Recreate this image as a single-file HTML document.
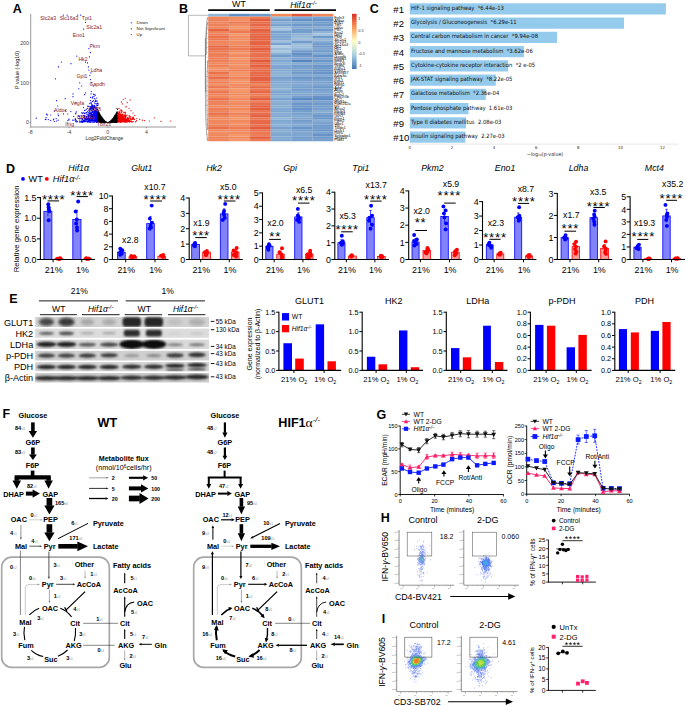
<!DOCTYPE html>
<html lang="en"><head><meta charset="utf-8"><title>Figure</title>
<style>html,body{margin:0;padding:0;background:#fff}svg{display:block}</style></head><body>
<svg width="685" height="706" viewBox="0 0 685 706" font-family="'Liberation Sans', sans-serif" fill="#000">
<rect width="685" height="706" fill="#fff"/>
<g id="pA">
<text x="17.3" y="12.8" font-size="12.5" text-anchor="middle" font-weight="bold">A</text>
<line x1="30.7" y1="13.9" x2="30.7" y2="127" stroke="#555" stroke-width="0.6"/>
<line x1="30.7" y1="127" x2="176" y2="127" stroke="#555" stroke-width="0.6"/>
<line x1="30.36" y1="127" x2="30.36" y2="128.2" stroke="#555" stroke-width="0.5"/>
<text x="30.36" y="134.07" font-size="5.2" text-anchor="middle" fill="#444">-8</text>
<line x1="69.08" y1="127" x2="69.08" y2="128.2" stroke="#555" stroke-width="0.5"/>
<text x="69.08" y="134.07" font-size="5.2" text-anchor="middle" fill="#444">-4</text>
<line x1="107.8" y1="127" x2="107.8" y2="128.2" stroke="#555" stroke-width="0.5"/>
<text x="107.8" y="134.07" font-size="5.2" text-anchor="middle" fill="#444">0</text>
<line x1="146.52" y1="127" x2="146.52" y2="128.2" stroke="#555" stroke-width="0.5"/>
<text x="146.52" y="134.07" font-size="5.2" text-anchor="middle" fill="#444">4</text>
<line x1="29.5" y1="122.6" x2="30.7" y2="122.6" stroke="#555" stroke-width="0.5"/>
<text x="28.8" y="124.47" font-size="5.2" text-anchor="end" fill="#444">0</text>
<line x1="29.5" y1="82.8" x2="30.7" y2="82.8" stroke="#555" stroke-width="0.5"/>
<text x="28.8" y="84.67" font-size="5.2" text-anchor="end" fill="#444">100</text>
<line x1="29.5" y1="43" x2="30.7" y2="43" stroke="#555" stroke-width="0.5"/>
<text x="28.8" y="44.87" font-size="5.2" text-anchor="end" fill="#444">200</text>
<text x="104.4" y="140.1" font-size="5" text-anchor="middle" fill="#222" textLength="37.6" lengthAdjust="spacingAndGlyphs">Log2FoldChange</text>
<text x="16.9" y="71.8" font-size="5" text-anchor="middle" fill="#222" transform="rotate(-90 16.9 70)" textLength="38" lengthAdjust="spacingAndGlyphs">P value (-log10)</text>
<path d="M97.6 120.4h0M97.5 119h0M95 99h0M95.1 118.6h0M84.4 113h0M92.6 114.6h0M94.5 111.8h0M94.9 117.1h0M96 110.3h0M94.2 116.5h0M94.9 115.1h0M95.9 116.9h0M91.6 104h0M95.7 121.1h0M95.7 116.1h0M96.9 115h0M83.5 107.5h0M95.2 120.2h0M96.1 119.7h0M92.7 96.9h0M95.8 114h0M84.4 121.8h0M95.1 111.8h0M96.2 109.9h0M92.8 106.8h0M97.2 118.8h0M91.5 115.4h0M95.4 108.7h0M94.5 110.3h0M87.3 117h0M97.7 118.4h0M91 106.3h0M96.8 121.4h0M83.6 120.5h0M92.8 105.4h0M94.5 113.8h0M89.3 121.8h0M94.5 121.3h0M92.2 104.8h0M96.4 112.4h0M84.5 116.5h0M89.4 121.6h0M96.7 121h0M97.4 116.4h0M98.1 104.9h0M88.9 114.8h0M88.4 120.7h0M86.9 120.8h0M90.2 112.1h0M92.1 114.3h0M97.4 117.3h0M91.8 112h0M92.4 111.7h0M91.2 106.6h0M92.3 115.2h0M90.9 120h0M97 113.6h0M94.2 112.4h0M92.7 101.6h0M96.7 119.3h0M81.8 119.1h0M89.1 116.4h0M95.4 121.4h0M96.6 122.4h0M85.8 119.1h0M89.3 109.8h0M96.7 120.1h0M97 107.7h0M82.2 118.6h0M98.1 110.5h0M92.4 119.8h0M95.9 117.9h0M89.7 119.4h0M89.3 120.2h0M95.4 118.6h0M93.1 117.9h0M90.3 115.6h0M90.8 114.2h0M94.7 107.3h0M88.6 118.6h0M96.1 115.5h0M91 121.2h0M91.4 120.9h0M97.5 109.7h0M93.5 94.1h0M97.5 116.9h0M92.7 115h0M92.2 115.1h0M94.1 117h0M97.8 116.6h0M91.6 110.6h0M90.2 108.5h0M97.3 105.7h0M85.5 119.8h0M94.9 118.9h0M85.8 121.6h0M79.5 121.8h0M87.1 114.8h0M92.6 116.2h0M86.9 119h0M91 114.7h0M92.5 106.4h0M90.3 122.4h0M96.8 116.8h0M95.4 119.4h0M91.9 105.3h0M93.4 120.4h0M97.2 121.8h0M90.3 117.3h0M96.8 109.4h0M89.4 120.6h0M92.9 116.1h0M87.6 106.1h0M94.8 121.4h0M90.5 115.1h0M84.5 110.5h0M88.7 117.1h0M93.2 111.7h0M95.1 113.9h0M94.1 112h0M89.4 113.4h0M83 121.4h0M94.8 115.2h0M93.4 122.2h0M91.4 112.9h0M87.8 122.1h0M87.3 114.9h0M97.9 121.4h0M92.8 111.1h0M95.3 111h0M97.1 108h0M88.6 121.9h0M95.1 117.7h0M95.5 119.6h0M84.7 120.1h0M97.2 119.3h0M97.3 113.3h0M95.4 117.5h0M85.4 113.1h0M93.5 113.5h0M83.7 117.5h0M90.6 119.4h0M98.1 118.6h0M94.3 114.8h0M95.6 114.2h0M89.9 118.9h0M97.8 112.2h0M97 113.3h0M85.3 121.1h0M95 114.2h0M92.2 120.5h0M91.4 114.5h0M95.9 120.4h0M95 114.2h0M96 114.8h0M87.7 119.6h0M91.8 110.2h0M96.4 104h0M85.2 117.1h0M94.5 114h0M85 110.4h0M89.9 119.1h0M94.4 120.2h0M97.1 101.1h0M94.4 116.4h0M94.7 103h0M89.1 121.4h0M97.1 112.3h0M92.4 118.7h0M94.2 118.4h0M93.5 109.5h0M91.8 118.6h0M97.3 118.8h0M97.6 116.8h0M96.6 111.8h0M95.8 101.4h0M94.2 116.7h0M93.5 109.2h0M89 115.2h0M98 103.6h0M94.9 117.9h0M88 114.8h0M96.1 121.7h0M96.1 114.2h0M92 119.8h0M92.2 105.4h0M97 114.8h0M95.4 114.2h0M91.8 108.1h0M84.4 118.5h0M92.9 120.3h0M96.8 115h0M98.1 117.7h0M88.7 112.9h0M97.5 117.4h0M83.2 115.5h0M97.1 103.6h0M95.8 120.8h0M90.3 116.8h0M89.6 111.8h0M94.3 105.3h0M79.8 118.6h0M92.8 120.5h0M93.4 114.5h0M96.7 116.8h0M95.6 115.9h0M90.3 120.5h0M94.5 114.9h0M92.2 112.6h0M94.5 110.3h0M92.9 109.4h0M86.1 118.6h0M93.6 116.9h0M97.4 119h0M94.4 107.6h0M93.2 116.4h0M95.2 118h0M75.6 121.2h0M88.2 114.8h0M94.9 120.2h0M93.8 119.4h0M81.8 121.2h0M86.3 109.3h0M98.1 115.2h0M85.8 119.5h0M96.8 115.8h0M88.7 106.4h0M95.2 103.6h0M96 116h0M95.1 113.4h0M88.8 110.6h0M89 119h0M93.3 107.8h0M90.1 118.4h0M94.8 115h0M88.4 116.2h0M80.1 118.4h0M90.6 119.9h0M98 120.9h0M90.3 109.6h0M95.9 107.8h0M92.3 117.9h0M91.3 106.4h0M95 115h0M91.9 119h0M92.6 117.7h0M82.5 119.4h0M79.8 120.1h0M97.2 118.6h0M93.4 116.7h0M90.2 118.8h0M96.1 113h0M93.5 120.7h0M95.2 120.5h0M91.5 113.2h0M88.9 120.1h0M94.7 117.5h0M94.7 120.1h0M98 117.7h0M98 110.8h0M96.7 109.9h0M88.5 121.6h0M95.7 120h0M92.1 112.6h0M98 116.7h0M97.5 117.2h0M94.7 117.7h0M86.6 117.4h0M97.7 119h0M97.2 120.7h0M96.7 113.7h0M84.5 115.7h0M91.6 112.8h0M95.1 117.4h0M91.4 108.4h0M96.4 117.7h0M96.7 98h0M88.6 119.4h0M85.6 118.6h0M88.4 116.6h0M95.4 111.6h0M95 120.2h0M88.1 112.9h0M92.5 119.1h0M95.2 117.8h0M87.3 118.7h0M97 121.7h0M93.1 112.3h0M97.5 119.9h0M93.6 108.7h0M93.9 120.7h0M86.6 112.4h0M92.4 118.4h0M90.5 115h0M94.8 113.9h0M91.8 117.8h0M88.6 121.8h0M90.1 120.1h0M94.2 120.2h0M97.3 114.3h0M97.4 109.4h0M76.3 120.3h0M86.5 116.7h0M96.6 108.1h0M94.3 115.6h0M86.2 109.3h0M94 106h0M87.8 121.5h0M91.1 119.6h0M94.8 114h0M91.2 121.3h0M97.5 113.5h0M83.4 121.5h0M89.3 118.5h0M96.8 119.1h0M93.9 107.2h0M92 118.2h0M95.6 120.4h0M79.3 116.4h0M96.9 111.4h0M90.5 117.2h0M97.2 115.2h0M95.2 115.1h0M96.7 112.7h0M86.5 112.8h0M94.2 106.4h0M95.7 119.3h0M93.4 116.2h0M94.7 110.3h0M87.6 108.3h0M92.5 107.7h0M89.1 114.9h0M91.1 119.2h0M93.5 115.7h0M93.5 117.7h0M81.6 120.9h0M95.7 121.6h0M97.1 113.9h0M95.9 117.1h0M86.9 114.5h0M88.7 119.2h0M92.7 111.3h0M97.8 114.3h0M97.1 105.5h0M95.3 95.2h0M96.6 109.7h0M97.5 121.1h0M91.1 108.9h0M92.9 121.2h0M96.7 121.2h0M90.2 118h0M91 102.2h0M95.4 116.8h0M94.3 119.8h0M97.2 114.3h0M87.8 122.1h0M95.6 111.8h0M95.3 119h0M88.5 117.3h0M96.4 119.3h0M84.4 113.7h0M94.5 117.3h0M97.5 112h0M94.6 105.9h0M91.1 93.9h0M94.3 119.1h0M94.2 116h0M95.5 115h0M82.9 121.3h0M94.1 110h0M84.9 115.7h0M93 115.6h0M95.1 116.8h0M92 122.3h0M83.1 112.4h0M94.6 118.8h0M94.5 118.3h0M92.5 116.8h0M95 101.5h0M92.9 120.2h0M97.4 119.5h0M97.2 112.2h0M76.1 121.2h0M95.5 118.6h0M93.1 114.7h0M96.5 116.6h0M94.6 122.2h0M81.9 121.9h0M94 96.5h0M97.4 114.7h0M97.9 118.9h0M90.7 121.4h0M97.4 120.7h0M92.9 112h0M90.6 97.4h0M96.6 112.5h0M81.1 115.8h0M92.5 115.9h0M97.4 121.9h0M93.1 118.5h0M94.3 117.3h0M87.7 111.3h0M96.2 120.1h0M93.4 109.4h0M90.4 100.5h0M97.8 103.1h0M78.4 115.9h0M89.9 111.5h0M96.4 112.4h0M89.8 113.5h0M91.9 113.8h0M93.8 116.5h0M86.7 119.9h0M93 121.4h0M90.1 117.1h0M85 120.2h0M91.8 106.5h0M89.5 108.8h0M96.7 120h0M91.5 107.4h0M95 116.3h0M90 109.3h0M95.1 120.9h0M86.9 121.8h0M85.2 120h0M91.7 110.7h0M92.8 121.2h0M94.3 114.5h0M95.3 110.3h0M93.1 108.4h0M95.7 115.1h0M89.5 114.8h0M95.8 111.8h0M93 116.3h0M91.6 118.6h0M96 112.2h0M95.6 113.6h0M83.6 115.8h0M86.9 120h0M94.8 114.9h0M97.9 112.6h0M82.5 121.4h0M88.5 120.2h0M84.6 119.1h0M83.1 120.1h0M89.4 121h0M92.4 108.3h0M87.5 118.9h0M96.6 105.8h0M97.6 117.8h0M95.6 119.2h0M95.9 120.5h0M96.1 111.6h0M95.4 112.4h0M84.7 121.4h0M94.1 115h0M76.4 122h0M97.6 114h0M92.3 112.6h0M96.1 120.7h0M89.4 109.9h0M97.9 116.1h0M91.3 120h0M88.5 121.4h0M96.6 115.3h0M95.9 121.1h0M90.8 120h0M95.5 114.6h0M95.2 106.7h0M91.4 115.8h0M84.1 118.1h0M88.6 117.7h0M96.3 119h0M91.1 102.9h0M95.4 110.8h0M95.4 115h0M96 116.8h0M97.2 118.2h0M94.3 98.5h0M95.1 115.1h0M96.5 117.3h0M97.4 118.9h0M96.7 115.1h0M94.2 111h0M92.7 117.1h0M90.6 108.1h0M96.7 120.6h0M94.8 116.5h0M91.4 115.9h0M88.2 117.1h0M96.4 117.1h0M80.9 121.7h0M96.4 112.9h0M81.4 122.2h0M83.7 120.7h0M95.1 121.4h0M96.1 101h0M95.8 100.4h0M82.7 113.6h0M88.1 118.4h0M94.2 113h0M97.9 115.6h0M97.3 118.4h0M90.5 115.1h0M91.5 116.7h0M94.8 121.5h0M91.7 113.1h0M90.6 112.9h0M89.8 103.7h0M90 106.8h0M96.2 118h0M91.8 114.5h0M92.1 115.2h0M89.7 119.8h0M95.7 112.9h0M94.4 116.3h0M82.8 122.4h0M90.2 118h0M88.1 116.9h0M98.1 116.8h0M46.1 117.7h0M56.2 118.6h0M79.4 116.8h0M53.9 119h0M67.9 120.6h0M47.3 114.9h0M54.4 111.1h0M46.5 114.2h0M68.8 119.1h0M58.1 114h0M76.3 111.8h0M45.3 119.6h0M81.3 118h0M48.3 119.6h0M54.4 121.5h0M50.7 115h0M58.2 120.2h0M53.4 119.8h0M57.7 106h0M75.5 119.7h0M63.5 113.9h0M80 122.1h0M74 120.1h0M69.1 119.8h0M77.6 121.7h0M72.7 120.2h0M58.4 115.7h0M70.9 111.6h0M73.7 116.3h0M81.2 115.5h0M79.9 121.9h0M75.9 113.2h0M67.7 114h0M75.3 118.7h0M78.6 118.5h0M65.5 110.6h0M81.5 112.8h0M75.4 113.8h0M93.3 100.7h0M92.3 97.9h0M94.2 94.7h0M91.3 91.6h0M93.3 86h0M91.3 82.8h0M90.4 79.6h0M89.9 75.6h0M90.9 72.8h0M88.9 70.1h0M88.4 66.9h0M87.5 62.9h0M85.5 62.1h0M89.4 56.9h0M90.4 52.6h0M88.9 48.6h0M83.6 29.1h0M85.5 22.3h0M79.7 82.8h0M81.7 86h0M78.8 88.8h0M85.5 92.8h0M73 93.9h0M73 96.7h0M84.6 94.7h0M65.2 98.7h0M56.5 100.7h0M75.9 102.7h0M61.3 62.1h0M58.4 66.9h0M71 63.7h0M76.8 56.1h0M55.5 78.8h0M63.3 15.1h0M67.1 15.1h0M77.8 15.1h0M80.7 15.1h0M36.2 118.2h0M45.8 119.4h0M50.7 120.6h0M56.5 121h0" stroke="#0000ee" stroke-width="1.24" stroke-linecap="round" fill="none"/>
<path d="M117.7 113.6h0M120.1 117.3h0M133.3 121.6h0M119.3 117.1h0M120.5 114.5h0M120.9 118.2h0M125.4 115.7h0M128.9 118.2h0M125.9 122.4h0M127.7 117.9h0M123.8 119.2h0M119 117.3h0M121.9 119.8h0M119 114.8h0M124.5 115.7h0M118.3 120.4h0M119.8 118h0M120.8 119h0M129.3 117.9h0M135.6 122h0M122.2 121.4h0M122.1 117.7h0M125.4 113.1h0M119.5 118.8h0M124.9 118.4h0M124.5 121.1h0M125.9 118.8h0M123.1 118h0M124.4 116.9h0M123.8 118h0M124.6 119.4h0M119.9 121.4h0M121.2 116.5h0M117.6 112.1h0M117.5 121h0M129.2 115.6h0M123.4 117.1h0M124.4 120.4h0M121.2 118.7h0M119.8 116.3h0M127.9 120.9h0M120.6 117.3h0M120.3 115.2h0M122.5 116.4h0M119.3 118.2h0M132.3 121.9h0M117.8 119.4h0M123.2 120.9h0M135.7 121.7h0M123.8 112.4h0M120.8 117.8h0M117.9 117.5h0M123.1 121.5h0M124.2 119h0M125.7 116.8h0M124.5 116.1h0M127.6 119.8h0M118.6 117.1h0M123.4 121.2h0M118.2 114.6h0M121.8 116.8h0M122.8 121h0M125.8 119.5h0M120.8 117.2h0M122.2 119.2h0M127.6 120.7h0M118.6 116.8h0M117.8 117.9h0M119.8 118.2h0M123.7 118h0M125.1 114.4h0M118.9 120.6h0M131.7 121.7h0M124 119.8h0M119.6 112.6h0M119.7 119.5h0M117.7 116.1h0M127.1 117.9h0M126.3 115.9h0M120.7 114.7h0M117.9 120.2h0M120.1 118.9h0M118 119.8h0M130.4 121.4h0M118.4 119.9h0M117.8 121.5h0M121.2 119.6h0M126.2 119.9h0M130.7 121.2h0M119.1 115.6h0M122.1 117h0M118.8 118.5h0M120.7 117h0M117.8 120.9h0M119.8 121.1h0M119 115.9h0M127.1 122h0M133.6 117.1h0M123.8 120.5h0M124.9 120.3h0M128 120.2h0M123.9 121.2h0M122.3 120.2h0M118.2 116.5h0M121.1 115.3h0M118.4 115.8h0M129.4 120.6h0M127.7 119h0M122 121.4h0M125.1 116.7h0M118.1 118.1h0M132.6 117.3h0M121.8 121.4h0M128 118.3h0M120.2 121.1h0M118.9 116.2h0M128.5 118.9h0M119.1 120.2h0M125.4 120.4h0M117.5 120.6h0M121.8 110.4h0M128.3 120h0M122.8 114.2h0M122.5 121.6h0M118.2 121.2h0M119.3 117.4h0M124.4 119h0M122 115.6h0M127.8 121.9h0M118.1 112h0M125.2 119h0M120 116.9h0M124.9 117h0M128.1 120.2h0M124.7 121h0M118.7 118.4h0M120.4 117.4h0M125.7 119.5h0M119 108.4h0M127.5 117.6h0M125.4 117.4h0M134 118.9h0M119.7 122h0M122.1 120.4h0M126.9 119.2h0M117.8 119.9h0M117.6 119.3h0M118.6 118.7h0M122 117.7h0M121 111.8h0M131.7 121.9h0M121.2 116.8h0M128.3 119.1h0M126.1 120.6h0M118.2 121.4h0M131 120.9h0M121.1 121.2h0M119.5 117.6h0M126.5 121.5h0M127.2 118.2h0M119.4 120.4h0M121.5 114.8h0M133.3 118.3h0M120.3 122.4h0M121 116h0M124.6 120.6h0M127.1 115h0M122.1 111.7h0M117.9 120.7h0M122 117.5h0M124.9 112.8h0M119 118.8h0M121.2 119.1h0M136.6 120.7h0M128.7 119.3h0M129.6 122.1h0M117.5 117.9h0M119.3 111.7h0M123.4 114.8h0M127.4 117.8h0M128.2 118.3h0M122.3 118.8h0M121.7 121.4h0M122.8 116.8h0M130.9 118.6h0M120.6 121.9h0M121.2 112.5h0M118.2 114h0M121 117.2h0M121.9 114.4h0M117.5 119h0M119.3 119.3h0M127.6 120.7h0M122.9 116.6h0M118.4 120.9h0M124.3 122.1h0M123.9 118h0M119.7 118.2h0M118.9 120.3h0M126.8 118.9h0M117.9 119.4h0M125 115.8h0M119.9 118.6h0M121 115.6h0M122.2 121.3h0M123.3 116.3h0M119.9 119.9h0M134.4 119.4h0M122.9 117.4h0M118.6 121.3h0M130.2 116.8h0M118.2 119.2h0M117.6 117.6h0M121.7 119.3h0M119 117.2h0M118.3 119.3h0M122.6 118.9h0M131.9 121.7h0M124.6 115.2h0M125.1 121.6h0M128.6 121.2h0M123.6 118.9h0M118.4 117.5h0M123.7 120.3h0M126 120.5h0M119.5 114.2h0M130.2 116.3h0M130.9 117.9h0M117.8 118.8h0M118.2 120.4h0M124.7 119.5h0M124.6 120.1h0M120.4 115.4h0M132.7 117.9h0M117.9 121.2h0M119.1 121.9h0M118 116.6h0M127.4 121.8h0M125.5 115.6h0M118.3 113h0M121.2 120.6h0M130.2 119h0M117.9 120.9h0M120.5 119.3h0M132.4 119.5h0M118 120.8h0M118.4 116.7h0M125.5 119.9h0M121.1 119.3h0M126 106.9h0M120.2 110.2h0M123 119.5h0M124.4 121.8h0M117.5 121.8h0M117.9 116.9h0M118.4 119.8h0M130.9 117.8h0M123.2 117.7h0M119.4 121.3h0M122.3 116.7h0M130.3 118.6h0M129.1 116.1h0M124.4 120.9h0M120.4 121.4h0M119 117.7h0M122.7 118.4h0M125.1 115.6h0M121.1 122.1h0M122.7 116.5h0M132.4 119h0M131.2 119.4h0M122.1 115.7h0M118.1 117.6h0M118.7 120.1h0M123.3 118.2h0M117.8 121.4h0M122.5 115.2h0M125.3 112h0M118.3 116.5h0M119.5 116.8h0M121.8 119.7h0M124.3 116.7h0M121.1 119.9h0M117.7 121.2h0M123.8 119.9h0M132.6 119.4h0M124.5 116.7h0M121.2 117.7h0M119.4 119.6h0M129.5 120.4h0M123.9 116.8h0M122.2 121h0M119.2 118.2h0M128.9 117.8h0M121.6 120.9h0M128.9 121.1h0M118.1 122.2h0M117.7 121.9h0M118.6 114.1h0M121 121.2h0M121.5 121.7h0M123.8 121.6h0M123 122.1h0M121.2 121.1h0M125.5 117.8h0M120.5 114.7h0M122.2 121.3h0M119.7 121.8h0M120 117.3h0M119.2 113.3h0M125.5 119.3h0M120.9 113.3h0M117.9 119.8h0M121.1 121.3h0M120.5 120.7h0M117.8 118.5h0M128.9 121.5h0M118.3 119h0M124.6 116.7h0M121.5 120.4h0M120.4 119.2h0M119.3 113.5h0M121.3 109.9h0M119.8 117.9h0M126.8 120.7h0M125.8 120.9h0M131 119.8h0M118.7 119.7h0M124.3 121.2h0M129.8 121.5h0M123.3 99.5h0M125.2 98.3h0M130.1 99.9h0M122.3 103.9h0M126.2 106.3h0M129.1 108.3h0M131 110.7h0M133 113h0M134.9 115.4h0M136.8 118.6h0M139.7 119.4h0M142.6 120.2h0M144.6 120.6h0M149.4 121h0M154.3 117.8h0M161 121.4h0M170.7 121h0M121.4 101.9h0M127.2 102.7h0" stroke="#ee0000" stroke-width="1.24" stroke-linecap="round" fill="none"/>
<path d="M104.4 122.3h0M110.7 122.5h0M108.5 122.5h0M99.2 117.6h0M98.8 118h0M99.5 121.7h0M106.3 122.1h0M100.5 120.9h0M110.3 121.3h0M109.3 122.4h0M117 122.1h0M114.7 120.6h0M100.9 121.8h0M104.1 120.5h0M101.6 119.2h0M110.5 122h0M108.7 122.6h0M99.3 120.6h0M111.3 121.6h0M104.2 121.2h0M106.9 122.5h0M113.5 119h0M102.8 120.3h0M108.3 122.5h0M112.2 121.6h0M117.1 121.3h0M106.2 122.1h0M101.1 119.3h0M98.9 115.6h0M112.9 120.1h0M115.1 120.2h0M111.6 121h0M109.3 122.3h0M114.4 116.5h0M107.3 122.5h0M99.3 115.8h0M110.6 120.9h0M114 120.9h0M105.6 121.8h0M98.6 117.5h0M101.4 121.9h0M99.3 115.1h0M100.6 120.8h0M105.7 121.7h0M99.7 118.6h0M108.8 122.3h0M114 117.6h0M103.5 121.3h0M105.1 121.2h0M116.7 121h0M101.5 121.2h0M102.6 120.5h0M109.5 122.4h0M98.2 117.7h0M105.3 121.8h0M116.6 115.6h0M108.1 122.6h0M111.2 122.5h0M115.5 116.1h0M115.1 116.6h0M105.7 122.2h0M100.1 117.4h0M99.3 121.9h0M102.2 121.8h0M104.7 122.5h0M98.1 120.8h0M100.1 119.6h0M98.6 113h0M110 122.4h0M103 121.3h0M105.2 122.4h0M114.6 115.9h0M107.1 122.5h0M99.8 121.7h0M104.8 122.1h0M114.2 121.6h0M98.6 112.1h0M108.3 122.6h0M108.6 122.6h0M108.3 122.5h0M114.8 117.6h0M103.2 121.3h0M101.4 117.8h0M108.4 122.5h0M104.5 122.1h0M113.8 117.1h0M114.6 117.1h0M114 118.3h0M102.5 120.2h0M105 122.6h0M98.7 119.6h0M103.1 120h0M116.6 118h0M116.3 113.1h0M116.6 118.9h0M102.4 121.5h0M101.9 121.5h0M110.2 121.4h0M114.4 119.5h0M110.8 121.2h0M99.8 116.7h0M115.7 115.8h0M112.6 120.7h0M101.6 118h0M104.6 120.9h0M116.9 118.3h0M105.9 121.8h0M112.2 122h0M100.6 121.5h0M115.6 115.7h0M100.9 116.9h0M117.1 115.2h0M104.9 121.6h0M100.7 122.5h0M116.9 115.6h0M108.3 122.5h0M106.5 122.2h0M114.1 121.3h0M103 121.5h0M102.8 120.1h0M103.1 121h0M100.7 115.9h0M105 121.8h0M109.4 122h0M106.3 122h0M107.8 122.6h0M108.3 122.6h0M106.6 122.5h0M98.2 113.2h0M101.5 119.7h0M112.2 120.7h0M104.4 121.5h0M108.9 122.3h0M100.2 118h0M102.9 121.5h0M113.1 120.3h0M109 122.3h0M115.8 118.7h0M110 122h0M108 122.6h0M106.9 122.5h0M107.4 122.5h0M111.7 120.2h0M116.4 120.1h0M109 122.2h0M114.4 121.7h0M100.5 119.2h0M99.5 120.4h0M99.5 116.4h0M113.3 118.3h0M101.1 117.9h0M110.9 122.3h0M115.2 115.1h0M102.4 118.1h0M105.8 122.1h0M117.3 113h0M101.2 119.8h0M108.1 122.6h0M101.9 120.9h0M112.1 122.5h0M108.8 122.5h0M98.5 118.9h0M110.2 121.9h0M99.4 113.2h0M113.4 117.8h0M100.1 120.4h0M98.9 114.4h0M103.4 122.2h0M106.3 122h0M114 121.1h0M101 116.4h0M109.2 122.2h0M99.9 122.1h0M111.4 121.5h0M99.5 113.9h0M110.4 121.4h0M99.7 115h0M99.4 114.4h0M106.9 122.5h0M108.8 122.3h0M103.3 122.1h0M108.3 122.6h0M100.2 121.3h0M99.1 120.6h0M104.2 121.8h0M112.8 121.4h0M107.8 122.6h0M104.8 122.6h0M103 122.5h0M112.3 120.7h0M101.8 120h0M116.2 121.6h0M114 120.1h0M107.7 122.6h0M105.7 122.1h0M111.4 120.2h0M104.8 121h0M111.8 120.8h0M106 122.3h0M99.2 121.3h0M99.5 115.7h0M103.1 122h0M99.8 115.1h0M115 117.6h0M103.6 121.8h0M103.8 121.3h0M101.2 119.7h0M103.2 119.1h0M116.9 116.6h0M102.9 118.7h0M104.1 121.7h0M98.1 118.1h0M107.3 122.5h0M102 120h0M98.2 119.5h0M99.9 119.1h0M98.9 122.4h0M104 122h0M109.5 122.2h0M112.7 120h0M112 119.9h0M105.7 122.3h0M117.2 120.9h0M112.1 120.5h0M99 114h0M115.4 117.5h0M112.3 119.7h0M100.8 118.9h0M107.9 122.6h0M113.7 118.1h0M109.4 122h0M111.3 120.9h0M102.6 122.5h0M100.7 120h0M100.2 115.8h0M108.9 122.4h0M110.2 121.7h0M107.6 122.6h0M113.6 118.7h0M107.9 122.6h0M110.9 122.5h0M112.4 121.7h0M99.6 120.2h0M112.2 121.9h0M112.4 119h0M107.7 122.6h0M107.4 122.5h0M113 119.9h0M110.6 122.5h0M101 120.9h0M112.5 121.5h0M109.1 122.6h0M99.3 120h0M111.1 121.1h0M111.2 121.9h0M108.1 122.6h0M107.1 122.6h0M115.4 121h0M117.1 112.2h0M98.5 117.4h0M114 116.9h0M106.8 122.5h0M102.2 117.9h0M102.2 119.7h0M100.9 118.9h0M116.6 121.2h0M114 119.6h0M115.3 117h0M102.6 118.6h0M107.5 122.6h0M98.2 116.8h0M106.8 122.5h0M100.8 120.2h0M104.2 120.6h0M98.2 113.7h0M114.4 121.8h0M116.1 116h0M115.6 120.2h0M105.3 122.1h0M117.5 115.6h0M105.1 121.9h0M103.4 122.4h0M100.1 115.7h0M103.6 119.7h0M102.9 121.5h0M108 122.6h0M105.3 121.3h0M115.2 116.2h0M110.3 121.3h0M116.3 117.2h0M112.1 122.4h0M112.3 121h0M112.7 120h0M103.7 122.4h0M116.1 121.4h0M107.3 122.6h0M103.9 120.5h0M117 119.7h0M110.8 122h0M108.9 122.5h0M101.4 121.6h0M102.1 118h0M107.7 122.6h0M115.7 114.1h0M106.8 122.6h0M101.8 122.1h0M104.7 122.4h0M102.7 121.5h0M109.1 122.1h0M112.6 121h0M106.1 122.2h0M105.4 122.2h0M99.3 119.9h0M116.9 121.2h0M107.9 122.6h0M114.8 121.1h0M103.4 121.7h0M105.9 122.2h0M116.6 113.9h0M115 122.4h0M98.7 115h0M115.5 118.7h0M109.5 122.6h0M105.7 121.6h0M114.1 117.5h0M116.9 119.9h0M100.2 121.4h0M108.2 122.5h0M116.3 115.5h0M110.7 121.3h0M107 122.5h0M98.9 114.4h0M102.6 118.6h0M110.6 122.1h0M100.6 120.7h0M110.4 121.6h0M100.3 122h0M108.3 122.5h0M105.6 122.4h0M109.8 122.6h0M104 121.3h0M116.7 115.9h0M115.2 118.9h0M102.7 121.5h0M116.7 115.2h0M104.1 122.5h0M107.8 122.6h0M106.3 122.4h0M111 120.7h0M102.5 122.4h0M104.7 121.8h0M111.3 122.1h0M113.6 118.8h0M107.9 122.6h0M116.9 119.2h0M114 121.3h0M102.4 119h0M103.8 119.9h0M107.7 122.6h0M102.4 120.7h0M111 120.7h0M101 119.9h0M102.2 117.8h0M100.9 122.2h0M99.3 118.8h0M115.5 115.3h0M112.3 119.1h0M116.2 119.5h0M101.7 117.3h0M112.6 122.5h0M111 121.8h0M105.4 122.2h0M101.4 122.6h0M103.5 121.5h0M116.6 121.3h0M116.8 120.4h0M105 121.3h0M114 120h0M99.1 117.8h0M105.3 121.4h0M101.9 120.6h0M115.5 122.4h0M106.1 122h0M113 122.4h0M98.8 121.9h0M115.9 120.3h0M112.6 119.1h0M104.7 122.1h0M116.7 116.2h0M103.2 120h0M104.2 121.9h0M98.2 113.7h0M115.9 117h0M116.4 122.4h0M102.6 120.5h0M116.6 112.7h0M105.6 122.3h0M106.4 122.3h0M116.1 120.9h0M113.7 118.7h0M114 118h0M109.9 122.3h0M104.3 121.8h0M113.3 122.2h0M101.9 118.6h0M102.9 122.3h0M98.8 116.7h0M104.4 120.4h0M115.2 114.9h0M103.2 122.3h0M100 118.4h0M111.9 121.3h0M102.7 120.8h0M110.1 121.8h0M112.6 119.3h0M111 122.4h0M114.4 120.7h0M109.1 122.4h0M112.4 121.9h0M102.9 121.6h0M101.1 116.7h0M109.3 122.4h0M105.8 121.6h0M107.9 122.6h0M113.8 119h0M117.3 121.4h0M107.3 122.5h0M114.4 116.7h0M98.9 119.5h0M100.4 121.1h0M117 116.2h0M116.1 119.1h0M114.9 119.3h0M103.2 119.7h0M116.4 121.5h0M109.7 122.1h0M102.3 120.8h0M100.9 121.2h0M103.1 120.3h0M110.7 122.2h0M98.3 118.8h0M111.3 122.2h0M104.2 122.1h0M113.5 119.8h0M99.3 121.6h0M105.8 122.1h0M110.5 122.5h0M101.3 118.2h0M106.1 122.4h0M104.1 120.1h0M104.2 121.2h0M105 121.9h0M114.9 115.4h0M105.2 122.3h0M112.2 121.9h0M98.2 112h0M106.3 122.1h0M106 121.9h0M107 122.6h0M98.4 116.3h0M110.5 121.2h0M99.8 117.2h0M105.3 121.9h0M100.9 120.7h0M108.2 122.5h0M100.2 118.6h0M113.7 117.4h0M101.9 121.9h0M116.4 113h0M107.5 122.6h0M116.1 119h0M115.6 117.3h0M114.1 121.6h0M113.3 121.5h0M106 121.9h0M114.2 121.5h0M102.3 120.7h0M108.1 122.6h0M100.5 120.7h0M112.2 119.6h0M98.9 116.7h0M112.8 122.4h0M114.3 121.8h0M109.7 122.1h0M110.3 122.2h0M106.3 122.2h0M106.4 122.2h0M106.8 122.5h0M98.6 115.8h0M107.6 122.6h0M112.9 119.3h0M107 122.6h0M107.3 122.6h0M100.6 119.4h0M99.9 118.8h0M108 122.6h0M110.4 122.5h0M112.3 119.9h0M108 122.6h0M107.9 122.6h0M116.5 121.2h0M114.7 115.7h0M112.3 119.8h0M101.9 117.2h0M107.6 122.6h0M115.9 121.1h0M113.4 118h0M99.4 119.3h0M112.8 121.9h0M115.5 120.3h0M113.9 121.8h0M107.8 122.6h0M102.2 121.3h0M107.9 122.6h0M98.8 120.7h0M101.2 116.6h0M111.3 120.5h0M101.4 117.8h0M100.3 118.4h0M110.4 122.1h0M115 118.5h0M109.3 122h0M100.1 114.5h0M110.3 122.1h0M113.6 121.2h0M117.3 115.9h0M105.1 121.4h0M106.7 122.5h0M112.5 122.4h0M114 121.1h0M110.5 121.1h0M109.5 122.1h0M104.2 122.6h0M98.8 121h0M110 122.1h0M108 122.6h0M100.7 120.9h0M110.8 122.6h0M98.2 118.4h0M100.2 119.7h0M102.5 119.9h0M109.5 122.4h0M110.2 122h0M100.7 115.8h0M102.8 122h0M100 117.2h0M115 116.8h0M105.9 122.4h0M98.3 115.2h0M109 122.5h0M110.6 121.9h0M116.3 115.5h0M102.9 119h0M99 117.1h0M106 122.4h0M99.3 115h0M98.4 116.3h0M116.3 121.2h0M102 119.4h0M107.9 122.6h0M113.9 121.6h0M104.1 121.8h0M99.1 113.6h0M113.3 119.2h0M98.2 112.7h0M112.5 120.8h0M112.5 120.9h0M102.5 122.1h0M102.6 122.4h0M104.6 121.1h0M111.6 120.4h0M111.9 121.8h0M108.8 122.5h0M113.4 120h0M103.3 120.3h0M116.8 120.3h0M115.2 122.5h0M103.2 121.7h0M112.5 119h0M112.6 121.3h0M115.2 120.1h0M102.8 118.8h0M110.3 121.6h0M111 120.6h0M107.2 122.5h0M111.6 120.3h0M106.6 122.3h0M109.2 122.4h0M102.2 119.5h0M99.6 114.3h0M100.9 122.4h0M100.2 115h0M104.8 122.3h0M98.7 122.1h0M111.5 121h0M111.6 120.6h0M99.4 117h0M105.2 121.4h0M114 117.4h0M99.4 114.3h0M115.8 114.3h0M100.2 120.9h0M100.3 122.3h0M114.5 117.2h0M110.4 121.4h0M110.3 122.2h0M100.1 121.8h0M112.8 121.8h0M104.3 121.6h0M98.5 119.7h0M103.6 120.3h0M105.2 122.1h0M116.8 117.3h0M114.6 118.4h0M98.7 118.1h0M106.6 122.3h0M104.8 121.3h0M108.5 122.6h0M114.8 122h0M114 121.6h0M98.1 120.2h0M112.9 118.4h0M98.2 116.8h0M107.6 122.6h0M101.7 119.8h0M104.8 121.1h0M103.2 119.1h0M103.6 121.9h0M111.7 121.2h0M100.2 117.5h0M99.7 115.5h0M111.6 120.5h0M110.3 122.1h0M105.9 122.2h0M115.4 121.9h0M115.3 122.4h0M102.1 121.3h0M115.6 118.4h0M105.5 121.5h0M102.6 120.6h0M108.4 122.5h0M112.7 120h0M104.9 122h0M101.1 117h0M110.9 121.1h0M101.4 119.9h0M113.1 120h0M100.6 119.1h0M115.3 120.7h0M101.8 120.9h0M111.7 120.2h0M101.1 121.6h0M102.9 121.3h0M108.2 122.6h0M104.5 122.2h0M117 114.6h0M100.1 114.6h0M100.1 119.4h0M117.2 113.6h0M112.3 121.1h0M101.9 119.2h0M100.2 120.9h0M105.6 122.6h0M105.8 121.9h0M111.5 121.3h0M110.4 121.9h0M100.9 118.4h0M106 122h0M115.7 118.9h0M109.2 122.2h0M106.3 122.5h0M112.1 119.7h0M113.1 119.4h0M114.6 118h0M110.5 121.9h0M104.2 121h0M100 119.1h0M113.3 119.2h0M110.3 122.3h0M106.3 122.3h0M110.2 122.1h0M111.2 120.5h0M101.7 118.8h0M113.2 120.8h0M107.6 122.6h0M98.9 116.9h0M101.2 117.6h0M116.3 117.5h0M100.1 117.8h0M108.6 122.4h0M108 122.6h0M114.2 119.4h0M106.1 121.9h0M102.2 119.2h0M105.7 121.8h0M100.5 115.1h0M105 122.5h0M103.4 121.3h0M98.4 117.8h0M106.3 122.2h0M104.9 122.1h0M102.5 119.2h0M116.3 117.5h0M102.4 118.8h0M105.7 122.4h0M100.6 116.9h0M113.8 119.1h0M107.2 122.5h0M102.5 118.2h0M105 121.5h0M114 117.9h0M107.2 122.6h0M108.7 122.6h0M114.3 120.4h0M114.6 120.8h0M105.4 122.3h0M106.4 122.5h0M98.2 114.1h0M103.6 121.8h0M104 121.3h0M106.4 122.3h0M110.9 121.9h0M116.1 114.6h0M99.2 114.5h0M115.7 115.9h0M100.8 116.7h0M110.4 122.6h0M98.3 111.7h0M110.8 122.1h0M100.1 121.4h0M102.6 119.2h0M104.8 122.3h0M115.6 115.9h0M101.4 117.1h0M109.9 121.8h0M111.1 120.7h0M113.4 118.5h0M101.9 118.9h0M108.4 122.5h0M106.6 122.2h0M108.9 122.5h0M102.7 122h0M107.7 122.6h0M107.2 122.6h0M107.6 122.6h0M108.6 122.4h0M98.2 112.8h0M107.2 122.5h0M111 120.9h0M105.4 122.1h0M116.7 121.8h0M110.5 121.6h0M98.7 116h0M111.3 120.4h0M104.5 120.5h0M108 122.6h0M115.5 122.3h0M112 120.6h0M104.7 120.9h0M105.2 121.9h0M108.3 122.5h0M102.2 120.4h0M106.3 122.3h0M114.1 120.8h0M114.1 120.1h0M107.9 122.6h0M107.9 122.6h0M110.8 121.2h0M104.5 121.9h0M103.9 121h0M110.4 121.4h0M98.9 115.1h0M115.3 118.3h0M99.1 119.6h0M98.2 120.4h0M116 117.1h0M110.9 121.1h0M115.7 117.3h0M110.1 121.9h0M111.6 121h0M111.3 122.1h0M111 121.7h0M112.9 122.2h0M101.6 122.4h0M113.1 118.4h0M110.8 121.9h0M114 117.9h0M109 122.5h0M104 121.5h0M104.3 121.6h0M110.5 121.1h0M99.2 117h0M98.9 121.4h0M113.8 119.4h0M115.9 118.6h0M98.4 118.2h0M109.6 121.9h0M117.1 117.3h0M106.1 122.5h0M110.6 122.3h0M101.1 122.5h0M98.2 114.6h0M100.5 115.2h0M99.8 115h0M100.6 122.5h0M112 121.8h0M112.3 121.9h0M99.1 114.8h0M111.9 120h0M112.2 122.3h0M110.3 121.6h0M107 122.4h0M103 118.9h0M112 122.6h0M98.4 115.2h0M113.9 122.1h0M104.1 120.8h0M101.3 117.2h0M107.5 122.6h0M105.2 121.8h0M106.6 122.3h0M100.9 117.1h0M105.2 121.6h0M110.3 122h0M105.6 121.7h0M116.4 114.8h0M109.1 122.5h0M99.3 113.1h0M111.7 120.3h0M104.5 121.3h0M117 113.4h0M109.8 122.3h0M106.4 122.1h0M105.4 121.7h0M109.8 121.8h0M113.8 121h0M98.2 119.5h0M106.3 122.2h0M113.9 117.5h0M98.9 114h0M113.8 117.7h0M109.2 122.5h0M114.6 117.1h0M111.4 120.4h0M104.8 122.4h0M108.8 122.3h0M102 118.7h0M116.2 120.4h0M109.9 121.9h0M107.1 122.6h0M103.1 119.7h0M113.4 120.3h0M99.8 115.5h0M113.1 121.5h0M109.3 122h0M115.3 118.5h0M107.3 122.5h0M101.8 121.5h0M101.6 118.5h0M105.1 121.7h0M105.9 122.1h0M101 122.3h0M117.4 118.2h0M100.2 117.4h0M113.4 121.8h0M109.7 122.3h0M108.2 122.6h0M98.8 112h0M114.9 119.1h0M109.1 122.5h0M113.2 120.6h0M116.4 115h0M114 117h0M103 122.5h0M102 121.7h0M99.7 122.1h0M108.9 122.3h0M107 122.4h0M115.7 122h0M109.7 122.2h0M100.4 115.2h0M103.1 120.5h0M110.5 121.1h0M111.1 121.8h0M106.8 122.5h0M116.8 112h0M102.4 122.4h0M103.1 121.3h0M115.6 115h0M114.3 122.3h0M113.3 119.1h0M110.6 120.9h0M99.2 121.2h0M112.7 118.8h0M111.2 121.9h0M109.6 122h0M100.2 120h0M103.1 122.1h0M107.4 122.6h0M102.7 122h0M117.5 109.5h0M117 108.3h0" stroke="#000" stroke-width="1.24" stroke-linecap="round" fill="none"/>
<text x="48.1" y="20.17" font-size="5.2" text-anchor="middle" fill="#8b1a1a">Slc2a3</text>
<text x="69" y="20.17" font-size="5.2" text-anchor="middle" fill="#8b1a1a">Slc16a3</text>
<text x="86.8" y="20.17" font-size="5.2" text-anchor="middle" fill="#8b1a1a">Tpi1</text>
<text x="94.2" y="28.67" font-size="5.2" text-anchor="middle" fill="#8b1a1a">Slc2a1</text>
<text x="78.9" y="36.57" font-size="5.2" text-anchor="middle" fill="#8b1a1a">Eno1</text>
<text x="94.8" y="47.87" font-size="5.2" text-anchor="middle" fill="#8b1a1a">Pkm</text>
<text x="83" y="61.37" font-size="5.2" text-anchor="middle" fill="#8b1a1a">Hk2</text>
<text x="96.5" y="72.27" font-size="5.2" text-anchor="middle" fill="#8b1a1a">Ldha</text>
<text x="82" y="78.27" font-size="5.2" text-anchor="middle" fill="#8b1a1a">Gpi1</text>
<text x="97.2" y="86.17" font-size="5.2" text-anchor="middle" fill="#8b1a1a">Gapdh</text>
<text x="77.4" y="105.47" font-size="5.2" text-anchor="middle" fill="#8b1a1a">Vegfa</text>
<text x="60.6" y="111.57" font-size="5.2" text-anchor="middle" fill="#8b1a1a">Aldoc</text>
<text x="94.6" y="110.57" font-size="5.2" text-anchor="middle" fill="#8b1a1a">Cd28</text>
<text x="85.8" y="119.37" font-size="5.2" text-anchor="middle" fill="#8b1a1a">Cdkn1a</text>
<text x="69.7" y="126.47" font-size="5.2" text-anchor="middle" fill="#8b1a1a">Ifng</text>
<text x="104" y="126.47" font-size="5.2" text-anchor="middle" fill="#8b1a1a">Tbx21</text>
<circle cx="131.3" cy="22.8" r="0.6" fill="#0000ee"/>
<text x="136.6" y="24.38" font-size="4.4" fill="#222">Down</text>
<circle cx="131.3" cy="28.8" r="0.6" fill="#000"/>
<text x="136.6" y="30.38" font-size="4.4" fill="#222">Not Significant</text>
<circle cx="131.3" cy="34.7" r="0.6" fill="#ee0000"/>
<text x="136.6" y="36.28" font-size="4.4" fill="#222">Up</text>
</g>

<g id="pB">
<text x="183.6" y="12.7" font-size="12.5" text-anchor="middle" font-weight="bold">B</text>
<text x="239" y="7.4" font-size="8.9" text-anchor="middle">WT</text>
<text x="303.5" y="7.57" font-size="8.8" text-anchor="middle" font-style="italic">Hif1α<tspan font-size="70%" dy="-0.4em">-/-</tspan></text>
<line x1="208.2" y1="10.1" x2="269.8" y2="10.1" stroke="#000" stroke-width="1.9"/>
<line x1="274.5" y1="10.1" x2="336" y2="10.1" stroke="#000" stroke-width="1.9"/>
<rect x="208.2" y="13.8" width="20.9" height="2.8" fill="#8fb5d8"/>
<rect x="229.05" y="13.8" width="20.9" height="2.8" fill="#5e8fc6"/>
<rect x="249.9" y="13.8" width="20.9" height="2.8" fill="#6c9bcd"/>
<rect x="270.75" y="13.8" width="20.9" height="2.8" fill="#f08a58"/>
<rect x="291.6" y="13.8" width="20.9" height="2.8" fill="#e2573a"/>
<rect x="312.45" y="13.8" width="20.9" height="2.8" fill="#f0865a"/>
<rect x="208.2" y="16.6" width="20.9" height="2.45" fill="#ef865d"/>
<rect x="229.05" y="16.6" width="20.9" height="2.45" fill="#f28e63"/>
<rect x="249.9" y="16.6" width="20.9" height="2.45" fill="#eb7852"/>
<rect x="270.75" y="16.6" width="20.9" height="2.45" fill="#94b8d7"/>
<rect x="291.6" y="16.6" width="20.9" height="2.45" fill="#7fa6d0"/>
<rect x="312.45" y="16.6" width="20.9" height="2.45" fill="#78a1ce"/>
<rect x="208.2" y="19" width="20.9" height="2.45" fill="#ee825a"/>
<rect x="229.05" y="19" width="20.9" height="2.45" fill="#f28f64"/>
<rect x="249.9" y="19" width="20.9" height="2.45" fill="#e35d3e"/>
<rect x="270.75" y="19" width="20.9" height="2.45" fill="#769fcd"/>
<rect x="291.6" y="19" width="20.9" height="2.45" fill="#6390c6"/>
<rect x="312.45" y="19" width="20.9" height="2.45" fill="#6491c7"/>
<rect x="208.2" y="21.39" width="20.9" height="2.45" fill="#ef835b"/>
<rect x="229.05" y="21.39" width="20.9" height="2.45" fill="#ec7953"/>
<rect x="249.9" y="21.39" width="20.9" height="2.45" fill="#e86e4a"/>
<rect x="270.75" y="21.39" width="20.9" height="2.45" fill="#88aed3"/>
<rect x="291.6" y="21.39" width="20.9" height="2.45" fill="#7fa7d0"/>
<rect x="312.45" y="21.39" width="20.9" height="2.45" fill="#739dcc"/>
<rect x="208.2" y="23.79" width="20.9" height="2.45" fill="#ee825a"/>
<rect x="229.05" y="23.79" width="20.9" height="2.45" fill="#f18c62"/>
<rect x="249.9" y="23.79" width="20.9" height="2.45" fill="#e66746"/>
<rect x="270.75" y="23.79" width="20.9" height="2.45" fill="#7ba3cf"/>
<rect x="291.6" y="23.79" width="20.9" height="2.45" fill="#6d98ca"/>
<rect x="312.45" y="23.79" width="20.9" height="2.45" fill="#719bcb"/>
<rect x="208.2" y="26.18" width="20.9" height="2.45" fill="#f0885e"/>
<rect x="229.05" y="26.18" width="20.9" height="2.45" fill="#f49669"/>
<rect x="249.9" y="26.18" width="20.9" height="2.45" fill="#ec7953"/>
<rect x="270.75" y="26.18" width="20.9" height="2.45" fill="#99bbd9"/>
<rect x="291.6" y="26.18" width="20.9" height="2.45" fill="#83a9d1"/>
<rect x="312.45" y="26.18" width="20.9" height="2.45" fill="#86acd2"/>
<rect x="208.2" y="28.58" width="20.9" height="2.45" fill="#e66443"/>
<rect x="229.05" y="28.58" width="20.9" height="2.45" fill="#f18c61"/>
<rect x="249.9" y="28.58" width="20.9" height="2.45" fill="#e56242"/>
<rect x="270.75" y="28.58" width="20.9" height="2.45" fill="#a3c2dd"/>
<rect x="291.6" y="28.58" width="20.9" height="2.45" fill="#759fcd"/>
<rect x="312.45" y="28.58" width="20.9" height="2.45" fill="#6f99cb"/>
<rect x="208.2" y="30.98" width="20.9" height="2.45" fill="#ee835a"/>
<rect x="229.05" y="30.98" width="20.9" height="2.45" fill="#ec7953"/>
<rect x="249.9" y="30.98" width="20.9" height="2.45" fill="#e76a48"/>
<rect x="270.75" y="30.98" width="20.9" height="2.45" fill="#79a1ce"/>
<rect x="291.6" y="30.98" width="20.9" height="2.45" fill="#729ccc"/>
<rect x="312.45" y="30.98" width="20.9" height="2.45" fill="#8fb3d6"/>
<rect x="208.2" y="33.37" width="20.9" height="2.45" fill="#ee8058"/>
<rect x="229.05" y="33.37" width="20.9" height="2.45" fill="#f39467"/>
<rect x="249.9" y="33.37" width="20.9" height="2.45" fill="#e66544"/>
<rect x="270.75" y="33.37" width="20.9" height="2.45" fill="#7fa6d0"/>
<rect x="291.6" y="33.37" width="20.9" height="2.45" fill="#8cb1d4"/>
<rect x="312.45" y="33.37" width="20.9" height="2.45" fill="#a4c3de"/>
<rect x="208.2" y="35.77" width="20.9" height="2.45" fill="#ea734e"/>
<rect x="229.05" y="35.77" width="20.9" height="2.45" fill="#f28d63"/>
<rect x="249.9" y="35.77" width="20.9" height="2.45" fill="#e66544"/>
<rect x="270.75" y="35.77" width="20.9" height="2.45" fill="#7ea6d0"/>
<rect x="291.6" y="35.77" width="20.9" height="2.45" fill="#96b9d8"/>
<rect x="312.45" y="35.77" width="20.9" height="2.45" fill="#6e99ca"/>
<rect x="208.2" y="38.17" width="20.9" height="2.45" fill="#eb7852"/>
<rect x="229.05" y="38.17" width="20.9" height="2.45" fill="#f28d63"/>
<rect x="249.9" y="38.17" width="20.9" height="2.45" fill="#e56141"/>
<rect x="270.75" y="38.17" width="20.9" height="2.45" fill="#80a7d0"/>
<rect x="291.6" y="38.17" width="20.9" height="2.45" fill="#9ebedb"/>
<rect x="312.45" y="38.17" width="20.9" height="2.45" fill="#91b5d6"/>
<rect x="208.2" y="40.56" width="20.9" height="2.45" fill="#ef865d"/>
<rect x="229.05" y="40.56" width="20.9" height="2.45" fill="#f18d62"/>
<rect x="249.9" y="40.56" width="20.9" height="2.45" fill="#e66745"/>
<rect x="270.75" y="40.56" width="20.9" height="2.45" fill="#9ebfdb"/>
<rect x="291.6" y="40.56" width="20.9" height="2.45" fill="#709acb"/>
<rect x="312.45" y="40.56" width="20.9" height="2.45" fill="#85abd2"/>
<rect x="208.2" y="42.96" width="20.9" height="2.45" fill="#f0895f"/>
<rect x="229.05" y="42.96" width="20.9" height="2.45" fill="#f28f63"/>
<rect x="249.9" y="42.96" width="20.9" height="2.45" fill="#e56343"/>
<rect x="270.75" y="42.96" width="20.9" height="2.45" fill="#79a1ce"/>
<rect x="291.6" y="42.96" width="20.9" height="2.45" fill="#9abcd9"/>
<rect x="312.45" y="42.96" width="20.9" height="2.45" fill="#739dcc"/>
<rect x="208.2" y="45.35" width="20.9" height="2.45" fill="#e76846"/>
<rect x="229.05" y="45.35" width="20.9" height="2.45" fill="#ed7f57"/>
<rect x="249.9" y="45.35" width="20.9" height="2.45" fill="#e86c49"/>
<rect x="270.75" y="45.35" width="20.9" height="2.45" fill="#b1cce3"/>
<rect x="291.6" y="45.35" width="20.9" height="2.45" fill="#99bbd9"/>
<rect x="312.45" y="45.35" width="20.9" height="2.45" fill="#6e99ca"/>
<rect x="208.2" y="47.75" width="20.9" height="2.45" fill="#ea744f"/>
<rect x="229.05" y="47.75" width="20.9" height="2.45" fill="#ec7a54"/>
<rect x="249.9" y="47.75" width="20.9" height="2.45" fill="#e45d3e"/>
<rect x="270.75" y="47.75" width="20.9" height="2.45" fill="#9cbdda"/>
<rect x="291.6" y="47.75" width="20.9" height="2.45" fill="#94b8d7"/>
<rect x="312.45" y="47.75" width="20.9" height="2.45" fill="#81a8d1"/>
<rect x="208.2" y="50.15" width="20.9" height="2.45" fill="#eb7953"/>
<rect x="229.05" y="50.15" width="20.9" height="2.45" fill="#f0895f"/>
<rect x="249.9" y="50.15" width="20.9" height="2.45" fill="#e76a47"/>
<rect x="270.75" y="50.15" width="20.9" height="2.45" fill="#a6c5df"/>
<rect x="291.6" y="50.15" width="20.9" height="2.45" fill="#709acb"/>
<rect x="312.45" y="50.15" width="20.9" height="2.45" fill="#6d98ca"/>
<rect x="208.2" y="52.54" width="20.9" height="2.45" fill="#ed7f57"/>
<rect x="229.05" y="52.54" width="20.9" height="2.45" fill="#f49669"/>
<rect x="249.9" y="52.54" width="20.9" height="2.45" fill="#ea724e"/>
<rect x="270.75" y="52.54" width="20.9" height="2.45" fill="#8bb0d4"/>
<rect x="291.6" y="52.54" width="20.9" height="2.45" fill="#638fc6"/>
<rect x="312.45" y="52.54" width="20.9" height="2.45" fill="#82a9d1"/>
<rect x="208.2" y="54.94" width="20.9" height="2.45" fill="#ed7e57"/>
<rect x="229.05" y="54.94" width="20.9" height="2.45" fill="#f0875e"/>
<rect x="249.9" y="54.94" width="20.9" height="2.45" fill="#e96e4b"/>
<rect x="270.75" y="54.94" width="20.9" height="2.45" fill="#729ccc"/>
<rect x="291.6" y="54.94" width="20.9" height="2.45" fill="#709bcb"/>
<rect x="312.45" y="54.94" width="20.9" height="2.45" fill="#6591c7"/>
<rect x="208.2" y="57.33" width="20.9" height="2.45" fill="#ed7f58"/>
<rect x="229.05" y="57.33" width="20.9" height="2.45" fill="#f49669"/>
<rect x="249.9" y="57.33" width="20.9" height="2.45" fill="#eb7651"/>
<rect x="270.75" y="57.33" width="20.9" height="2.45" fill="#8cb1d5"/>
<rect x="291.6" y="57.33" width="20.9" height="2.45" fill="#7ea5d0"/>
<rect x="312.45" y="57.33" width="20.9" height="2.45" fill="#7aa3ce"/>
<rect x="208.2" y="59.73" width="20.9" height="2.45" fill="#ee8059"/>
<rect x="229.05" y="59.73" width="20.9" height="2.45" fill="#f28e63"/>
<rect x="249.9" y="59.73" width="20.9" height="2.45" fill="#e2593b"/>
<rect x="270.75" y="59.73" width="20.9" height="2.45" fill="#81a8d1"/>
<rect x="291.6" y="59.73" width="20.9" height="2.45" fill="#5584c2"/>
<rect x="312.45" y="59.73" width="20.9" height="2.45" fill="#6b96c9"/>
<rect x="208.2" y="62.13" width="20.9" height="2.45" fill="#f0885e"/>
<rect x="229.05" y="62.13" width="20.9" height="2.45" fill="#f28e63"/>
<rect x="249.9" y="62.13" width="20.9" height="2.45" fill="#e96f4c"/>
<rect x="270.75" y="62.13" width="20.9" height="2.45" fill="#8cb1d4"/>
<rect x="291.6" y="62.13" width="20.9" height="2.45" fill="#85abd2"/>
<rect x="312.45" y="62.13" width="20.9" height="2.45" fill="#80a7d0"/>
<rect x="208.2" y="64.52" width="20.9" height="2.45" fill="#ed7f58"/>
<rect x="229.05" y="64.52" width="20.9" height="2.45" fill="#f29165"/>
<rect x="249.9" y="64.52" width="20.9" height="2.45" fill="#e45f3f"/>
<rect x="270.75" y="64.52" width="20.9" height="2.45" fill="#80a7d1"/>
<rect x="291.6" y="64.52" width="20.9" height="2.45" fill="#729ccb"/>
<rect x="312.45" y="64.52" width="20.9" height="2.45" fill="#6a95c9"/>
<rect x="208.2" y="66.92" width="20.9" height="2.45" fill="#f49669"/>
<rect x="229.05" y="66.92" width="20.9" height="2.45" fill="#f18d62"/>
<rect x="249.9" y="66.92" width="20.9" height="2.45" fill="#eb7651"/>
<rect x="270.75" y="66.92" width="20.9" height="2.45" fill="#7ea5d0"/>
<rect x="291.6" y="66.92" width="20.9" height="2.45" fill="#79a2ce"/>
<rect x="312.45" y="66.92" width="20.9" height="2.45" fill="#719bcb"/>
<rect x="208.2" y="69.32" width="20.9" height="2.45" fill="#f18b61"/>
<rect x="229.05" y="69.32" width="20.9" height="2.45" fill="#ee8159"/>
<rect x="249.9" y="69.32" width="20.9" height="2.45" fill="#e76a48"/>
<rect x="270.75" y="69.32" width="20.9" height="2.45" fill="#82a9d1"/>
<rect x="291.6" y="69.32" width="20.9" height="2.45" fill="#749ecc"/>
<rect x="312.45" y="69.32" width="20.9" height="2.45" fill="#6894c8"/>
<rect x="208.2" y="71.71" width="20.9" height="2.45" fill="#e9724d"/>
<rect x="229.05" y="71.71" width="20.9" height="2.45" fill="#f39367"/>
<rect x="249.9" y="71.71" width="20.9" height="2.45" fill="#e76947"/>
<rect x="270.75" y="71.71" width="20.9" height="2.45" fill="#8db2d5"/>
<rect x="291.6" y="71.71" width="20.9" height="2.45" fill="#719bcb"/>
<rect x="312.45" y="71.71" width="20.9" height="2.45" fill="#6994c8"/>
<rect x="208.2" y="74.11" width="20.9" height="2.45" fill="#ef845b"/>
<rect x="229.05" y="74.11" width="20.9" height="2.45" fill="#f29165"/>
<rect x="249.9" y="74.11" width="20.9" height="2.45" fill="#e76846"/>
<rect x="270.75" y="74.11" width="20.9" height="2.45" fill="#8db2d5"/>
<rect x="291.6" y="74.11" width="20.9" height="2.45" fill="#82a9d1"/>
<rect x="312.45" y="74.11" width="20.9" height="2.45" fill="#7ea6d0"/>
<rect x="208.2" y="76.5" width="20.9" height="2.45" fill="#e76a48"/>
<rect x="229.05" y="76.5" width="20.9" height="2.45" fill="#ee8159"/>
<rect x="249.9" y="76.5" width="20.9" height="2.45" fill="#e35c3d"/>
<rect x="270.75" y="76.5" width="20.9" height="2.45" fill="#759ecc"/>
<rect x="291.6" y="76.5" width="20.9" height="2.45" fill="#6894c8"/>
<rect x="312.45" y="76.5" width="20.9" height="2.45" fill="#6994c8"/>
<rect x="208.2" y="78.9" width="20.9" height="2.45" fill="#f18d62"/>
<rect x="229.05" y="78.9" width="20.9" height="2.45" fill="#f49468"/>
<rect x="249.9" y="78.9" width="20.9" height="2.45" fill="#e46040"/>
<rect x="270.75" y="78.9" width="20.9" height="2.45" fill="#80a7d0"/>
<rect x="291.6" y="78.9" width="20.9" height="2.45" fill="#78a1ce"/>
<rect x="312.45" y="78.9" width="20.9" height="2.45" fill="#77a0cd"/>
<rect x="208.2" y="81.3" width="20.9" height="2.45" fill="#ed7d56"/>
<rect x="229.05" y="81.3" width="20.9" height="2.45" fill="#f39166"/>
<rect x="249.9" y="81.3" width="20.9" height="2.45" fill="#e76947"/>
<rect x="270.75" y="81.3" width="20.9" height="2.45" fill="#7fa7d0"/>
<rect x="291.6" y="81.3" width="20.9" height="2.45" fill="#7ba3cf"/>
<rect x="312.45" y="81.3" width="20.9" height="2.45" fill="#79a1ce"/>
<rect x="208.2" y="83.69" width="20.9" height="2.45" fill="#f29065"/>
<rect x="229.05" y="83.69" width="20.9" height="2.45" fill="#f18d62"/>
<rect x="249.9" y="83.69" width="20.9" height="2.45" fill="#ef855c"/>
<rect x="270.75" y="83.69" width="20.9" height="2.45" fill="#8bb0d4"/>
<rect x="291.6" y="83.69" width="20.9" height="2.45" fill="#82a9d1"/>
<rect x="312.45" y="83.69" width="20.9" height="2.45" fill="#7fa6d0"/>
<rect x="208.2" y="86.09" width="20.9" height="2.45" fill="#eb7651"/>
<rect x="229.05" y="86.09" width="20.9" height="2.45" fill="#f18b61"/>
<rect x="249.9" y="86.09" width="20.9" height="2.45" fill="#e86b48"/>
<rect x="270.75" y="86.09" width="20.9" height="2.45" fill="#86acd2"/>
<rect x="291.6" y="86.09" width="20.9" height="2.45" fill="#769fcd"/>
<rect x="312.45" y="86.09" width="20.9" height="2.45" fill="#6c97c9"/>
<rect x="208.2" y="88.48" width="20.9" height="2.45" fill="#f18c62"/>
<rect x="229.05" y="88.48" width="20.9" height="2.45" fill="#f49669"/>
<rect x="249.9" y="88.48" width="20.9" height="2.45" fill="#eb7651"/>
<rect x="270.75" y="88.48" width="20.9" height="2.45" fill="#8fb3d6"/>
<rect x="291.6" y="88.48" width="20.9" height="2.45" fill="#719bcb"/>
<rect x="312.45" y="88.48" width="20.9" height="2.45" fill="#739dcc"/>
<rect x="208.2" y="90.88" width="20.9" height="2.45" fill="#eb7651"/>
<rect x="229.05" y="90.88" width="20.9" height="2.45" fill="#f39467"/>
<rect x="249.9" y="90.88" width="20.9" height="2.45" fill="#e66645"/>
<rect x="270.75" y="90.88" width="20.9" height="2.45" fill="#7da5cf"/>
<rect x="291.6" y="90.88" width="20.9" height="2.45" fill="#83aad2"/>
<rect x="312.45" y="90.88" width="20.9" height="2.45" fill="#81a8d1"/>
<rect x="208.2" y="93.28" width="20.9" height="2.45" fill="#ee8058"/>
<rect x="229.05" y="93.28" width="20.9" height="2.45" fill="#f0895f"/>
<rect x="249.9" y="93.28" width="20.9" height="2.45" fill="#ec7b55"/>
<rect x="270.75" y="93.28" width="20.9" height="2.45" fill="#80a7d0"/>
<rect x="291.6" y="93.28" width="20.9" height="2.45" fill="#7fa7d0"/>
<rect x="312.45" y="93.28" width="20.9" height="2.45" fill="#7da4cf"/>
<rect x="208.2" y="95.67" width="20.9" height="2.45" fill="#f0875e"/>
<rect x="229.05" y="95.67" width="20.9" height="2.45" fill="#f49669"/>
<rect x="249.9" y="95.67" width="20.9" height="2.45" fill="#eb7751"/>
<rect x="270.75" y="95.67" width="20.9" height="2.45" fill="#8fb3d6"/>
<rect x="291.6" y="95.67" width="20.9" height="2.45" fill="#769fcd"/>
<rect x="312.45" y="95.67" width="20.9" height="2.45" fill="#6793c8"/>
<rect x="208.2" y="98.07" width="20.9" height="2.45" fill="#e96f4b"/>
<rect x="229.05" y="98.07" width="20.9" height="2.45" fill="#ef865d"/>
<rect x="249.9" y="98.07" width="20.9" height="2.45" fill="#e25a3b"/>
<rect x="270.75" y="98.07" width="20.9" height="2.45" fill="#769fcd"/>
<rect x="291.6" y="98.07" width="20.9" height="2.45" fill="#5484c1"/>
<rect x="312.45" y="98.07" width="20.9" height="2.45" fill="#5c8ac4"/>
<rect x="208.2" y="100.47" width="20.9" height="2.45" fill="#ed7e57"/>
<rect x="229.05" y="100.47" width="20.9" height="2.45" fill="#f28e63"/>
<rect x="249.9" y="100.47" width="20.9" height="2.45" fill="#ed7d56"/>
<rect x="270.75" y="100.47" width="20.9" height="2.45" fill="#8bb0d4"/>
<rect x="291.6" y="100.47" width="20.9" height="2.45" fill="#7da5cf"/>
<rect x="312.45" y="100.47" width="20.9" height="2.45" fill="#78a1ce"/>
<rect x="208.2" y="102.86" width="20.9" height="2.45" fill="#ee825a"/>
<rect x="229.05" y="102.86" width="20.9" height="2.45" fill="#f18a60"/>
<rect x="249.9" y="102.86" width="20.9" height="2.45" fill="#e86e4b"/>
<rect x="270.75" y="102.86" width="20.9" height="2.45" fill="#88add3"/>
<rect x="291.6" y="102.86" width="20.9" height="2.45" fill="#6a95c9"/>
<rect x="312.45" y="102.86" width="20.9" height="2.45" fill="#709acb"/>
<rect x="208.2" y="105.26" width="20.9" height="2.45" fill="#f08a60"/>
<rect x="229.05" y="105.26" width="20.9" height="2.45" fill="#f18b60"/>
<rect x="249.9" y="105.26" width="20.9" height="2.45" fill="#e56141"/>
<rect x="270.75" y="105.26" width="20.9" height="2.45" fill="#88aed3"/>
<rect x="291.6" y="105.26" width="20.9" height="2.45" fill="#6b96c9"/>
<rect x="312.45" y="105.26" width="20.9" height="2.45" fill="#739dcc"/>
<rect x="208.2" y="107.65" width="20.9" height="2.45" fill="#ed7e57"/>
<rect x="229.05" y="107.65" width="20.9" height="2.45" fill="#f0885e"/>
<rect x="249.9" y="107.65" width="20.9" height="2.45" fill="#e45e3e"/>
<rect x="270.75" y="107.65" width="20.9" height="2.45" fill="#82a9d1"/>
<rect x="291.6" y="107.65" width="20.9" height="2.45" fill="#6893c8"/>
<rect x="312.45" y="107.65" width="20.9" height="2.45" fill="#769fcd"/>
<rect x="208.2" y="110.05" width="20.9" height="2.45" fill="#ee8259"/>
<rect x="229.05" y="110.05" width="20.9" height="2.45" fill="#f49669"/>
<rect x="249.9" y="110.05" width="20.9" height="2.45" fill="#ea7550"/>
<rect x="270.75" y="110.05" width="20.9" height="2.45" fill="#81a8d1"/>
<rect x="291.6" y="110.05" width="20.9" height="2.45" fill="#739dcc"/>
<rect x="312.45" y="110.05" width="20.9" height="2.45" fill="#87add3"/>
<rect x="208.2" y="112.45" width="20.9" height="2.45" fill="#e86d4a"/>
<rect x="229.05" y="112.45" width="20.9" height="2.45" fill="#ed7f58"/>
<rect x="249.9" y="112.45" width="20.9" height="2.45" fill="#e76947"/>
<rect x="270.75" y="112.45" width="20.9" height="2.45" fill="#83a9d1"/>
<rect x="291.6" y="112.45" width="20.9" height="2.45" fill="#759ecd"/>
<rect x="312.45" y="112.45" width="20.9" height="2.45" fill="#78a1ce"/>
<rect x="208.2" y="114.84" width="20.9" height="2.45" fill="#ef845b"/>
<rect x="229.05" y="114.84" width="20.9" height="2.45" fill="#f29064"/>
<rect x="249.9" y="114.84" width="20.9" height="2.45" fill="#e56342"/>
<rect x="270.75" y="114.84" width="20.9" height="2.45" fill="#85abd2"/>
<rect x="291.6" y="114.84" width="20.9" height="2.45" fill="#83aad1"/>
<rect x="312.45" y="114.84" width="20.9" height="2.45" fill="#6d98ca"/>
<rect x="208.2" y="117.24" width="20.9" height="2.45" fill="#f18c61"/>
<rect x="229.05" y="117.24" width="20.9" height="2.45" fill="#f49669"/>
<rect x="249.9" y="117.24" width="20.9" height="2.45" fill="#eb7550"/>
<rect x="270.75" y="117.24" width="20.9" height="2.45" fill="#91b5d6"/>
<rect x="291.6" y="117.24" width="20.9" height="2.45" fill="#7fa7d0"/>
<rect x="312.45" y="117.24" width="20.9" height="2.45" fill="#6a96c9"/>
<rect x="208.2" y="119.63" width="20.9" height="2.45" fill="#ef865d"/>
<rect x="229.05" y="119.63" width="20.9" height="2.45" fill="#f0885f"/>
<rect x="249.9" y="119.63" width="20.9" height="2.45" fill="#e76947"/>
<rect x="270.75" y="119.63" width="20.9" height="2.45" fill="#80a7d0"/>
<rect x="291.6" y="119.63" width="20.9" height="2.45" fill="#749dcc"/>
<rect x="312.45" y="119.63" width="20.9" height="2.45" fill="#86acd3"/>
<rect x="208.2" y="122.03" width="20.9" height="2.45" fill="#ef865d"/>
<rect x="229.05" y="122.03" width="20.9" height="2.45" fill="#f28f64"/>
<rect x="249.9" y="122.03" width="20.9" height="2.45" fill="#e66745"/>
<rect x="270.75" y="122.03" width="20.9" height="2.45" fill="#84abd2"/>
<rect x="291.6" y="122.03" width="20.9" height="2.45" fill="#7ea5d0"/>
<rect x="312.45" y="122.03" width="20.9" height="2.45" fill="#79a1ce"/>
<rect x="208.2" y="124.43" width="20.9" height="2.45" fill="#ee8058"/>
<rect x="229.05" y="124.43" width="20.9" height="2.45" fill="#f0895f"/>
<rect x="249.9" y="124.43" width="20.9" height="2.45" fill="#e96f4b"/>
<rect x="270.75" y="124.43" width="20.9" height="2.45" fill="#89afd4"/>
<rect x="291.6" y="124.43" width="20.9" height="2.45" fill="#7ea6d0"/>
<rect x="312.45" y="124.43" width="20.9" height="2.45" fill="#6c97ca"/>
<rect x="208.2" y="126.82" width="20.9" height="2.45" fill="#e96f4b"/>
<rect x="229.05" y="126.82" width="20.9" height="2.45" fill="#ed7c55"/>
<rect x="249.9" y="126.82" width="20.9" height="2.45" fill="#e35a3c"/>
<rect x="270.75" y="126.82" width="20.9" height="2.45" fill="#79a1ce"/>
<rect x="291.6" y="126.82" width="20.9" height="2.45" fill="#6894c8"/>
<rect x="312.45" y="126.82" width="20.9" height="2.45" fill="#729ccc"/>
<rect x="208.2" y="129.22" width="20.9" height="2.45" fill="#f0885e"/>
<rect x="229.05" y="129.22" width="20.9" height="2.45" fill="#f0885f"/>
<rect x="249.9" y="129.22" width="20.9" height="2.45" fill="#e9714d"/>
<rect x="270.75" y="129.22" width="20.9" height="2.45" fill="#84aad2"/>
<rect x="291.6" y="129.22" width="20.9" height="2.45" fill="#749ecc"/>
<rect x="312.45" y="129.22" width="20.9" height="2.45" fill="#6a96c9"/>
<rect x="208.2" y="131.62" width="20.9" height="2.45" fill="#f28e63"/>
<rect x="229.05" y="131.62" width="20.9" height="2.45" fill="#f18c61"/>
<rect x="249.9" y="131.62" width="20.9" height="2.45" fill="#ec7953"/>
<rect x="270.75" y="131.62" width="20.9" height="2.45" fill="#84aad2"/>
<rect x="291.6" y="131.62" width="20.9" height="2.45" fill="#80a7d0"/>
<rect x="312.45" y="131.62" width="20.9" height="2.45" fill="#7aa2ce"/>
<rect x="208.2" y="134.01" width="20.9" height="2.45" fill="#f0885e"/>
<rect x="229.05" y="134.01" width="20.9" height="2.45" fill="#f49669"/>
<rect x="249.9" y="134.01" width="20.9" height="2.45" fill="#ed7f58"/>
<rect x="270.75" y="134.01" width="20.9" height="2.45" fill="#7fa6d0"/>
<rect x="291.6" y="134.01" width="20.9" height="2.45" fill="#7da5d0"/>
<rect x="312.45" y="134.01" width="20.9" height="2.45" fill="#6592c7"/>
<rect x="208.2" y="136.41" width="20.9" height="2.45" fill="#ee8058"/>
<rect x="229.05" y="136.41" width="20.9" height="2.45" fill="#f0895f"/>
<rect x="249.9" y="136.41" width="20.9" height="2.45" fill="#e35b3c"/>
<rect x="270.75" y="136.41" width="20.9" height="2.45" fill="#7fa6d0"/>
<rect x="291.6" y="136.41" width="20.9" height="2.45" fill="#709acb"/>
<rect x="312.45" y="136.41" width="20.9" height="2.45" fill="#6c97ca"/>
<rect x="208.2" y="138.8" width="20.9" height="2.45" fill="#ef865d"/>
<rect x="229.05" y="138.8" width="20.9" height="2.45" fill="#f49669"/>
<rect x="249.9" y="138.8" width="20.9" height="2.45" fill="#ec7b55"/>
<rect x="270.75" y="138.8" width="20.9" height="2.45" fill="#81a8d1"/>
<rect x="291.6" y="138.8" width="20.9" height="2.45" fill="#77a0cd"/>
<rect x="312.45" y="138.8" width="20.9" height="2.45" fill="#79a1ce"/>
<line x1="229.05" y1="13.8" x2="229.05" y2="141.2" stroke="#b9b0a8" stroke-width="0.35"/>
<line x1="249.9" y1="13.8" x2="249.9" y2="141.2" stroke="#b9b0a8" stroke-width="0.35"/>
<line x1="270.75" y1="13.8" x2="270.75" y2="141.2" stroke="#9fb0c4" stroke-width="0.35"/>
<line x1="291.6" y1="13.8" x2="291.6" y2="141.2" stroke="#9fb0c4" stroke-width="0.35"/>
<line x1="312.45" y1="13.8" x2="312.45" y2="141.2" stroke="#9fb0c4" stroke-width="0.35"/>
<path d="M208,15.3H188.5V55.9H205.5" fill="none" stroke="#8a8a8a" stroke-width="0.6"/>
<path d="M207.6,17 C205.2,30 205.6,50 205.4,75 M207.6,141 C204.8,120 205.6,95 205.4,75 M207.8,22 C206,30 206.4,40 206.4,55 M207.8,60 C206.6,80 206.6,100 207.6,130 M205.4,38 V92" fill="none" stroke="#555" stroke-width="0.5"/>
<line x1="206.6" y1="19" x2="208.2" y2="19" stroke="#555" stroke-width="0.3"/>
<line x1="207.15" y1="23.79" x2="208.2" y2="23.79" stroke="#555" stroke-width="0.3"/>
<line x1="206.15" y1="28.58" x2="208.2" y2="28.58" stroke="#555" stroke-width="0.3"/>
<line x1="206.43" y1="33.37" x2="208.2" y2="33.37" stroke="#555" stroke-width="0.3"/>
<line x1="207.19" y1="38.17" x2="208.2" y2="38.17" stroke="#555" stroke-width="0.3"/>
<line x1="206.27" y1="42.96" x2="208.2" y2="42.96" stroke="#555" stroke-width="0.3"/>
<line x1="206.28" y1="47.75" x2="208.2" y2="47.75" stroke="#555" stroke-width="0.3"/>
<line x1="207.19" y1="52.54" x2="208.2" y2="52.54" stroke="#555" stroke-width="0.3"/>
<line x1="206.43" y1="57.33" x2="208.2" y2="57.33" stroke="#555" stroke-width="0.3"/>
<line x1="206.15" y1="62.13" x2="208.2" y2="62.13" stroke="#555" stroke-width="0.3"/>
<line x1="207.15" y1="66.92" x2="208.2" y2="66.92" stroke="#555" stroke-width="0.3"/>
<line x1="206.59" y1="71.71" x2="208.2" y2="71.71" stroke="#555" stroke-width="0.3"/>
<line x1="206.06" y1="76.5" x2="208.2" y2="76.5" stroke="#555" stroke-width="0.3"/>
<line x1="207.06" y1="81.3" x2="208.2" y2="81.3" stroke="#555" stroke-width="0.3"/>
<line x1="206.76" y1="86.09" x2="208.2" y2="86.09" stroke="#555" stroke-width="0.3"/>
<line x1="206.01" y1="90.88" x2="208.2" y2="90.88" stroke="#555" stroke-width="0.3"/>
<line x1="206.93" y1="95.67" x2="208.2" y2="95.67" stroke="#555" stroke-width="0.3"/>
<line x1="206.92" y1="100.47" x2="208.2" y2="100.47" stroke="#555" stroke-width="0.3"/>
<line x1="206" y1="105.26" x2="208.2" y2="105.26" stroke="#555" stroke-width="0.3"/>
<line x1="206.78" y1="110.05" x2="208.2" y2="110.05" stroke="#555" stroke-width="0.3"/>
<line x1="207.05" y1="114.84" x2="208.2" y2="114.84" stroke="#555" stroke-width="0.3"/>
<line x1="206.05" y1="119.63" x2="208.2" y2="119.63" stroke="#555" stroke-width="0.3"/>
<line x1="206.61" y1="124.43" x2="208.2" y2="124.43" stroke="#555" stroke-width="0.3"/>
<line x1="207.14" y1="129.22" x2="208.2" y2="129.22" stroke="#555" stroke-width="0.3"/>
<line x1="206.14" y1="134.01" x2="208.2" y2="134.01" stroke="#555" stroke-width="0.3"/>
<line x1="206.44" y1="138.8" x2="208.2" y2="138.8" stroke="#555" stroke-width="0.3"/>
<text x="334.2" y="19.2" font-size="3.9" fill="#111">Egln3</text>
<text x="334.2" y="21.6" font-size="3.9" fill="#111">Aldoa</text>
<text x="334.2" y="23.99" font-size="3.9" fill="#111">Pgk1</text>
<text x="334.2" y="26.39" font-size="3.9" fill="#111">Tpi1</text>
<text x="334.2" y="28.79" font-size="3.9" fill="#111">Ldha</text>
<text x="334.2" y="31.18" font-size="3.9" fill="#111">Pfkl</text>
<text x="334.2" y="33.58" font-size="3.9" fill="#111">Eno1</text>
<text x="334.2" y="35.98" font-size="3.9" fill="#111">Gpi1</text>
<text x="334.2" y="38.37" font-size="3.9" fill="#111">Pkm</text>
<text x="334.2" y="40.77" font-size="3.9" fill="#111">Slc2a1</text>
<text x="334.2" y="43.16" font-size="3.9" fill="#111">Slc2a3</text>
<text x="334.2" y="45.56" font-size="3.9" fill="#111">Slc16a3</text>
<text x="334.2" y="47.96" font-size="3.9" fill="#111">Hk2</text>
<text x="334.2" y="50.35" font-size="3.9" fill="#111">Hk1</text>
<text x="334.2" y="52.75" font-size="3.9" fill="#111">Pfkp</text>
<text x="334.2" y="55.14" font-size="3.9" fill="#111">Aldoc</text>
<text x="334.2" y="57.54" font-size="3.9" fill="#111">Gapdh</text>
<text x="334.2" y="59.94" font-size="3.9" fill="#111">Pgam1</text>
<text x="334.2" y="62.33" font-size="3.9" fill="#111">Bnip3</text>
<text x="334.2" y="64.73" font-size="3.9" fill="#111">Bnip3l</text>
<text x="334.2" y="67.13" font-size="3.9" fill="#111">Vegfa</text>
<text x="334.2" y="69.52" font-size="3.9" fill="#111">P4ha1</text>
<text x="334.2" y="71.92" font-size="3.9" fill="#111">P4ha2</text>
<text x="334.2" y="74.31" font-size="3.9" fill="#111">Ankrd37</text>
<text x="334.2" y="76.71" font-size="3.9" fill="#111">Kdm3a</text>
<text x="334.2" y="79.11" font-size="3.9" fill="#111">Mxi1</text>
<text x="334.2" y="81.5" font-size="3.9" fill="#111">Pdk1</text>
<text x="334.2" y="83.9" font-size="3.9" fill="#111">Ero1l</text>
<text x="334.2" y="86.29" font-size="3.9" fill="#111">Ndrg1</text>
<text x="334.2" y="88.69" font-size="3.9" fill="#111">Adm</text>
<text x="334.2" y="91.09" font-size="3.9" fill="#111">Ak4</text>
<text x="334.2" y="93.48" font-size="3.9" fill="#111">Car9</text>
<text x="334.2" y="95.88" font-size="3.9" fill="#111">Egln1</text>
<text x="334.2" y="98.28" font-size="3.9" fill="#111">Ppp1r3b</text>
<text x="334.2" y="100.67" font-size="3.9" fill="#111">Stc2</text>
<text x="334.2" y="103.07" font-size="3.9" fill="#111">Higd1a</text>
<text x="334.2" y="105.46" font-size="3.9" fill="#111">Fam162a</text>
<text x="334.2" y="107.86" font-size="3.9" fill="#111">Mif</text>
<text x="334.2" y="110.26" font-size="3.9" fill="#111">Anxa2</text>
<text x="334.2" y="112.65" font-size="3.9" fill="#111">Pfkfb3</text>
<text x="334.2" y="115.05" font-size="3.9" fill="#111">Pfkfb4</text>
<text x="334.2" y="117.44" font-size="3.9" fill="#111">Gys1</text>
<text x="334.2" y="119.84" font-size="3.9" fill="#111">Pgm1</text>
<text x="334.2" y="122.24" font-size="3.9" fill="#111">Pgm2</text>
<text x="334.2" y="124.63" font-size="3.9" fill="#111">Gbe1</text>
<text x="334.2" y="127.03" font-size="3.9" fill="#111">Tkt</text>
<text x="334.2" y="129.43" font-size="3.9" fill="#111">Taldo1</text>
<text x="334.2" y="131.82" font-size="3.9" fill="#111">Galk1</text>
<text x="334.2" y="134.22" font-size="3.9" fill="#111">Rora</text>
<text x="334.2" y="136.61" font-size="3.9" fill="#111">Selenbp1</text>
<text x="334.2" y="139.01" font-size="3.9" fill="#111">Jmjd1a</text>
<text x="334.2" y="141.41" font-size="3.9" fill="#111">Plod1</text>
<defs><linearGradient id="cb" x1="0" y1="0" x2="0" y2="1"><stop offset="0" stop-color="#d73027"/><stop offset="0.25" stop-color="#f99a5a"/><stop offset="0.5" stop-color="#ffffc8"/><stop offset="0.75" stop-color="#a6cfe3"/><stop offset="1" stop-color="#4575b4"/></linearGradient></defs>
<rect x="352" y="13.8" width="4.6" height="55.2" fill="url(#cb)"/>
<text x="358.2" y="20.4" font-size="3.9" fill="#333">1</text>
<text x="358.2" y="32.2" font-size="3.9" fill="#333">0.5</text>
<text x="358.2" y="43.9" font-size="3.9" fill="#333">0</text>
<text x="358.2" y="55.4" font-size="3.9" fill="#333">-0.5</text>
<text x="358.2" y="67.2" font-size="3.9" fill="#333">-1</text>
</g>

<g id="pC">
<text x="374.2" y="12.7" font-size="12.5" text-anchor="middle" font-weight="bold">C</text>
<rect x="409.8" y="3.3" width="256.1" height="11.2" fill="#94caec"/>
<text x="393.3" y="12.96" font-size="9.6">#1</text>
<text x="411" y="9.91" font-size="5.85" fill="#111" font-family='"DejaVu Sans Condensed", "DejaVu Sans", sans-serif' font-stretch="condensed" xml:space="preserve">HIF-1 signaling pathway  *6.44e-13</text>
<rect x="409.8" y="17.54" width="214.2" height="11.2" fill="#94caec"/>
<text x="393.3" y="27.2" font-size="9.6">#2</text>
<text x="411" y="24.15" font-size="5.85" fill="#111" font-family='"DejaVu Sans Condensed", "DejaVu Sans", sans-serif' font-stretch="condensed" xml:space="preserve">Glycolysis / Gluconeogenesis  *6.29e-11</text>
<rect x="409.8" y="31.79" width="147.2" height="11.2" fill="#94caec"/>
<text x="393.3" y="41.44" font-size="9.6">#3</text>
<text x="411" y="38.39" font-size="5.85" fill="#111" font-family='"DejaVu Sans Condensed", "DejaVu Sans", sans-serif' font-stretch="condensed" xml:space="preserve">Central carbon metabolism in cancer  *9.94e-08</text>
<rect x="409.8" y="46.03" width="114.1" height="11.2" fill="#94caec"/>
<text x="393.3" y="55.69" font-size="9.6">#4</text>
<text x="411" y="52.64" font-size="5.85" fill="#111" font-family='"DejaVu Sans Condensed", "DejaVu Sans", sans-serif' font-stretch="condensed" xml:space="preserve">Fructose and mannose metabolism  *3.62e-06</text>
<rect x="409.8" y="60.28" width="98.4" height="11.2" fill="#94caec"/>
<text x="393.3" y="69.93" font-size="9.6">#5</text>
<text x="411" y="66.88" font-size="5.85" fill="#111" font-family='"DejaVu Sans Condensed", "DejaVu Sans", sans-serif' font-stretch="condensed" xml:space="preserve">Cytokine-cytokine receptor interaction  *2 e-05</text>
<rect x="409.8" y="74.52" width="86" height="11.2" fill="#94caec"/>
<text x="393.3" y="84.18" font-size="9.6">#6</text>
<text x="411" y="81.13" font-size="5.85" fill="#111" font-family='"DejaVu Sans Condensed", "DejaVu Sans", sans-serif' font-stretch="condensed" xml:space="preserve">JAK-STAT signaling pathway  *8.22e-05</text>
<rect x="409.8" y="88.76" width="76" height="11.2" fill="#94caec"/>
<text x="393.3" y="98.42" font-size="9.6">#7</text>
<text x="411" y="95.37" font-size="5.85" fill="#111" font-family='"DejaVu Sans Condensed", "DejaVu Sans", sans-serif' font-stretch="condensed" xml:space="preserve">Galactose metabolism  *2.36e-04</text>
<rect x="409.8" y="103.01" width="58.7" height="11.2" fill="#94caec"/>
<text x="393.3" y="112.66" font-size="9.6">#8</text>
<text x="411" y="109.61" font-size="5.85" fill="#111" font-family='"DejaVu Sans Condensed", "DejaVu Sans", sans-serif' font-stretch="condensed" xml:space="preserve">Pentose phosphate pathway  1.61e-03</text>
<rect x="409.8" y="117.25" width="56.2" height="11.2" fill="#94caec"/>
<text x="393.3" y="126.91" font-size="9.6">#9</text>
<text x="411" y="123.86" font-size="5.85" fill="#111" font-family='"DejaVu Sans Condensed", "DejaVu Sans", sans-serif' font-stretch="condensed" xml:space="preserve">Type II diabetes mellitus  2.08e-03</text>
<rect x="409.8" y="131.5" width="55.6" height="11.2" fill="#94caec"/>
<text x="393.3" y="141.15" font-size="9.6">#10</text>
<text x="411" y="138.1" font-size="5.85" fill="#111" font-family='"DejaVu Sans Condensed", "DejaVu Sans", sans-serif' font-stretch="condensed" xml:space="preserve">Insulin signaling pathway  2.27e-03</text>
<line x1="409.8" y1="144.1" x2="678" y2="144.1" stroke="#ccc" stroke-width="0.5"/>
<text x="409.8" y="149.41" font-size="4.2" text-anchor="middle" fill="#222" font-family='"DejaVu Sans Condensed", "DejaVu Sans", sans-serif'>0</text>
<text x="451.92" y="149.41" font-size="4.2" text-anchor="middle" fill="#222" font-family='"DejaVu Sans Condensed", "DejaVu Sans", sans-serif'>2</text>
<text x="494.04" y="149.41" font-size="4.2" text-anchor="middle" fill="#222" font-family='"DejaVu Sans Condensed", "DejaVu Sans", sans-serif'>4</text>
<text x="536.16" y="149.41" font-size="4.2" text-anchor="middle" fill="#222" font-family='"DejaVu Sans Condensed", "DejaVu Sans", sans-serif'>6</text>
<text x="578.28" y="149.41" font-size="4.2" text-anchor="middle" fill="#222" font-family='"DejaVu Sans Condensed", "DejaVu Sans", sans-serif'>8</text>
<text x="620.4" y="149.41" font-size="4.2" text-anchor="middle" fill="#222" font-family='"DejaVu Sans Condensed", "DejaVu Sans", sans-serif'>10</text>
<text x="662.52" y="149.41" font-size="4.2" text-anchor="middle" fill="#222" font-family='"DejaVu Sans Condensed", "DejaVu Sans", sans-serif'>12</text>
<text x="545" y="155.51" font-size="5.3" text-anchor="middle" fill="#333" font-family='"DejaVu Sans Condensed", "DejaVu Sans", sans-serif'>−log₁₀(p-value)</text>
</g>

<g id="pD">
<text x="10.6" y="173.3" font-size="12.5" text-anchor="middle" font-weight="bold">D</text>
<circle cx="23" cy="178.9" r="1.9" fill="#0000ff"/>
<text x="28.6" y="182.31" font-size="9.2">WT</text>
<circle cx="46.8" cy="178.9" r="1.9" fill="#ff0000"/>
<text x="52.8" y="182.31" font-size="9.2" font-style="italic">Hif1α<tspan font-size="70%" dy="-0.4em">-/-</tspan></text>
<text x="15.8" y="231.68" font-size="7.72" text-anchor="middle" transform="rotate(-90 15.8 228.9)">Relative gene expression</text>
<rect x="43.9" y="211.3" width="8" height="48.2" fill="#8282fa" stroke="#0000ff" stroke-width="0.8"/>
<line x1="47.9" y1="206.3" x2="47.9" y2="216.3" stroke="#0000ff" stroke-width="0.7"/>
<line x1="46.7" y1="206.3" x2="49.1" y2="206.3" stroke="#0000ff" stroke-width="0.7"/>
<circle cx="48.29" cy="204.3" r="1.95" fill="#0000ff"/>
<circle cx="48.67" cy="207.3" r="1.95" fill="#0000ff"/>
<circle cx="48.84" cy="209.3" r="1.95" fill="#0000ff"/>
<circle cx="49.32" cy="211.3" r="1.95" fill="#0000ff"/>
<circle cx="48.67" cy="220.3" r="1.95" fill="#0000ff"/>
<rect x="55" y="258.6" width="7.6" height="0.9" fill="#ff9a9a" stroke="#ff0000" stroke-width="0.8"/>
<circle cx="60.15" cy="258.3" r="1.95" fill="#ff0000"/>
<circle cx="57.29" cy="258.6" r="1.95" fill="#ff0000"/>
<circle cx="58.69" cy="258.8" r="1.95" fill="#ff0000"/>
<circle cx="60.22" cy="258.6" r="1.95" fill="#ff0000"/>
<circle cx="59.28" cy="258.7" r="1.95" fill="#ff0000"/>
<rect x="72.8" y="219.5" width="8.2" height="40" fill="#8282fa" stroke="#0000ff" stroke-width="0.8"/>
<line x1="76.9" y1="210.44" x2="76.9" y2="228.56" stroke="#0000ff" stroke-width="0.7"/>
<line x1="75.7" y1="210.44" x2="78.1" y2="210.44" stroke="#0000ff" stroke-width="0.7"/>
<circle cx="78.18" cy="201.5" r="1.95" fill="#0000ff"/>
<circle cx="75.66" cy="211.5" r="1.95" fill="#0000ff"/>
<circle cx="76.8" cy="219.5" r="1.95" fill="#0000ff"/>
<circle cx="76.09" cy="223.5" r="1.95" fill="#0000ff"/>
<circle cx="77.04" cy="227.5" r="1.95" fill="#0000ff"/>
<circle cx="77.14" cy="230.5" r="1.95" fill="#0000ff"/>
<rect x="83.8" y="258.6" width="7.6" height="0.9" fill="#ff9a9a" stroke="#ff0000" stroke-width="0.8"/>
<circle cx="86.04" cy="258.3" r="1.95" fill="#ff0000"/>
<circle cx="86.69" cy="258.6" r="1.95" fill="#ff0000"/>
<circle cx="86.89" cy="258.8" r="1.95" fill="#ff0000"/>
<circle cx="88.93" cy="258.6" r="1.95" fill="#ff0000"/>
<circle cx="88.45" cy="258.7" r="1.95" fill="#ff0000"/>
<line x1="40.4" y1="197.1" x2="40.4" y2="260" stroke="#000" stroke-width="1.1"/>
<line x1="39.9" y1="259.5" x2="95" y2="259.5" stroke="#000" stroke-width="1.1"/>
<line x1="37" y1="259.5" x2="40.4" y2="259.5" stroke="#000" stroke-width="1"/>
<text x="36.5" y="262.7" font-size="8.9" text-anchor="end">0.0</text>
<line x1="37" y1="238.87" x2="40.4" y2="238.87" stroke="#000" stroke-width="1"/>
<text x="36.5" y="242.07" font-size="8.9" text-anchor="end">0.5</text>
<line x1="37" y1="218.23" x2="40.4" y2="218.23" stroke="#000" stroke-width="1"/>
<text x="36.5" y="221.44" font-size="8.9" text-anchor="end">1.0</text>
<line x1="37" y1="197.6" x2="40.4" y2="197.6" stroke="#000" stroke-width="1"/>
<text x="36.5" y="200.8" font-size="8.9" text-anchor="end">1.5</text>
<line x1="53.1" y1="259.5" x2="53.1" y2="262.3" stroke="#000" stroke-width="1"/>
<text x="53.7" y="273.2" font-size="8.9" text-anchor="middle">21%</text>
<line x1="81.8" y1="259.5" x2="81.8" y2="262.3" stroke="#000" stroke-width="1"/>
<text x="82.4" y="273.2" font-size="8.9" text-anchor="middle">1%</text>
<text x="78.7" y="171.37" font-size="8.8" text-anchor="middle" font-style="italic">Hif1α</text>
<text x="53.7" y="203.91" font-size="13.1" letter-spacing="0.8" text-anchor="middle">****</text>
<line x1="47.6" y1="200.9" x2="59.1" y2="200.9" stroke="#000" stroke-width="1"/>
<text x="82" y="199.51" font-size="13.1" letter-spacing="0.8" text-anchor="middle">****</text>
<line x1="76.6" y1="196.6" x2="87.9" y2="196.6" stroke="#000" stroke-width="1"/>
<rect x="117.5" y="252.2" width="7.7" height="7.3" fill="#8282fa" stroke="#0000ff" stroke-width="0.8"/>
<line x1="121.35" y1="250.32" x2="121.35" y2="254.07" stroke="#0000ff" stroke-width="0.7"/>
<line x1="120.15" y1="250.32" x2="122.55" y2="250.32" stroke="#0000ff" stroke-width="0.7"/>
<circle cx="120.26" cy="248.7" r="1.95" fill="#0000ff"/>
<circle cx="122.3" cy="250.2" r="1.95" fill="#0000ff"/>
<circle cx="120.19" cy="252.2" r="1.95" fill="#0000ff"/>
<circle cx="121.73" cy="253.7" r="1.95" fill="#0000ff"/>
<circle cx="120.16" cy="254.7" r="1.95" fill="#0000ff"/>
<rect x="129" y="256.8" width="7.7" height="2.7" fill="#ff9a9a" stroke="#ff0000" stroke-width="0.8"/>
<circle cx="131.26" cy="256" r="1.95" fill="#ff0000"/>
<circle cx="134.04" cy="256.8" r="1.95" fill="#ff0000"/>
<circle cx="131.92" cy="257.3" r="1.95" fill="#ff0000"/>
<circle cx="131.94" cy="257" r="1.95" fill="#ff0000"/>
<circle cx="134.39" cy="256.4" r="1.95" fill="#ff0000"/>
<rect x="146.7" y="223.6" width="7.6" height="35.9" fill="#8282fa" stroke="#0000ff" stroke-width="0.8"/>
<line x1="150.5" y1="216.41" x2="150.5" y2="230.79" stroke="#0000ff" stroke-width="0.7"/>
<line x1="149.3" y1="216.41" x2="151.7" y2="216.41" stroke="#0000ff" stroke-width="0.7"/>
<circle cx="151.69" cy="205.6" r="1.95" fill="#0000ff"/>
<circle cx="149.83" cy="218.6" r="1.95" fill="#0000ff"/>
<circle cx="151.98" cy="222.6" r="1.95" fill="#0000ff"/>
<circle cx="150.63" cy="225.6" r="1.95" fill="#0000ff"/>
<circle cx="151.07" cy="227.6" r="1.95" fill="#0000ff"/>
<circle cx="149.56" cy="228.6" r="1.95" fill="#0000ff"/>
<rect x="157.9" y="256.2" width="7.7" height="3.3" fill="#ff9a9a" stroke="#ff0000" stroke-width="0.8"/>
<line x1="161.75" y1="255.64" x2="161.75" y2="256.76" stroke="#ff0000" stroke-width="0.7"/>
<line x1="160.55" y1="255.64" x2="162.95" y2="255.64" stroke="#ff0000" stroke-width="0.7"/>
<circle cx="163.16" cy="255" r="1.95" fill="#ff0000"/>
<circle cx="162.36" cy="256.2" r="1.95" fill="#ff0000"/>
<circle cx="163.24" cy="256.8" r="1.95" fill="#ff0000"/>
<circle cx="163.01" cy="256.5" r="1.95" fill="#ff0000"/>
<circle cx="161.11" cy="255.6" r="1.95" fill="#ff0000"/>
<line x1="112.4" y1="195.5" x2="112.4" y2="260" stroke="#000" stroke-width="1.1"/>
<line x1="111.9" y1="259.5" x2="168.6" y2="259.5" stroke="#000" stroke-width="1.1"/>
<line x1="109" y1="259.5" x2="112.4" y2="259.5" stroke="#000" stroke-width="1"/>
<text x="108.5" y="262.7" font-size="8.9" text-anchor="end">0</text>
<line x1="109" y1="246.8" x2="112.4" y2="246.8" stroke="#000" stroke-width="1"/>
<text x="108.5" y="250" font-size="8.9" text-anchor="end">2</text>
<line x1="109" y1="234.1" x2="112.4" y2="234.1" stroke="#000" stroke-width="1"/>
<text x="108.5" y="237.3" font-size="8.9" text-anchor="end">4</text>
<line x1="109" y1="221.4" x2="112.4" y2="221.4" stroke="#000" stroke-width="1"/>
<text x="108.5" y="224.6" font-size="8.9" text-anchor="end">6</text>
<line x1="109" y1="208.7" x2="112.4" y2="208.7" stroke="#000" stroke-width="1"/>
<text x="108.5" y="211.9" font-size="8.9" text-anchor="end">8</text>
<line x1="109" y1="196" x2="112.4" y2="196" stroke="#000" stroke-width="1"/>
<text x="108.5" y="199.2" font-size="8.9" text-anchor="end">10</text>
<line x1="125.7" y1="259.5" x2="125.7" y2="262.3" stroke="#000" stroke-width="1"/>
<text x="126.3" y="273.2" font-size="8.9" text-anchor="middle">21%</text>
<line x1="155" y1="259.5" x2="155" y2="262.3" stroke="#000" stroke-width="1"/>
<text x="155.6" y="273.2" font-size="8.9" text-anchor="middle">1%</text>
<text x="141.8" y="171.37" font-size="8.8" text-anchor="middle" font-style="italic">Glut1</text>
<text x="130.3" y="242.53" font-size="8.7" text-anchor="middle">x2.8</text>
<text x="155" y="190.13" font-size="8.7" text-anchor="middle">x10.7</text>
<text x="155.4" y="204.11" font-size="13.1" letter-spacing="0.8" text-anchor="middle">****</text>
<line x1="150.2" y1="201" x2="162.05" y2="201" stroke="#000" stroke-width="1"/>
<rect x="191.7" y="244.5" width="7.7" height="15" fill="#8282fa" stroke="#0000ff" stroke-width="0.8"/>
<line x1="195.55" y1="243.47" x2="195.55" y2="245.53" stroke="#0000ff" stroke-width="0.7"/>
<line x1="194.35" y1="243.47" x2="196.75" y2="243.47" stroke="#0000ff" stroke-width="0.7"/>
<circle cx="195.11" cy="243" r="1.95" fill="#0000ff"/>
<circle cx="194.48" cy="244" r="1.95" fill="#0000ff"/>
<circle cx="194.42" cy="244.5" r="1.95" fill="#0000ff"/>
<circle cx="194.16" cy="245.5" r="1.95" fill="#0000ff"/>
<circle cx="194.91" cy="246.3" r="1.95" fill="#0000ff"/>
<rect x="202.7" y="252.2" width="7.7" height="7.3" fill="#ff9a9a" stroke="#ff0000" stroke-width="0.8"/>
<line x1="206.55" y1="250.89" x2="206.55" y2="253.51" stroke="#ff0000" stroke-width="0.7"/>
<line x1="205.35" y1="250.89" x2="207.75" y2="250.89" stroke="#ff0000" stroke-width="0.7"/>
<circle cx="206.88" cy="251" r="1.95" fill="#ff0000"/>
<circle cx="204.96" cy="252.2" r="1.95" fill="#ff0000"/>
<circle cx="207.12" cy="253" r="1.95" fill="#ff0000"/>
<circle cx="206.03" cy="254.2" r="1.95" fill="#ff0000"/>
<circle cx="205.94" cy="255.2" r="1.95" fill="#ff0000"/>
<rect x="220.3" y="213.9" width="7.7" height="45.6" fill="#8282fa" stroke="#0000ff" stroke-width="0.8"/>
<line x1="224.15" y1="208.9" x2="224.15" y2="218.9" stroke="#0000ff" stroke-width="0.7"/>
<line x1="222.95" y1="208.9" x2="225.35" y2="208.9" stroke="#0000ff" stroke-width="0.7"/>
<circle cx="225.17" cy="203.9" r="1.95" fill="#0000ff"/>
<circle cx="224.09" cy="210.9" r="1.95" fill="#0000ff"/>
<circle cx="223.56" cy="212.9" r="1.95" fill="#0000ff"/>
<circle cx="224.09" cy="214.9" r="1.95" fill="#0000ff"/>
<circle cx="224.8" cy="217.9" r="1.95" fill="#0000ff"/>
<circle cx="222.73" cy="219.9" r="1.95" fill="#0000ff"/>
<rect x="231.3" y="252" width="7.7" height="7.5" fill="#ff9a9a" stroke="#ff0000" stroke-width="0.8"/>
<line x1="235.15" y1="249.34" x2="235.15" y2="254.66" stroke="#ff0000" stroke-width="0.7"/>
<line x1="233.95" y1="249.34" x2="236.35" y2="249.34" stroke="#ff0000" stroke-width="0.7"/>
<circle cx="236.67" cy="248" r="1.95" fill="#ff0000"/>
<circle cx="233.62" cy="250.5" r="1.95" fill="#ff0000"/>
<circle cx="235.95" cy="252" r="1.95" fill="#ff0000"/>
<circle cx="236.25" cy="253.5" r="1.95" fill="#ff0000"/>
<circle cx="233.61" cy="255" r="1.95" fill="#ff0000"/>
<circle cx="236.07" cy="256.5" r="1.95" fill="#ff0000"/>
<line x1="189.2" y1="197.5" x2="189.2" y2="260" stroke="#000" stroke-width="1.1"/>
<line x1="188.7" y1="259.5" x2="242.8" y2="259.5" stroke="#000" stroke-width="1.1"/>
<line x1="185.8" y1="259.5" x2="189.2" y2="259.5" stroke="#000" stroke-width="1"/>
<text x="185.3" y="262.7" font-size="8.9" text-anchor="end">0</text>
<line x1="185.8" y1="244.12" x2="189.2" y2="244.12" stroke="#000" stroke-width="1"/>
<text x="185.3" y="247.33" font-size="8.9" text-anchor="end">1</text>
<line x1="185.8" y1="228.75" x2="189.2" y2="228.75" stroke="#000" stroke-width="1"/>
<text x="185.3" y="231.95" font-size="8.9" text-anchor="end">2</text>
<line x1="185.8" y1="213.38" x2="189.2" y2="213.38" stroke="#000" stroke-width="1"/>
<text x="185.3" y="216.58" font-size="8.9" text-anchor="end">3</text>
<line x1="185.8" y1="198" x2="189.2" y2="198" stroke="#000" stroke-width="1"/>
<text x="185.3" y="201.2" font-size="8.9" text-anchor="end">4</text>
<line x1="200.7" y1="259.5" x2="200.7" y2="262.3" stroke="#000" stroke-width="1"/>
<text x="201.3" y="273.2" font-size="8.9" text-anchor="middle">21%</text>
<line x1="229.3" y1="259.5" x2="229.3" y2="262.3" stroke="#000" stroke-width="1"/>
<text x="229.9" y="273.2" font-size="8.9" text-anchor="middle">1%</text>
<text x="214" y="171.37" font-size="8.8" text-anchor="middle" font-style="italic">Hk2</text>
<text x="201.4" y="225.93" font-size="8.7" text-anchor="middle">x1.9</text>
<text x="201.1" y="239.81" font-size="13.1" letter-spacing="0.8" text-anchor="middle">***</text>
<line x1="195.25" y1="237.6" x2="206.85" y2="237.6" stroke="#000" stroke-width="1"/>
<text x="228.3" y="190.13" font-size="8.7" text-anchor="middle">x5.0</text>
<text x="229.2" y="204.11" font-size="13.1" letter-spacing="0.8" text-anchor="middle">****</text>
<line x1="223.85" y1="201" x2="235.45" y2="201" stroke="#000" stroke-width="1"/>
<rect x="265.8" y="246.3" width="7.2" height="13.2" fill="#8282fa" stroke="#0000ff" stroke-width="0.8"/>
<line x1="269.4" y1="244.58" x2="269.4" y2="248.02" stroke="#0000ff" stroke-width="0.7"/>
<line x1="268.2" y1="244.58" x2="270.6" y2="244.58" stroke="#0000ff" stroke-width="0.7"/>
<circle cx="268.97" cy="244.3" r="1.95" fill="#0000ff"/>
<circle cx="269.65" cy="245.8" r="1.95" fill="#0000ff"/>
<circle cx="267.83" cy="246.8" r="1.95" fill="#0000ff"/>
<circle cx="267.95" cy="248.3" r="1.95" fill="#0000ff"/>
<circle cx="268.38" cy="249.8" r="1.95" fill="#0000ff"/>
<rect x="276.8" y="254.2" width="7.4" height="5.3" fill="#ff9a9a" stroke="#ff0000" stroke-width="0.8"/>
<line x1="280.5" y1="251.23" x2="280.5" y2="257.17" stroke="#ff0000" stroke-width="0.7"/>
<line x1="279.3" y1="251.23" x2="281.7" y2="251.23" stroke="#ff0000" stroke-width="0.7"/>
<circle cx="281.96" cy="248.2" r="1.95" fill="#ff0000"/>
<circle cx="279.53" cy="252.2" r="1.95" fill="#ff0000"/>
<circle cx="281.32" cy="254.2" r="1.95" fill="#ff0000"/>
<circle cx="281.87" cy="256.2" r="1.95" fill="#ff0000"/>
<circle cx="281.91" cy="257.7" r="1.95" fill="#ff0000"/>
<rect x="294.7" y="216.9" width="7.3" height="42.6" fill="#8282fa" stroke="#0000ff" stroke-width="0.8"/>
<line x1="298.35" y1="212.84" x2="298.35" y2="220.96" stroke="#0000ff" stroke-width="0.7"/>
<line x1="297.15" y1="212.84" x2="299.55" y2="212.84" stroke="#0000ff" stroke-width="0.7"/>
<circle cx="297.85" cy="208.9" r="1.95" fill="#0000ff"/>
<circle cx="297.89" cy="215.4" r="1.95" fill="#0000ff"/>
<circle cx="298.43" cy="216.9" r="1.95" fill="#0000ff"/>
<circle cx="299.23" cy="218.4" r="1.95" fill="#0000ff"/>
<circle cx="297.1" cy="219.9" r="1.95" fill="#0000ff"/>
<circle cx="299.14" cy="221.9" r="1.95" fill="#0000ff"/>
<rect x="305.4" y="254.2" width="7.6" height="5.3" fill="#ff9a9a" stroke="#ff0000" stroke-width="0.8"/>
<line x1="309.2" y1="251.86" x2="309.2" y2="256.54" stroke="#ff0000" stroke-width="0.7"/>
<line x1="308" y1="251.86" x2="310.4" y2="251.86" stroke="#ff0000" stroke-width="0.7"/>
<circle cx="310.15" cy="250.7" r="1.95" fill="#ff0000"/>
<circle cx="310.35" cy="253.2" r="1.95" fill="#ff0000"/>
<circle cx="307.72" cy="254.2" r="1.95" fill="#ff0000"/>
<circle cx="310.63" cy="255.7" r="1.95" fill="#ff0000"/>
<circle cx="307.89" cy="257.2" r="1.95" fill="#ff0000"/>
<circle cx="308.69" cy="258.2" r="1.95" fill="#ff0000"/>
<line x1="262.5" y1="192.4" x2="262.5" y2="260" stroke="#000" stroke-width="1.1"/>
<line x1="262" y1="259.5" x2="317" y2="259.5" stroke="#000" stroke-width="1.1"/>
<line x1="259.1" y1="259.5" x2="262.5" y2="259.5" stroke="#000" stroke-width="1"/>
<text x="258.6" y="262.7" font-size="8.9" text-anchor="end">0</text>
<line x1="259.1" y1="246.18" x2="262.5" y2="246.18" stroke="#000" stroke-width="1"/>
<text x="258.6" y="249.38" font-size="8.9" text-anchor="end">1</text>
<line x1="259.1" y1="232.86" x2="262.5" y2="232.86" stroke="#000" stroke-width="1"/>
<text x="258.6" y="236.06" font-size="8.9" text-anchor="end">2</text>
<line x1="259.1" y1="219.54" x2="262.5" y2="219.54" stroke="#000" stroke-width="1"/>
<text x="258.6" y="222.74" font-size="8.9" text-anchor="end">3</text>
<line x1="259.1" y1="206.22" x2="262.5" y2="206.22" stroke="#000" stroke-width="1"/>
<text x="258.6" y="209.42" font-size="8.9" text-anchor="end">4</text>
<line x1="259.1" y1="192.9" x2="262.5" y2="192.9" stroke="#000" stroke-width="1"/>
<text x="258.6" y="196.1" font-size="8.9" text-anchor="end">5</text>
<line x1="274.2" y1="259.5" x2="274.2" y2="262.3" stroke="#000" stroke-width="1"/>
<text x="274.8" y="273.2" font-size="8.9" text-anchor="middle">21%</text>
<line x1="302.9" y1="259.5" x2="302.9" y2="262.3" stroke="#000" stroke-width="1"/>
<text x="303.5" y="273.2" font-size="8.9" text-anchor="middle">1%</text>
<text x="290.1" y="171.37" font-size="8.8" text-anchor="middle" font-style="italic">Gpi</text>
<text x="275.5" y="225.93" font-size="8.7" text-anchor="middle">x2.0</text>
<text x="275.2" y="241.11" font-size="13.1" letter-spacing="0.8" text-anchor="middle">**</text>
<line x1="269.1" y1="239.4" x2="280.8" y2="239.4" stroke="#000" stroke-width="1"/>
<text x="304.1" y="192.73" font-size="8.7" text-anchor="middle">x6.5</text>
<text x="303.8" y="205.31" font-size="13.1" letter-spacing="0.8" text-anchor="middle">****</text>
<line x1="298.05" y1="203.1" x2="309.5" y2="203.1" stroke="#000" stroke-width="1"/>
<rect x="337.9" y="242.7" width="7.1" height="16.8" fill="#8282fa" stroke="#0000ff" stroke-width="0.8"/>
<line x1="341.45" y1="239.89" x2="341.45" y2="245.51" stroke="#0000ff" stroke-width="0.7"/>
<line x1="340.25" y1="239.89" x2="342.65" y2="239.89" stroke="#0000ff" stroke-width="0.7"/>
<circle cx="341.8" cy="235.7" r="1.95" fill="#0000ff"/>
<circle cx="342.79" cy="241.2" r="1.95" fill="#0000ff"/>
<circle cx="340.94" cy="242.7" r="1.95" fill="#0000ff"/>
<circle cx="342.81" cy="243.7" r="1.95" fill="#0000ff"/>
<circle cx="341.59" cy="244.7" r="1.95" fill="#0000ff"/>
<rect x="348.6" y="256" width="7.7" height="3.5" fill="#ff9a9a" stroke="#ff0000" stroke-width="0.8"/>
<circle cx="351.85" cy="255.2" r="1.95" fill="#ff0000"/>
<circle cx="351.86" cy="256" r="1.95" fill="#ff0000"/>
<circle cx="351.42" cy="256.5" r="1.95" fill="#ff0000"/>
<circle cx="351.1" cy="256.2" r="1.95" fill="#ff0000"/>
<circle cx="351.33" cy="255.6" r="1.95" fill="#ff0000"/>
<rect x="366.8" y="217.7" width="7.4" height="41.8" fill="#8282fa" stroke="#0000ff" stroke-width="0.8"/>
<line x1="370.5" y1="210.51" x2="370.5" y2="224.89" stroke="#0000ff" stroke-width="0.7"/>
<line x1="369.3" y1="210.51" x2="371.7" y2="210.51" stroke="#0000ff" stroke-width="0.7"/>
<circle cx="371.11" cy="205.7" r="1.95" fill="#0000ff"/>
<circle cx="372.09" cy="215.7" r="1.95" fill="#0000ff"/>
<circle cx="369.42" cy="217.7" r="1.95" fill="#0000ff"/>
<circle cx="369.06" cy="220.7" r="1.95" fill="#0000ff"/>
<circle cx="372.06" cy="224.7" r="1.95" fill="#0000ff"/>
<circle cx="370.61" cy="228.7" r="1.95" fill="#0000ff"/>
<rect x="377.5" y="256.5" width="7.7" height="3" fill="#ff9a9a" stroke="#ff0000" stroke-width="0.8"/>
<circle cx="381.05" cy="255.7" r="1.95" fill="#ff0000"/>
<circle cx="380.51" cy="256.5" r="1.95" fill="#ff0000"/>
<circle cx="381.65" cy="257" r="1.95" fill="#ff0000"/>
<circle cx="382.39" cy="256.7" r="1.95" fill="#ff0000"/>
<circle cx="381.21" cy="256.1" r="1.95" fill="#ff0000"/>
<circle cx="381.1" cy="257.1" r="1.95" fill="#ff0000"/>
<line x1="334.8" y1="191.7" x2="334.8" y2="260" stroke="#000" stroke-width="1.1"/>
<line x1="334.3" y1="259.5" x2="389" y2="259.5" stroke="#000" stroke-width="1.1"/>
<line x1="331.4" y1="259.5" x2="334.8" y2="259.5" stroke="#000" stroke-width="1"/>
<text x="330.9" y="262.7" font-size="8.9" text-anchor="end">0</text>
<line x1="331.4" y1="242.68" x2="334.8" y2="242.68" stroke="#000" stroke-width="1"/>
<text x="330.9" y="245.88" font-size="8.9" text-anchor="end">1</text>
<line x1="331.4" y1="225.85" x2="334.8" y2="225.85" stroke="#000" stroke-width="1"/>
<text x="330.9" y="229.05" font-size="8.9" text-anchor="end">2</text>
<line x1="331.4" y1="209.02" x2="334.8" y2="209.02" stroke="#000" stroke-width="1"/>
<text x="330.9" y="212.23" font-size="8.9" text-anchor="end">3</text>
<line x1="331.4" y1="192.2" x2="334.8" y2="192.2" stroke="#000" stroke-width="1"/>
<text x="330.9" y="195.4" font-size="8.9" text-anchor="end">4</text>
<line x1="346.3" y1="259.5" x2="346.3" y2="262.3" stroke="#000" stroke-width="1"/>
<text x="346.9" y="273.2" font-size="8.9" text-anchor="middle">21%</text>
<line x1="374.9" y1="259.5" x2="374.9" y2="262.3" stroke="#000" stroke-width="1"/>
<text x="375.5" y="273.2" font-size="8.9" text-anchor="middle">1%</text>
<text x="360.9" y="171.37" font-size="8.8" text-anchor="middle" font-style="italic">Tpi1</text>
<text x="347.6" y="219.03" font-size="8.7" text-anchor="middle">x5.3</text>
<text x="347.2" y="234.01" font-size="13.1" letter-spacing="0.8" text-anchor="middle">****</text>
<line x1="341.15" y1="231.8" x2="352.75" y2="231.8" stroke="#000" stroke-width="1"/>
<text x="376.2" y="187.63" font-size="8.7" text-anchor="middle">x13.7</text>
<text x="375.8" y="203.61" font-size="13.1" letter-spacing="0.8" text-anchor="middle">****</text>
<line x1="370.2" y1="201.1" x2="381.65" y2="201.1" stroke="#000" stroke-width="1"/>
<rect x="412" y="242" width="7.1" height="17.5" fill="#8282fa" stroke="#0000ff" stroke-width="0.8"/>
<line x1="415.55" y1="238.72" x2="415.55" y2="245.28" stroke="#0000ff" stroke-width="0.7"/>
<line x1="414.35" y1="238.72" x2="416.75" y2="238.72" stroke="#0000ff" stroke-width="0.7"/>
<circle cx="414.13" cy="235" r="1.95" fill="#0000ff"/>
<circle cx="416.88" cy="239.5" r="1.95" fill="#0000ff"/>
<circle cx="414.05" cy="241" r="1.95" fill="#0000ff"/>
<circle cx="415.53" cy="242.5" r="1.95" fill="#0000ff"/>
<circle cx="416.63" cy="244" r="1.95" fill="#0000ff"/>
<circle cx="414.37" cy="245.5" r="1.95" fill="#0000ff"/>
<rect x="423" y="250.4" width="7.4" height="9.1" fill="#ff9a9a" stroke="#ff0000" stroke-width="0.8"/>
<line x1="426.7" y1="248.68" x2="426.7" y2="252.12" stroke="#ff0000" stroke-width="0.7"/>
<line x1="425.5" y1="248.68" x2="427.9" y2="248.68" stroke="#ff0000" stroke-width="0.7"/>
<circle cx="427.44" cy="247.9" r="1.95" fill="#ff0000"/>
<circle cx="428.14" cy="249.4" r="1.95" fill="#ff0000"/>
<circle cx="427.12" cy="250.4" r="1.95" fill="#ff0000"/>
<circle cx="427.62" cy="251.4" r="1.95" fill="#ff0000"/>
<circle cx="425.44" cy="252.4" r="1.95" fill="#ff0000"/>
<circle cx="426.49" cy="253.4" r="1.95" fill="#ff0000"/>
<rect x="440.8" y="216.4" width="7.5" height="43.1" fill="#8282fa" stroke="#0000ff" stroke-width="0.8"/>
<line x1="444.55" y1="209.21" x2="444.55" y2="223.59" stroke="#0000ff" stroke-width="0.7"/>
<line x1="443.35" y1="209.21" x2="445.75" y2="209.21" stroke="#0000ff" stroke-width="0.7"/>
<circle cx="443.43" cy="206.4" r="1.95" fill="#0000ff"/>
<circle cx="445.65" cy="210.4" r="1.95" fill="#0000ff"/>
<circle cx="443.89" cy="213.4" r="1.95" fill="#0000ff"/>
<circle cx="444.4" cy="217.4" r="1.95" fill="#0000ff"/>
<circle cx="446.15" cy="223.4" r="1.95" fill="#0000ff"/>
<circle cx="445.68" cy="229.4" r="1.95" fill="#0000ff"/>
<rect x="451.6" y="252.2" width="7.6" height="7.3" fill="#ff9a9a" stroke="#ff0000" stroke-width="0.8"/>
<line x1="455.4" y1="250.48" x2="455.4" y2="253.92" stroke="#ff0000" stroke-width="0.7"/>
<line x1="454.2" y1="250.48" x2="456.6" y2="250.48" stroke="#ff0000" stroke-width="0.7"/>
<circle cx="456.92" cy="249.7" r="1.95" fill="#ff0000"/>
<circle cx="455.25" cy="251.2" r="1.95" fill="#ff0000"/>
<circle cx="455.36" cy="252.2" r="1.95" fill="#ff0000"/>
<circle cx="456.13" cy="253.2" r="1.95" fill="#ff0000"/>
<circle cx="455.33" cy="254.2" r="1.95" fill="#ff0000"/>
<circle cx="454.73" cy="255.2" r="1.95" fill="#ff0000"/>
<line x1="408.7" y1="190.4" x2="408.7" y2="260" stroke="#000" stroke-width="1.1"/>
<line x1="408.2" y1="259.5" x2="461.8" y2="259.5" stroke="#000" stroke-width="1.1"/>
<line x1="405.3" y1="259.5" x2="408.7" y2="259.5" stroke="#000" stroke-width="1"/>
<text x="404.8" y="262.7" font-size="8.9" text-anchor="end">0</text>
<line x1="405.3" y1="242.35" x2="408.7" y2="242.35" stroke="#000" stroke-width="1"/>
<text x="404.8" y="245.55" font-size="8.9" text-anchor="end">1</text>
<line x1="405.3" y1="225.2" x2="408.7" y2="225.2" stroke="#000" stroke-width="1"/>
<text x="404.8" y="228.4" font-size="8.9" text-anchor="end">2</text>
<line x1="405.3" y1="208.05" x2="408.7" y2="208.05" stroke="#000" stroke-width="1"/>
<text x="404.8" y="211.25" font-size="8.9" text-anchor="end">3</text>
<line x1="405.3" y1="190.9" x2="408.7" y2="190.9" stroke="#000" stroke-width="1"/>
<text x="404.8" y="194.1" font-size="8.9" text-anchor="end">4</text>
<line x1="420.4" y1="259.5" x2="420.4" y2="262.3" stroke="#000" stroke-width="1"/>
<text x="421" y="273.2" font-size="8.9" text-anchor="middle">21%</text>
<line x1="449.5" y1="259.5" x2="449.5" y2="262.3" stroke="#000" stroke-width="1"/>
<text x="450.1" y="273.2" font-size="8.9" text-anchor="middle">1%</text>
<text x="432.4" y="171.37" font-size="8.8" text-anchor="middle" font-style="italic">Pkm2</text>
<text x="421.7" y="213.93" font-size="8.7" text-anchor="middle">x2.0</text>
<text x="420.6" y="227.11" font-size="13.1" letter-spacing="0.8" text-anchor="middle">**</text>
<line x1="415.25" y1="230.5" x2="427" y2="230.5" stroke="#000" stroke-width="1"/>
<text x="451" y="186.83" font-size="8.7" text-anchor="middle">x5.9</text>
<text x="449.4" y="200.21" font-size="13.1" letter-spacing="0.8" text-anchor="middle">****</text>
<line x1="444.25" y1="203.1" x2="455.7" y2="203.1" stroke="#000" stroke-width="1"/>
<rect x="486.3" y="244.8" width="6.8" height="14.7" fill="#8282fa" stroke="#0000ff" stroke-width="0.8"/>
<line x1="489.7" y1="243.24" x2="489.7" y2="246.36" stroke="#0000ff" stroke-width="0.7"/>
<line x1="488.5" y1="243.24" x2="490.9" y2="243.24" stroke="#0000ff" stroke-width="0.7"/>
<circle cx="489.39" cy="242.8" r="1.95" fill="#0000ff"/>
<circle cx="488.57" cy="244.3" r="1.95" fill="#0000ff"/>
<circle cx="489.31" cy="245.3" r="1.95" fill="#0000ff"/>
<circle cx="491.26" cy="246.3" r="1.95" fill="#0000ff"/>
<circle cx="491.17" cy="247.8" r="1.95" fill="#0000ff"/>
<rect x="496.8" y="254" width="7" height="5.5" fill="#ff9a9a" stroke="#ff0000" stroke-width="0.8"/>
<line x1="500.3" y1="253.38" x2="500.3" y2="254.62" stroke="#ff0000" stroke-width="0.7"/>
<line x1="499.1" y1="253.38" x2="501.5" y2="253.38" stroke="#ff0000" stroke-width="0.7"/>
<circle cx="500.71" cy="252.8" r="1.95" fill="#ff0000"/>
<circle cx="500.3" cy="254" r="1.95" fill="#ff0000"/>
<circle cx="499.78" cy="254.8" r="1.95" fill="#ff0000"/>
<circle cx="498.99" cy="254.3" r="1.95" fill="#ff0000"/>
<circle cx="499.57" cy="253.4" r="1.95" fill="#ff0000"/>
<rect x="514.7" y="217.2" width="7" height="42.3" fill="#8282fa" stroke="#0000ff" stroke-width="0.8"/>
<line x1="518.2" y1="212.98" x2="518.2" y2="221.42" stroke="#0000ff" stroke-width="0.7"/>
<line x1="517" y1="212.98" x2="519.4" y2="212.98" stroke="#0000ff" stroke-width="0.7"/>
<circle cx="519.1" cy="207.2" r="1.95" fill="#0000ff"/>
<circle cx="519.38" cy="215.7" r="1.95" fill="#0000ff"/>
<circle cx="517.76" cy="217.2" r="1.95" fill="#0000ff"/>
<circle cx="519.12" cy="218.2" r="1.95" fill="#0000ff"/>
<circle cx="519.08" cy="219.7" r="1.95" fill="#0000ff"/>
<circle cx="518.82" cy="220.7" r="1.95" fill="#0000ff"/>
<rect x="525.4" y="255.9" width="7" height="3.6" fill="#ff9a9a" stroke="#ff0000" stroke-width="0.8"/>
<line x1="528.9" y1="255.34" x2="528.9" y2="256.46" stroke="#ff0000" stroke-width="0.7"/>
<line x1="527.7" y1="255.34" x2="530.1" y2="255.34" stroke="#ff0000" stroke-width="0.7"/>
<circle cx="529.42" cy="254.9" r="1.95" fill="#ff0000"/>
<circle cx="529.73" cy="255.9" r="1.95" fill="#ff0000"/>
<circle cx="528.46" cy="256.5" r="1.95" fill="#ff0000"/>
<circle cx="529.55" cy="256.2" r="1.95" fill="#ff0000"/>
<circle cx="528.2" cy="255.4" r="1.95" fill="#ff0000"/>
<circle cx="528.85" cy="256.7" r="1.95" fill="#ff0000"/>
<line x1="482.5" y1="201.1" x2="482.5" y2="260" stroke="#000" stroke-width="1.1"/>
<line x1="482" y1="259.5" x2="536.4" y2="259.5" stroke="#000" stroke-width="1.1"/>
<line x1="479.1" y1="259.5" x2="482.5" y2="259.5" stroke="#000" stroke-width="1"/>
<text x="478.6" y="262.7" font-size="8.9" text-anchor="end">0</text>
<line x1="479.1" y1="245.03" x2="482.5" y2="245.03" stroke="#000" stroke-width="1"/>
<text x="478.6" y="248.23" font-size="8.9" text-anchor="end">1</text>
<line x1="479.1" y1="230.55" x2="482.5" y2="230.55" stroke="#000" stroke-width="1"/>
<text x="478.6" y="233.75" font-size="8.9" text-anchor="end">2</text>
<line x1="479.1" y1="216.07" x2="482.5" y2="216.07" stroke="#000" stroke-width="1"/>
<text x="478.6" y="219.28" font-size="8.9" text-anchor="end">3</text>
<line x1="479.1" y1="201.6" x2="482.5" y2="201.6" stroke="#000" stroke-width="1"/>
<text x="478.6" y="204.8" font-size="8.9" text-anchor="end">4</text>
<line x1="494.1" y1="259.5" x2="494.1" y2="262.3" stroke="#000" stroke-width="1"/>
<text x="494.7" y="273.2" font-size="8.9" text-anchor="middle">21%</text>
<line x1="523.5" y1="259.5" x2="523.5" y2="262.3" stroke="#000" stroke-width="1"/>
<text x="524.1" y="273.2" font-size="8.9" text-anchor="middle">1%</text>
<text x="505.1" y="171.37" font-size="8.8" text-anchor="middle" font-style="italic">Eno1</text>
<text x="495.9" y="226.43" font-size="8.7" text-anchor="middle">x2.3</text>
<text x="495" y="241.91" font-size="13.1" letter-spacing="0.8" text-anchor="middle">****</text>
<line x1="489.4" y1="239.3" x2="500.6" y2="239.3" stroke="#000" stroke-width="1"/>
<text x="525.9" y="191.83" font-size="8.7" text-anchor="middle">x8.7</text>
<text x="523.9" y="206.21" font-size="13.1" letter-spacing="0.8" text-anchor="middle">****</text>
<line x1="517.9" y1="203.4" x2="529.2" y2="203.4" stroke="#000" stroke-width="1"/>
<rect x="561.1" y="237.6" width="7.2" height="21.9" fill="#8282fa" stroke="#0000ff" stroke-width="0.8"/>
<line x1="564.7" y1="236.19" x2="564.7" y2="239.01" stroke="#0000ff" stroke-width="0.7"/>
<line x1="563.5" y1="236.19" x2="565.9" y2="236.19" stroke="#0000ff" stroke-width="0.7"/>
<circle cx="565.56" cy="235.1" r="1.95" fill="#0000ff"/>
<circle cx="565.31" cy="236.6" r="1.95" fill="#0000ff"/>
<circle cx="564.04" cy="237.6" r="1.95" fill="#0000ff"/>
<circle cx="566.13" cy="238.6" r="1.95" fill="#0000ff"/>
<circle cx="565.18" cy="239.6" r="1.95" fill="#0000ff"/>
<rect x="572.1" y="246.6" width="7.4" height="12.9" fill="#ff9a9a" stroke="#ff0000" stroke-width="0.8"/>
<line x1="575.8" y1="242.85" x2="575.8" y2="250.35" stroke="#ff0000" stroke-width="0.7"/>
<line x1="574.6" y1="242.85" x2="577" y2="242.85" stroke="#ff0000" stroke-width="0.7"/>
<circle cx="576.06" cy="241.6" r="1.95" fill="#ff0000"/>
<circle cx="574.24" cy="244.1" r="1.95" fill="#ff0000"/>
<circle cx="575.95" cy="246.6" r="1.95" fill="#ff0000"/>
<circle cx="575" cy="249.1" r="1.95" fill="#ff0000"/>
<circle cx="576.35" cy="251.6" r="1.95" fill="#ff0000"/>
<circle cx="575.68" cy="253.6" r="1.95" fill="#ff0000"/>
<rect x="590" y="217.7" width="7.4" height="41.8" fill="#8282fa" stroke="#0000ff" stroke-width="0.8"/>
<line x1="593.7" y1="213.32" x2="593.7" y2="222.07" stroke="#0000ff" stroke-width="0.7"/>
<line x1="592.5" y1="213.32" x2="594.9" y2="213.32" stroke="#0000ff" stroke-width="0.7"/>
<circle cx="594.71" cy="210.7" r="1.95" fill="#0000ff"/>
<circle cx="594.17" cy="214.7" r="1.95" fill="#0000ff"/>
<circle cx="594.65" cy="216.7" r="1.95" fill="#0000ff"/>
<circle cx="593.21" cy="218.7" r="1.95" fill="#0000ff"/>
<circle cx="594.16" cy="221.7" r="1.95" fill="#0000ff"/>
<circle cx="594.46" cy="224.7" r="1.95" fill="#0000ff"/>
<rect x="600.7" y="248.4" width="7.7" height="11.1" fill="#ff9a9a" stroke="#ff0000" stroke-width="0.8"/>
<line x1="604.55" y1="244.49" x2="604.55" y2="252.31" stroke="#ff0000" stroke-width="0.7"/>
<line x1="603.35" y1="244.49" x2="605.75" y2="244.49" stroke="#ff0000" stroke-width="0.7"/>
<circle cx="605.6" cy="241.4" r="1.95" fill="#ff0000"/>
<circle cx="604.07" cy="246.4" r="1.95" fill="#ff0000"/>
<circle cx="605.65" cy="248.4" r="1.95" fill="#ff0000"/>
<circle cx="605.73" cy="250.4" r="1.95" fill="#ff0000"/>
<circle cx="605.15" cy="252.4" r="1.95" fill="#ff0000"/>
<circle cx="606.07" cy="253.9" r="1.95" fill="#ff0000"/>
<line x1="557.3" y1="192.9" x2="557.3" y2="260" stroke="#000" stroke-width="1.1"/>
<line x1="556.8" y1="259.5" x2="612.2" y2="259.5" stroke="#000" stroke-width="1.1"/>
<line x1="553.9" y1="259.5" x2="557.3" y2="259.5" stroke="#000" stroke-width="1"/>
<text x="553.4" y="262.7" font-size="8.9" text-anchor="end">0</text>
<line x1="553.9" y1="237.47" x2="557.3" y2="237.47" stroke="#000" stroke-width="1"/>
<text x="553.4" y="240.67" font-size="8.9" text-anchor="end">1</text>
<line x1="553.9" y1="215.43" x2="557.3" y2="215.43" stroke="#000" stroke-width="1"/>
<text x="553.4" y="218.64" font-size="8.9" text-anchor="end">2</text>
<line x1="553.9" y1="193.4" x2="557.3" y2="193.4" stroke="#000" stroke-width="1"/>
<text x="553.4" y="196.6" font-size="8.9" text-anchor="end">3</text>
<line x1="570" y1="259.5" x2="570" y2="262.3" stroke="#000" stroke-width="1"/>
<text x="570.6" y="273.2" font-size="8.9" text-anchor="middle">21%</text>
<line x1="598.7" y1="259.5" x2="598.7" y2="262.3" stroke="#000" stroke-width="1"/>
<text x="599.3" y="273.2" font-size="8.9" text-anchor="middle">1%</text>
<text x="578.5" y="171.37" font-size="8.8" text-anchor="middle" font-style="italic">Ldha</text>
<text x="571.3" y="218.33" font-size="8.7" text-anchor="middle">x1.7</text>
<text x="570.4" y="233.41" font-size="13.1" letter-spacing="0.8" text-anchor="middle">***</text>
<line x1="564.4" y1="231.2" x2="576.1" y2="231.2" stroke="#000" stroke-width="1"/>
<text x="598.1" y="195.33" font-size="8.7" text-anchor="middle">x3.5</text>
<text x="598.5" y="210.51" font-size="13.1" letter-spacing="0.8" text-anchor="middle">****</text>
<line x1="593.4" y1="207.5" x2="604.85" y2="207.5" stroke="#000" stroke-width="1"/>
<rect x="633.9" y="247.1" width="7.2" height="12.4" fill="#8282fa" stroke="#0000ff" stroke-width="0.8"/>
<line x1="637.5" y1="245.69" x2="637.5" y2="248.51" stroke="#0000ff" stroke-width="0.7"/>
<line x1="636.3" y1="245.69" x2="638.7" y2="245.69" stroke="#0000ff" stroke-width="0.7"/>
<circle cx="638.96" cy="244.6" r="1.95" fill="#0000ff"/>
<circle cx="637.56" cy="246.1" r="1.95" fill="#0000ff"/>
<circle cx="637.59" cy="247.1" r="1.95" fill="#0000ff"/>
<circle cx="636.43" cy="248.1" r="1.95" fill="#0000ff"/>
<circle cx="638.58" cy="249.1" r="1.95" fill="#0000ff"/>
<rect x="644.2" y="258.7" width="7.6" height="0.8" fill="#ff9a9a" stroke="#ff0000" stroke-width="0.8"/>
<circle cx="649.4" cy="258.4" r="1.95" fill="#ff0000"/>
<circle cx="647.93" cy="258.7" r="1.95" fill="#ff0000"/>
<circle cx="648.61" cy="258.9" r="1.95" fill="#ff0000"/>
<circle cx="648.7" cy="258.7" r="1.95" fill="#ff0000"/>
<circle cx="648.74" cy="258.8" r="1.95" fill="#ff0000"/>
<rect x="662.8" y="215.9" width="7.4" height="43.6" fill="#8282fa" stroke="#0000ff" stroke-width="0.8"/>
<line x1="666.5" y1="209.34" x2="666.5" y2="222.46" stroke="#0000ff" stroke-width="0.7"/>
<line x1="665.3" y1="209.34" x2="667.7" y2="209.34" stroke="#0000ff" stroke-width="0.7"/>
<circle cx="665.45" cy="204.9" r="1.95" fill="#0000ff"/>
<circle cx="667.4" cy="213.4" r="1.95" fill="#0000ff"/>
<circle cx="666.76" cy="214.9" r="1.95" fill="#0000ff"/>
<circle cx="667.03" cy="216.9" r="1.95" fill="#0000ff"/>
<circle cx="666.25" cy="219.9" r="1.95" fill="#0000ff"/>
<circle cx="666.9" cy="225.9" r="1.95" fill="#0000ff"/>
<rect x="673" y="258.5" width="7.6" height="1" fill="#ff9a9a" stroke="#ff0000" stroke-width="0.8"/>
<circle cx="677.68" cy="258.2" r="1.95" fill="#ff0000"/>
<circle cx="677.24" cy="258.5" r="1.95" fill="#ff0000"/>
<circle cx="677.51" cy="258.7" r="1.95" fill="#ff0000"/>
<circle cx="675.29" cy="258.5" r="1.95" fill="#ff0000"/>
<circle cx="675.71" cy="258.6" r="1.95" fill="#ff0000"/>
<line x1="630.1" y1="196.3" x2="630.1" y2="260" stroke="#000" stroke-width="1.1"/>
<line x1="629.6" y1="259.5" x2="685" y2="259.5" stroke="#000" stroke-width="1.1"/>
<line x1="626.7" y1="259.5" x2="630.1" y2="259.5" stroke="#000" stroke-width="1"/>
<text x="626.2" y="262.7" font-size="8.9" text-anchor="end">0</text>
<line x1="626.7" y1="246.96" x2="630.1" y2="246.96" stroke="#000" stroke-width="1"/>
<text x="626.2" y="250.16" font-size="8.9" text-anchor="end">1</text>
<line x1="626.7" y1="234.42" x2="630.1" y2="234.42" stroke="#000" stroke-width="1"/>
<text x="626.2" y="237.62" font-size="8.9" text-anchor="end">2</text>
<line x1="626.7" y1="221.88" x2="630.1" y2="221.88" stroke="#000" stroke-width="1"/>
<text x="626.2" y="225.08" font-size="8.9" text-anchor="end">3</text>
<line x1="626.7" y1="209.34" x2="630.1" y2="209.34" stroke="#000" stroke-width="1"/>
<text x="626.2" y="212.54" font-size="8.9" text-anchor="end">4</text>
<line x1="626.7" y1="196.8" x2="630.1" y2="196.8" stroke="#000" stroke-width="1"/>
<text x="626.2" y="200" font-size="8.9" text-anchor="end">5</text>
<line x1="642.9" y1="259.5" x2="642.9" y2="262.3" stroke="#000" stroke-width="1"/>
<text x="643.5" y="273.2" font-size="8.9" text-anchor="middle">21%</text>
<line x1="671.5" y1="259.5" x2="671.5" y2="262.3" stroke="#000" stroke-width="1"/>
<text x="672.1" y="273.2" font-size="8.9" text-anchor="middle">1%</text>
<text x="654.4" y="171.37" font-size="8.8" text-anchor="middle" font-style="italic">Mct4</text>
<text x="644.6" y="225.93" font-size="8.7" text-anchor="middle">x19.3</text>
<text x="643.3" y="241.11" font-size="13.1" letter-spacing="0.8" text-anchor="middle">****</text>
<line x1="637.2" y1="239.4" x2="648.3" y2="239.4" stroke="#000" stroke-width="1"/>
<text x="672.7" y="186.83" font-size="8.7" text-anchor="middle">x35.2</text>
<text x="671.4" y="203.31" font-size="13.1" letter-spacing="0.8" text-anchor="middle">****</text>
<line x1="666.2" y1="200.3" x2="677.1" y2="200.3" stroke="#000" stroke-width="1"/>
</g>

<g id="pE">
<defs><filter id="b1" x="-20%" y="-60%" width="140%" height="220%"><feGaussianBlur stdDeviation="1.1 0.8"/></filter><filter id="b2" x="-20%" y="-60%" width="140%" height="220%"><feGaussianBlur stdDeviation="1.6 1.5"/></filter></defs>
<text x="13.3" y="303.4" font-size="12.5" text-anchor="middle" font-weight="bold">E</text>
<text x="79.3" y="294.1" font-size="8.6" text-anchor="middle">21%</text>
<text x="167.8" y="294.1" font-size="8.6" text-anchor="middle">1%</text>
<line x1="38.9" y1="300.9" x2="118" y2="300.9" stroke="#000" stroke-width="0.9"/>
<line x1="125.7" y1="300.9" x2="205" y2="300.9" stroke="#000" stroke-width="0.9"/>
<text x="58.8" y="311.5" font-size="8.6" text-anchor="middle">WT</text>
<text x="144.3" y="311.5" font-size="8.6" text-anchor="middle">WT</text>
<text x="100.6" y="311.62" font-size="8.4" text-anchor="middle" font-style="italic">Hif1α<tspan font-size="70%" dy="-0.4em">-/-</tspan></text>
<text x="185.5" y="311.62" font-size="8.4" text-anchor="middle" font-style="italic">Hif1α<tspan font-size="70%" dy="-0.4em">-/-</tspan></text>
<line x1="39.9" y1="314.7" x2="76.9" y2="314.7" stroke="#000" stroke-width="0.9"/>
<line x1="82" y1="314.7" x2="119.6" y2="314.7" stroke="#000" stroke-width="0.9"/>
<line x1="124.7" y1="314.7" x2="162.1" y2="314.7" stroke="#000" stroke-width="0.9"/>
<line x1="168" y1="314.7" x2="205.4" y2="314.7" stroke="#000" stroke-width="0.9"/>
<clipPath id="blot"><rect x="35.1" y="316" width="174.1" height="67.5"/></clipPath><g clip-path="url(#blot)">
<rect x="35.1" y="317" width="174.1" height="10.1" fill="#d2d2d2"/>
<rect x="35.1" y="328.4" width="174.1" height="9.5" fill="#dcdcdc"/>
<rect x="35.1" y="339.4" width="174.1" height="9.9" fill="#d9d9d9"/>
<rect x="35.1" y="350.6" width="174.1" height="10.1" fill="#cfcfcf"/>
<rect x="35.1" y="362" width="174.1" height="9.5" fill="#d6d6d6"/>
<rect x="35.1" y="373" width="174.1" height="9.5" fill="#cdcdcd"/>
<ellipse cx="46.5" cy="322.05" rx="7.67" ry="3.96" fill="rgb(70,70,70)" filter="url(#b2)"/>
<ellipse cx="66.4" cy="322.05" rx="8.26" ry="4.27" fill="rgb(55,55,55)" filter="url(#b2)"/>
<ellipse cx="87.3" cy="322.05" rx="7.08" ry="3.05" fill="rgb(165,165,165)" filter="url(#b2)"/>
<ellipse cx="109.1" cy="322.05" rx="7.08" ry="3.05" fill="rgb(170,170,170)" filter="url(#b2)"/>
<rect x="122.55" y="317.25" width="18.5" height="9.6" rx="3.65" fill="rgb(38,38,38)" filter="url(#b1)"/>
<rect x="144.55" y="317.25" width="18.5" height="9.6" rx="3.65" fill="rgb(38,38,38)" filter="url(#b1)"/>
<ellipse cx="175" cy="322.05" rx="7.67" ry="3.05" fill="rgb(190,190,190)" filter="url(#b2)"/>
<ellipse cx="196.9" cy="322.05" rx="8.26" ry="3.66" fill="rgb(175,175,175)" filter="url(#b2)"/>
<ellipse cx="46.5" cy="333.45" rx="7.67" ry="1.59" fill="rgb(95,95,95)" filter="url(#b1)"/>
<ellipse cx="66.4" cy="333.35" rx="7.67" ry="1.83" fill="rgb(80,80,80)" filter="url(#b1)"/>
<ellipse cx="87.3" cy="333.15" rx="7.08" ry="1.22" fill="rgb(165,165,165)" filter="url(#b1)"/>
<ellipse cx="109.1" cy="333.15" rx="7.08" ry="1.22" fill="rgb(160,160,160)" filter="url(#b1)"/>
<rect x="123.8" y="329.85" width="16" height="6.6" rx="2.51" fill="rgb(45,45,45)" filter="url(#b1)"/>
<rect x="145.8" y="329.85" width="16" height="6.6" rx="2.51" fill="rgb(45,45,45)" filter="url(#b1)"/>
<ellipse cx="175" cy="333.45" rx="7.08" ry="0.98" fill="rgb(205,205,205)" filter="url(#b1)"/>
<ellipse cx="196.9" cy="333.45" rx="7.08" ry="1.1" fill="rgb(195,195,195)" filter="url(#b1)"/>
<ellipse cx="46.5" cy="344.35" rx="10.03" ry="2.56" fill="rgb(35,35,35)" filter="url(#b1)"/>
<ellipse cx="66.4" cy="344.35" rx="10.03" ry="2.56" fill="rgb(35,35,35)" filter="url(#b1)"/>
<ellipse cx="87.3" cy="344.65" rx="8.85" ry="1.83" fill="rgb(90,90,90)" filter="url(#b1)"/>
<ellipse cx="109.1" cy="344.65" rx="9.44" ry="2.07" fill="rgb(70,70,70)" filter="url(#b1)"/>
<ellipse cx="131.8" cy="344.35" rx="12.39" ry="4.58" fill="rgb(15,15,15)" filter="url(#b1)"/>
<ellipse cx="153.8" cy="344.35" rx="12.39" ry="4.58" fill="rgb(15,15,15)" filter="url(#b1)"/>
<ellipse cx="175" cy="344.75" rx="8.26" ry="1.59" fill="rgb(125,125,125)" filter="url(#b1)"/>
<ellipse cx="196.9" cy="344.75" rx="8.26" ry="1.59" fill="rgb(115,115,115)" filter="url(#b1)"/>
<ellipse cx="46.5" cy="355.65" rx="8.85" ry="2.07" fill="rgb(60,60,60)" filter="url(#b1)"/>
<ellipse cx="66.4" cy="355.65" rx="8.85" ry="2.07" fill="rgb(65,65,65)" filter="url(#b1)"/>
<ellipse cx="87.3" cy="355.65" rx="8.85" ry="2.07" fill="rgb(55,55,55)" filter="url(#b1)"/>
<ellipse cx="109.1" cy="355.25" rx="8.85" ry="2.07" fill="rgb(55,55,55)" filter="url(#b1)"/>
<ellipse cx="131.8" cy="355.65" rx="7.67" ry="1.59" fill="rgb(150,150,150)" filter="url(#b1)"/>
<ellipse cx="153.8" cy="355.65" rx="7.67" ry="1.59" fill="rgb(135,135,135)" filter="url(#b1)"/>
<ellipse cx="175" cy="355.35" rx="8.85" ry="2.2" fill="rgb(55,55,55)" filter="url(#b1)"/>
<ellipse cx="196.9" cy="354.85" rx="8.85" ry="2.32" fill="rgb(50,50,50)" filter="url(#b1)"/>
<ellipse cx="46.5" cy="367.05" rx="10.03" ry="2.2" fill="rgb(40,40,40)" filter="url(#b1)"/>
<ellipse cx="66.4" cy="367.05" rx="10.03" ry="2.2" fill="rgb(40,40,40)" filter="url(#b1)"/>
<ellipse cx="87.3" cy="367.05" rx="10.03" ry="2.2" fill="rgb(40,40,40)" filter="url(#b1)"/>
<ellipse cx="109.1" cy="367.05" rx="10.03" ry="2.2" fill="rgb(40,40,40)" filter="url(#b1)"/>
<ellipse cx="131.8" cy="366.75" rx="10.03" ry="2.2" fill="rgb(45,45,45)" filter="url(#b1)"/>
<ellipse cx="153.8" cy="366.75" rx="10.03" ry="2.2" fill="rgb(45,45,45)" filter="url(#b1)"/>
<ellipse cx="175" cy="365.75" rx="10.03" ry="2.07" fill="rgb(35,35,35)" filter="url(#b1)"/>
<ellipse cx="196.9" cy="365.15" rx="10.03" ry="2.07" fill="rgb(35,35,35)" filter="url(#b1)"/>
<ellipse cx="175" cy="369.8" rx="9.44" ry="0.98" fill="rgb(60,60,60)" filter="url(#b1)"/>
<ellipse cx="196.9" cy="369.2" rx="9.44" ry="1.1" fill="rgb(55,55,55)" filter="url(#b1)"/>
<ellipse cx="46.5" cy="378.15" rx="11.8" ry="2.2" fill="rgb(40,40,40)" filter="url(#b1)"/>
<ellipse cx="66.4" cy="378.15" rx="11.8" ry="2.2" fill="rgb(40,40,40)" filter="url(#b1)"/>
<ellipse cx="87.3" cy="378.15" rx="11.8" ry="2.2" fill="rgb(40,40,40)" filter="url(#b1)"/>
<ellipse cx="109.1" cy="378.15" rx="11.8" ry="2.2" fill="rgb(40,40,40)" filter="url(#b1)"/>
<ellipse cx="131.8" cy="377.75" rx="11.8" ry="2.2" fill="rgb(45,45,45)" filter="url(#b1)"/>
<ellipse cx="153.8" cy="377.75" rx="11.8" ry="2.2" fill="rgb(45,45,45)" filter="url(#b1)"/>
<ellipse cx="175" cy="377.45" rx="11.8" ry="2.32" fill="rgb(40,40,40)" filter="url(#b1)"/>
<ellipse cx="196.9" cy="376.95" rx="11.8" ry="2.44" fill="rgb(40,40,40)" filter="url(#b1)"/>
</g>
<rect x="34" y="327.1" width="176.5" height="1.3" fill="#fff"/>
<rect x="34" y="337.9" width="176.5" height="1.5" fill="#fff"/>
<rect x="34" y="349.3" width="176.5" height="1.3" fill="#fff"/>
<rect x="34" y="360.7" width="176.5" height="1.3" fill="#fff"/>
<rect x="34" y="371.5" width="176.5" height="1.5" fill="#fff"/>
<text x="33.2" y="325.53" font-size="9.1" text-anchor="end">GLUT1</text>
<text x="33.2" y="336.63" font-size="9.1" text-anchor="end">HK2</text>
<text x="33.2" y="347.83" font-size="9.1" text-anchor="end">LDHa</text>
<text x="33.2" y="359.13" font-size="9.1" text-anchor="end">p-PDH</text>
<text x="33.2" y="370.23" font-size="9.1" text-anchor="end">PDH</text>
<text x="33.2" y="381.23" font-size="9.1" text-anchor="end">β-Actin</text>
<line x1="210.8" y1="321.4" x2="214.4" y2="321.4" stroke="#000" stroke-width="0.9"/>
<text x="215.8" y="323.67" font-size="6.3">55 kDa</text>
<line x1="210.8" y1="329.7" x2="214.4" y2="329.7" stroke="#000" stroke-width="0.9"/>
<text x="215.8" y="331.97" font-size="6.3">130 kDa</text>
<line x1="210.8" y1="346.4" x2="214.4" y2="346.4" stroke="#000" stroke-width="0.9"/>
<text x="215.8" y="348.67" font-size="6.3">34 kDa</text>
<line x1="210.8" y1="353.6" x2="214.4" y2="353.6" stroke="#000" stroke-width="0.9"/>
<text x="215.8" y="355.87" font-size="6.3">43 kDa</text>
<line x1="210.8" y1="363.5" x2="214.4" y2="363.5" stroke="#000" stroke-width="0.9"/>
<text x="215.8" y="365.77" font-size="6.3">43 kDa</text>
<line x1="210.8" y1="376.8" x2="214.4" y2="376.8" stroke="#000" stroke-width="0.9"/>
<text x="215.8" y="379.07" font-size="6.3">43 kDa</text>
<text x="249.3" y="346.52" font-size="7" text-anchor="middle" transform="rotate(-90 249.3 344)">Gene expression</text>
<text x="257.2" y="346.52" font-size="7" text-anchor="middle" transform="rotate(-90 257.2 344)">(normalized to β-Actin)</text>
<rect x="283.4" y="343.24" width="8.6" height="27.16" fill="#0000ff"/>
<rect x="295.2" y="358.57" width="8.6" height="11.83" fill="#ff0000"/>
<rect x="315.7" y="324.34" width="8.4" height="46.06" fill="#0000ff"/>
<rect x="327.5" y="361.28" width="8.4" height="9.12" fill="#ff0000"/>
<line x1="278.9" y1="311.7" x2="278.9" y2="370.9" stroke="#000" stroke-width="1.1"/>
<line x1="278.4" y1="370.4" x2="341.2" y2="370.4" stroke="#000" stroke-width="1.1"/>
<line x1="276.1" y1="370.4" x2="278.9" y2="370.4" stroke="#000" stroke-width="1"/>
<text x="275.3" y="373.03" font-size="7.3" text-anchor="end">0.0</text>
<line x1="276.1" y1="351" x2="278.9" y2="351" stroke="#000" stroke-width="1"/>
<text x="275.3" y="353.63" font-size="7.3" text-anchor="end">0.5</text>
<line x1="276.1" y1="331.6" x2="278.9" y2="331.6" stroke="#000" stroke-width="1"/>
<text x="275.3" y="334.23" font-size="7.3" text-anchor="end">1.0</text>
<line x1="276.1" y1="312.2" x2="278.9" y2="312.2" stroke="#000" stroke-width="1"/>
<text x="275.3" y="314.83" font-size="7.3" text-anchor="end">1.5</text>
<line x1="293.9" y1="370.4" x2="293.9" y2="373" stroke="#000" stroke-width="1"/>
<line x1="324.1" y1="370.4" x2="324.1" y2="373" stroke="#000" stroke-width="1"/>
<text x="294.2" y="382.34" font-size="7.6" text-anchor="middle">21% O<tspan font-size="70%" dy="0.25em">2</tspan></text>
<text x="325.3" y="382.34" font-size="7.6" text-anchor="middle">1% O<tspan font-size="70%" dy="0.25em">2</tspan></text>
<text x="309.6" y="303.94" font-size="9" text-anchor="middle">GLUT1</text>
<rect x="282" y="313.1" width="7.1" height="7.4" fill="#0000ff"/>
<text x="291.8" y="319.05" font-size="6.8">WT</text>
<rect x="282" y="325" width="7.1" height="7.3" fill="#ff0000"/>
<text x="291.8" y="330.98" font-size="6.6" font-style="italic">Hif1α<tspan font-size="70%" dy="-0.4em">-/-</tspan></text>
<rect x="366.9" y="356.74" width="8.4" height="13.66" fill="#0000ff"/>
<rect x="378.5" y="364.31" width="8.6" height="6.09" fill="#ff0000"/>
<rect x="399" y="330.44" width="8.4" height="39.96" fill="#0000ff"/>
<rect x="410.8" y="367.22" width="8.4" height="3.18" fill="#ff0000"/>
<line x1="362.2" y1="311.7" x2="362.2" y2="370.9" stroke="#000" stroke-width="1.1"/>
<line x1="361.7" y1="370.4" x2="423" y2="370.4" stroke="#000" stroke-width="1.1"/>
<line x1="359.4" y1="370.4" x2="362.2" y2="370.4" stroke="#000" stroke-width="1"/>
<text x="358.6" y="373.03" font-size="7.3" text-anchor="end">0.0</text>
<line x1="359.4" y1="351" x2="362.2" y2="351" stroke="#000" stroke-width="1"/>
<text x="358.6" y="353.63" font-size="7.3" text-anchor="end">0.5</text>
<line x1="359.4" y1="331.6" x2="362.2" y2="331.6" stroke="#000" stroke-width="1"/>
<text x="358.6" y="334.23" font-size="7.3" text-anchor="end">1.0</text>
<line x1="359.4" y1="312.2" x2="362.2" y2="312.2" stroke="#000" stroke-width="1"/>
<text x="358.6" y="314.83" font-size="7.3" text-anchor="end">1.5</text>
<line x1="376.1" y1="370.4" x2="376.1" y2="373" stroke="#000" stroke-width="1"/>
<line x1="406.3" y1="370.4" x2="406.3" y2="373" stroke="#000" stroke-width="1"/>
<text x="376.4" y="382.34" font-size="7.6" text-anchor="middle">21% O<tspan font-size="70%" dy="0.25em">2</tspan></text>
<text x="407.5" y="382.34" font-size="7.6" text-anchor="middle">1% O<tspan font-size="70%" dy="0.25em">2</tspan></text>
<text x="393.7" y="303.94" font-size="9" text-anchor="middle">HK2</text>
<rect x="451" y="348.09" width="8.4" height="22.31" fill="#0000ff"/>
<rect x="462.8" y="357.32" width="8.4" height="13.08" fill="#ff0000"/>
<rect x="483.1" y="325.7" width="7.8" height="44.7" fill="#0000ff"/>
<rect x="494.9" y="362.02" width="8.4" height="8.38" fill="#ff0000"/>
<line x1="446.3" y1="311.7" x2="446.3" y2="370.9" stroke="#000" stroke-width="1.1"/>
<line x1="445.8" y1="370.4" x2="507.5" y2="370.4" stroke="#000" stroke-width="1.1"/>
<line x1="443.5" y1="370.4" x2="446.3" y2="370.4" stroke="#000" stroke-width="1"/>
<text x="442.7" y="373.03" font-size="7.3" text-anchor="end">0.0</text>
<line x1="443.5" y1="351" x2="446.3" y2="351" stroke="#000" stroke-width="1"/>
<text x="442.7" y="353.63" font-size="7.3" text-anchor="end">0.5</text>
<line x1="443.5" y1="331.6" x2="446.3" y2="331.6" stroke="#000" stroke-width="1"/>
<text x="442.7" y="334.23" font-size="7.3" text-anchor="end">1.0</text>
<line x1="443.5" y1="312.2" x2="446.3" y2="312.2" stroke="#000" stroke-width="1"/>
<text x="442.7" y="314.83" font-size="7.3" text-anchor="end">1.5</text>
<line x1="460.7" y1="370.4" x2="460.7" y2="373" stroke="#000" stroke-width="1"/>
<line x1="492.3" y1="370.4" x2="492.3" y2="373" stroke="#000" stroke-width="1"/>
<text x="461" y="382.34" font-size="7.6" text-anchor="middle">21% O<tspan font-size="70%" dy="0.25em">2</tspan></text>
<text x="493.5" y="382.34" font-size="7.6" text-anchor="middle">1% O<tspan font-size="70%" dy="0.25em">2</tspan></text>
<text x="477.8" y="303.94" font-size="9" text-anchor="middle">LDHa</text>
<rect x="535.1" y="324.89" width="8.4" height="45.51" fill="#0000ff"/>
<rect x="546.9" y="325.7" width="8.4" height="44.7" fill="#ff0000"/>
<rect x="566.6" y="347.29" width="8.4" height="23.11" fill="#0000ff"/>
<rect x="578.4" y="334.9" width="8.4" height="35.5" fill="#ff0000"/>
<line x1="530.4" y1="311.7" x2="530.4" y2="370.9" stroke="#000" stroke-width="1.1"/>
<line x1="529.9" y1="370.4" x2="591.6" y2="370.4" stroke="#000" stroke-width="1.1"/>
<line x1="527.6" y1="370.4" x2="530.4" y2="370.4" stroke="#000" stroke-width="1"/>
<text x="526.8" y="373.03" font-size="7.3" text-anchor="end">0.0</text>
<line x1="527.6" y1="358.76" x2="530.4" y2="358.76" stroke="#000" stroke-width="1"/>
<text x="526.8" y="361.39" font-size="7.3" text-anchor="end">0.2</text>
<line x1="527.6" y1="347.12" x2="530.4" y2="347.12" stroke="#000" stroke-width="1"/>
<text x="526.8" y="349.75" font-size="7.3" text-anchor="end">0.4</text>
<line x1="527.6" y1="335.48" x2="530.4" y2="335.48" stroke="#000" stroke-width="1"/>
<text x="526.8" y="338.11" font-size="7.3" text-anchor="end">0.6</text>
<line x1="527.6" y1="323.84" x2="530.4" y2="323.84" stroke="#000" stroke-width="1"/>
<text x="526.8" y="326.47" font-size="7.3" text-anchor="end">0.8</text>
<line x1="527.6" y1="312.2" x2="530.4" y2="312.2" stroke="#000" stroke-width="1"/>
<text x="526.8" y="314.83" font-size="7.3" text-anchor="end">1.0</text>
<line x1="546.1" y1="370.4" x2="546.1" y2="373" stroke="#000" stroke-width="1"/>
<line x1="576.3" y1="370.4" x2="576.3" y2="373" stroke="#000" stroke-width="1"/>
<text x="546.4" y="382.34" font-size="7.6" text-anchor="middle">21% O<tspan font-size="70%" dy="0.25em">2</tspan></text>
<text x="577.5" y="382.34" font-size="7.6" text-anchor="middle">1% O<tspan font-size="70%" dy="0.25em">2</tspan></text>
<text x="561.9" y="303.94" font-size="9" text-anchor="middle">p-PDH</text>
<rect x="618.9" y="329.08" width="8.1" height="41.32" fill="#0000ff"/>
<rect x="630.8" y="332.4" width="8.1" height="38" fill="#ff0000"/>
<rect x="650.8" y="330.88" width="8.2" height="39.52" fill="#0000ff"/>
<rect x="662.4" y="321.98" width="8.2" height="48.42" fill="#ff0000"/>
<line x1="614.8" y1="311.7" x2="614.8" y2="370.9" stroke="#000" stroke-width="1.1"/>
<line x1="614.3" y1="370.4" x2="675.3" y2="370.4" stroke="#000" stroke-width="1.1"/>
<line x1="612" y1="370.4" x2="614.8" y2="370.4" stroke="#000" stroke-width="1"/>
<text x="611.2" y="373.03" font-size="7.3" text-anchor="end">0.0</text>
<line x1="612" y1="358.76" x2="614.8" y2="358.76" stroke="#000" stroke-width="1"/>
<text x="611.2" y="361.39" font-size="7.3" text-anchor="end">0.2</text>
<line x1="612" y1="347.12" x2="614.8" y2="347.12" stroke="#000" stroke-width="1"/>
<text x="611.2" y="349.75" font-size="7.3" text-anchor="end">0.4</text>
<line x1="612" y1="335.48" x2="614.8" y2="335.48" stroke="#000" stroke-width="1"/>
<text x="611.2" y="338.11" font-size="7.3" text-anchor="end">0.6</text>
<line x1="612" y1="323.84" x2="614.8" y2="323.84" stroke="#000" stroke-width="1"/>
<text x="611.2" y="326.47" font-size="7.3" text-anchor="end">0.8</text>
<line x1="612" y1="312.2" x2="614.8" y2="312.2" stroke="#000" stroke-width="1"/>
<text x="611.2" y="314.83" font-size="7.3" text-anchor="end">1.0</text>
<line x1="628.2" y1="370.4" x2="628.2" y2="373" stroke="#000" stroke-width="1"/>
<line x1="660.1" y1="370.4" x2="660.1" y2="373" stroke="#000" stroke-width="1"/>
<text x="628.5" y="382.34" font-size="7.6" text-anchor="middle">21% O<tspan font-size="70%" dy="0.25em">2</tspan></text>
<text x="661.3" y="382.34" font-size="7.6" text-anchor="middle">1% O<tspan font-size="70%" dy="0.25em">2</tspan></text>
<text x="644.5" y="303.94" font-size="9" text-anchor="middle">PDH</text>
</g>

<g id="pF">
<text x="6.4" y="417.7" font-size="12.5" text-anchor="middle" font-weight="bold">F</text>
<text x="107.4" y="426.84" font-size="12.6" text-anchor="middle" font-weight="bold">WT</text>
<text x="278.3" y="426.8" font-size="12.6" font-weight="bold">HIF1<tspan font-family="'Liberation Serif', serif" font-weight="normal" font-size="13.5">α</tspan><tspan font-size="8" font-weight="normal" font-style="italic" dy="-4.5">-/-</tspan></text>
<text x="123.7" y="460.77" font-size="7.15" text-anchor="middle" font-weight="bold">Metabolite flux</text>
<text x="123.7" y="469.69" font-size="7.2" text-anchor="middle">(nmol/10<tspan font-size="65%" dy="-0.45em">6</tspan><tspan dy="0.29em">cells/hr)</tspan></text>
<line x1="89" y1="477.8" x2="106.8" y2="477.8" stroke="#333" stroke-width="0.45"/>
<polygon points="108.5,477.8 106.5,478.55 106.5,477.05" fill="#333"/>
<text x="111.8" y="479.91" font-size="5.3" font-weight="bold">2</text>
<line x1="89" y1="488.4" x2="106.4" y2="488.4" stroke="#000" stroke-width="0.8"/>
<polygon points="108.5,488.4 106.1,489.35 106.1,487.45" fill="#000"/>
<text x="111.8" y="490.51" font-size="5.3" font-weight="bold">5</text>
<line x1="89" y1="498.5" x2="105.8" y2="498.5" stroke="#000" stroke-width="1.3"/>
<polygon points="108.5,498.5 105.5,499.8 105.5,497.2" fill="#000"/>
<text x="111.8" y="500.61" font-size="5.3" font-weight="bold">20</text>
<line x1="128.9" y1="477.8" x2="143.4" y2="477.8" stroke="#000" stroke-width="2.1"/>
<polygon points="148.1,477.8 143.1,480.4 143.1,475.2" fill="#000"/>
<text x="151.2" y="479.91" font-size="5.3" font-weight="bold">50</text>
<line x1="128.9" y1="488.4" x2="141.3" y2="488.4" stroke="#000" stroke-width="4"/>
<polygon points="148.3,488.4 141,492.5 141,484.3" fill="#000"/>
<text x="151.2" y="490.51" font-size="5.3" font-weight="bold">100</text>
<line x1="128.9" y1="498.5" x2="139.8" y2="498.5" stroke="#000" stroke-width="5.7"/>
<polygon points="148.5,498.5 139.5,503.9 139.5,493.1" fill="#000"/>
<text x="151.2" y="500.61" font-size="5.3" font-weight="bold">200</text>
<g>
<text x="32.9" y="418.03" font-size="7.3" text-anchor="middle" font-weight="bold">Glucose</text>
<text x="32.9" y="445.43" font-size="7.3" text-anchor="middle" font-weight="bold">G6P</text>
<text x="32.4" y="468.23" font-size="7.3" text-anchor="middle" font-weight="bold">F6P</text>
<line x1="32.9" y1="422.4" x2="32.9" y2="431.2" stroke="#000" stroke-width="3.6"/>
<polygon points="32.9,437.7 28.65,430.9 37.15,430.9" fill="#000"/>
<line x1="32.9" y1="447.5" x2="32.9" y2="454.76" stroke="#000" stroke-width="3.6"/>
<polygon points="32.9,459.9 28.95,454.46 36.85,454.46" fill="#000"/>
<text x="15" y="430" font-size="5.6" font-weight="bold" fill="#000">84<tspan font-size="3.2" font-weight="normal" fill="#888">±3</tspan></text>
<text x="15" y="453.6" font-size="5.6" font-weight="bold" fill="#000">83<tspan font-size="3.2" font-weight="normal" fill="#888">±3</tspan></text>
<line x1="32.6" y1="470.6" x2="32.6" y2="477.4" stroke="#000" stroke-width="3.65"/>
<line x1="14.65" y1="477.4" x2="50.75" y2="477.4" stroke="#000" stroke-width="4.3"/>
<line x1="16.8" y1="477.4" x2="16.8" y2="480.8" stroke="#000" stroke-width="4.3"/>
<polygon points="16.8,488.7 12.5,480.5 21.1,480.5" fill="#000"/>
<line x1="48.6" y1="477.4" x2="48.6" y2="480.8" stroke="#000" stroke-width="4.3"/>
<polygon points="48.6,488.7 44.3,480.5 52.9,480.5" fill="#000"/>
<text x="26.9" y="487.6" font-size="5.6" font-weight="bold" fill="#000">82<tspan font-size="3.2" font-weight="normal" fill="#888">±3</tspan></text>
<text x="13.6" y="497.03" font-size="7.3" text-anchor="middle" font-weight="bold">DHAP</text>
<text x="50.3" y="497.03" font-size="7.3" text-anchor="middle" font-weight="bold">GAP</text>
<line x1="25.9" y1="493.6" x2="32.9" y2="493.6" stroke="#000" stroke-width="4"/>
<polygon points="39.9,493.6 32.6,497.7 32.6,489.5" fill="#000"/>
<line x1="49.4" y1="498" x2="49.4" y2="505.8" stroke="#000" stroke-width="5.7"/>
<polygon points="49.4,514.4 44.25,505.5 54.55,505.5" fill="#000"/>
<text x="55" y="504.7" font-size="5.6" font-weight="bold" fill="#000">165<tspan font-size="3.2" font-weight="normal" fill="#888">±6</tspan></text>
<text x="18.8" y="522.43" font-size="7.3" text-anchor="middle" font-weight="bold">OAC</text>
<text x="50.5" y="522.43" font-size="7.3" text-anchor="middle" font-weight="bold">PEP</text>
<line x1="29" y1="519.8" x2="40.8" y2="519.8" stroke="#999" stroke-width="0.45"/>
<polygon points="42.7,519.8 40.5,520.7 40.5,518.9" fill="#999"/>
<text x="30.5" y="516.8" font-size="5.6" font-weight="bold" fill="#000">0<tspan font-size="3.2" font-weight="normal" fill="#888">±1</tspan></text>
<line x1="49.4" y1="524.2" x2="49.4" y2="532.7" stroke="#000" stroke-width="5.7"/>
<polygon points="49.4,541.3 44.25,532.4 54.55,532.4" fill="#000"/>
<line x1="20.9" y1="525" x2="20.9" y2="537.8" stroke="#444" stroke-width="0.6"/>
<polygon points="20.9,539.7 20,537.5 21.8,537.5" fill="#444"/>
<text x="10.1" y="534.6" font-size="5.6" font-weight="bold" fill="#000">4<tspan font-size="3.2" font-weight="normal" fill="#888">±1</tspan></text>
<text x="21" y="549.23" font-size="7.3" text-anchor="middle" font-weight="bold">Mal</text>
<text x="49.6" y="549.23" font-size="7.3" text-anchor="middle" font-weight="bold">Pyr</text>
<line x1="29.4" y1="546.2" x2="40.1" y2="546.2" stroke="#333" stroke-width="0.8"/>
<polygon points="42,546.2 39.8,547.24 39.8,545.16" fill="#333"/>
<text x="31.3" y="542.7" font-size="5.6" font-weight="bold" fill="#000">4<tspan font-size="3.2" font-weight="normal" fill="#888">±1</tspan></text>
<line x1="88" y1="523.4" x2="58.02" y2="538.69" stroke="#000" stroke-width="1"/>
<polygon points="58.2,538.6 58.27,538.52 58.31,538.59" fill="#000"/>
<text x="71.2" y="524.9" font-size="5.6" font-weight="bold" fill="#000">6<tspan font-size="3.2" font-weight="normal" fill="#888">±1</tspan></text>
<text x="92.9" y="526.03" font-size="7.3" font-weight="bold">Pyruvate</text>
<text x="92.9" y="549.13" font-size="7.3" font-weight="bold">Lactate</text>
<line x1="58.3" y1="546.3" x2="77.7" y2="546.3" stroke="#000" stroke-width="4.6"/>
<polygon points="88,546.3 77.4,551.2 77.4,541.4" fill="#000"/>
<text x="69.3" y="539.9" font-size="5.6" font-weight="bold" fill="#000">171<tspan font-size="3.2" font-weight="normal" fill="#888">±6</tspan></text>
<rect x="1.7" y="557.1" width="107.6" height="110.3" rx="10" fill="none" stroke="#a8a8a8" stroke-width="1.7"/>
<line x1="48.9" y1="551.6" x2="48.9" y2="576.96" stroke="#444" stroke-width="0.9"/>
<polygon points="48.9,579 47.73,576.66 50.07,576.66" fill="#444"/>
<text x="53.5" y="567.2" font-size="5.6" font-weight="bold" fill="#000">3<tspan font-size="3.2" font-weight="normal" fill="#888">±1</tspan></text>
<line x1="20.4" y1="550.6" x2="20.4" y2="615" stroke="#333" stroke-width="0.6"/>
<text x="10.1" y="569" font-size="5.6" font-weight="bold" fill="#000">0<tspan font-size="3.2" font-weight="normal" fill="#888">±2</tspan></text>
<text x="84.4" y="567.23" font-size="7.3" text-anchor="middle" font-weight="bold">Other</text>
<line x1="85.1" y1="570.6" x2="85.1" y2="577.1" stroke="#777" stroke-width="0.5"/>
<polygon points="85.1,578.8 84.35,576.8 85.85,576.8" fill="#777"/>
<text x="90.3" y="575.8" font-size="5.6" font-weight="bold" fill="#000">1<tspan font-size="3.2" font-weight="normal" fill="#888">±1</tspan></text>
<text x="29" y="580.4" font-size="5.6" font-weight="bold" fill="#000">0<tspan font-size="3.2" font-weight="normal" fill="#888">±0</tspan></text>
<path d="M25.3 614.9V588Q25.3 584.6 28.7 584.6H38" fill="none" stroke="#999" stroke-width="0.5"/>
<polygon points="40,584.6 37.6,583.6 37.6,585.6" fill="#999"/>
<text x="47.7" y="587.23" font-size="7.3" text-anchor="middle" font-weight="bold">Pyr</text>
<text x="88.8" y="587.23" font-size="7.3" text-anchor="middle" font-weight="bold">AcCoA</text>
<line x1="56.2" y1="584.3" x2="73.26" y2="584.3" stroke="#333" stroke-width="0.9"/>
<polygon points="75.3,584.3 72.96,585.47 72.96,583.13" fill="#333"/>
<text x="60" y="579.9" font-size="5.6" font-weight="bold" fill="#000">3<tspan font-size="3.2" font-weight="normal" fill="#888">±1</tspan></text>
<line x1="49.4" y1="589.6" x2="49.4" y2="601.3" stroke="#555" stroke-width="0.5"/>
<polygon points="49.4,603 48.65,601 50.15,601" fill="#555"/>
<text x="53.8" y="598.2" font-size="5.6" font-weight="bold" fill="#000">1<tspan font-size="3.2" font-weight="normal" fill="#888">±1</tspan></text>
<line x1="85.1" y1="591.6" x2="66.2" y2="609.9" stroke="#000" stroke-width="1.25"/>
<line x1="64.6" y1="607.3" x2="66.9" y2="611.4" stroke="#000" stroke-width="1.25"/>
<text x="73.3" y="611.1" font-size="5.6" font-weight="bold" fill="#000">4<tspan font-size="3.2" font-weight="normal" fill="#888">±1</tspan></text>
<text x="50" y="611.03" font-size="7.3" text-anchor="middle" font-weight="bold">OAC</text>
<text x="75" y="625.73" font-size="7.3" text-anchor="middle" font-weight="bold">Cit</text>
<text x="73.6" y="648.23" font-size="7.3" text-anchor="middle" font-weight="bold">AKG</text>
<text x="50.9" y="661.93" font-size="7.3" text-anchor="middle" font-weight="bold">Suc</text>
<text x="26" y="648.23" font-size="7.3" text-anchor="middle" font-weight="bold">Fum</text>
<text x="25.4" y="624.93" font-size="7.3" text-anchor="middle" font-weight="bold">Mal</text>
<path d="M60.3 608.2Q67 610.5 71.6 617" fill="none" stroke="#000" stroke-width="1.1" stroke-linecap="butt"/>
<path d="M75.5 628Q76 635 74.2 641" fill="none" stroke="#000" stroke-width="1.1" stroke-linecap="butt"/>
<path d="M67.6 650Q63 654.5 57.9 656.3" fill="none" stroke="#000" stroke-width="1.1" stroke-linecap="butt"/>
<path d="M43.2 656.5Q36 655 31.3 650.3" fill="none" stroke="#000" stroke-width="1.1" stroke-linecap="butt"/>
<path d="M24.8 640.2Q23.2 633 24.5 626.8" fill="none" stroke="#000" stroke-width="1.1" stroke-linecap="butt"/>
<path d="M29.3 614.9Q34 610 39.1 608.2" fill="none" stroke="#000" stroke-width="1.1" stroke-linecap="butt"/>
<text x="37.2" y="620.1" font-size="5.6" font-weight="bold" fill="#000">3<tspan font-size="3.2" font-weight="normal" fill="#888">±1</tspan></text>
<text x="79.2" y="636.4" font-size="5.6" font-weight="bold" fill="#000">3<tspan font-size="3.2" font-weight="normal" fill="#888">±1</tspan></text>
<text x="66.2" y="660" font-size="5.6" font-weight="bold" fill="#000">3<tspan font-size="3.2" font-weight="normal" fill="#888">±1</tspan></text>
<text x="26.9" y="660" font-size="5.6" font-weight="bold" fill="#000">3<tspan font-size="3.2" font-weight="normal" fill="#888">±1</tspan></text>
<text x="13" y="635.6" font-size="5.6" font-weight="bold" fill="#000">3<tspan font-size="3.2" font-weight="normal" fill="#888">±1</tspan></text>
<text x="132" y="568.43" font-size="7.3" text-anchor="middle" font-weight="bold">Fatty acids</text>
<text x="125.5" y="593.13" font-size="7.3" text-anchor="middle" font-weight="bold">AcCoA</text>
<text x="145" y="605.83" font-size="7.3" text-anchor="middle" font-weight="bold">OAC</text>
<text x="124.9" y="625.63" font-size="7.3" text-anchor="middle" font-weight="bold">Cit</text>
<text x="126.1" y="647.73" font-size="7.3" text-anchor="middle" font-weight="bold">AKG</text>
<text x="160.6" y="647.73" font-size="7.3" text-anchor="middle" font-weight="bold">Gln</text>
<text x="125.5" y="668.43" font-size="7.3" text-anchor="middle" font-weight="bold">Glu</text>
<line x1="124.7" y1="583.3" x2="124.7" y2="574.5" stroke="#000" stroke-width="1.1"/>
<polygon points="124.7,572.6 125.6,574.8 123.8,574.8" fill="#000"/>
<text x="130.4" y="580.3" font-size="5.6" font-weight="bold" fill="#000">5<tspan font-size="3.2" font-weight="normal" fill="#888">±1</tspan></text>
<line x1="124.7" y1="616.8" x2="124.7" y2="598.1" stroke="#000" stroke-width="1.1"/>
<polygon points="124.7,596.2 125.6,598.4 123.8,598.4" fill="#000"/>
<path d="M124.7 612Q126 603 134.2 602" fill="none" stroke="#000" stroke-width="1.1"/>
<text x="131" y="614.2" font-size="5.6" font-weight="bold" fill="#000">5<tspan font-size="3.2" font-weight="normal" fill="#888">±1</tspan></text>
<line x1="124.7" y1="639" x2="124.7" y2="630.7" stroke="#000" stroke-width="1.1"/>
<polygon points="124.7,628.8 125.6,631 123.8,631" fill="#000"/>
<text x="129.9" y="636.1" font-size="5.6" font-weight="bold" fill="#000">5<tspan font-size="3.2" font-weight="normal" fill="#888">±1</tspan></text>
<text x="142" y="639.3" font-size="5.6" font-weight="bold" fill="#000">7<tspan font-size="3.2" font-weight="normal" fill="#888">±1</tspan></text>
<line x1="151.8" y1="644.3" x2="141.3" y2="644.3" stroke="#000" stroke-width="1"/>
<polygon points="138.6,644.3 141.6,643.02 141.6,645.57" fill="#000"/>
<line x1="124.7" y1="650.2" x2="124.7" y2="658.7" stroke="#666" stroke-width="0.5"/>
<polygon points="124.7,660.4 123.95,658.4 125.45,658.4" fill="#666"/>
<text x="129.6" y="658.1" font-size="5.6" font-weight="bold" fill="#000">2<tspan font-size="3.2" font-weight="normal" fill="#888">±1</tspan></text>
<line x1="83.2" y1="623.3" x2="118" y2="623.3" stroke="#222" stroke-width="0.55"/>
<text x="96.2" y="621" font-size="5.6" font-weight="bold" fill="#000">1<tspan font-size="3.2" font-weight="normal" fill="#888">±1</tspan></text>
<line x1="83.2" y1="645.3" x2="114.6" y2="645.3" stroke="#222" stroke-width="0.55"/>
<text x="97.6" y="652.3" font-size="5.6" font-weight="bold" fill="#000">0<tspan font-size="3.2" font-weight="normal" fill="#888">±1</tspan></text>
</g>
<g>
<text x="224.9" y="418.03" font-size="7.3" text-anchor="middle" font-weight="bold">Glucose</text>
<text x="224.9" y="445.43" font-size="7.3" text-anchor="middle" font-weight="bold">G6P</text>
<text x="224.4" y="468.23" font-size="7.3" text-anchor="middle" font-weight="bold">F6P</text>
<line x1="224.9" y1="422.4" x2="224.9" y2="432.8" stroke="#000" stroke-width="2.2"/>
<polygon points="224.9,437.7 222.3,432.5 227.5,432.5" fill="#000"/>
<line x1="224.9" y1="447.5" x2="224.9" y2="456.04" stroke="#000" stroke-width="2.2"/>
<polygon points="224.9,459.9 222.48,455.74 227.32,455.74" fill="#000"/>
<text x="207" y="430" font-size="5.6" font-weight="bold" fill="#000">48<tspan font-size="3.2" font-weight="normal" fill="#888">±2</tspan></text>
<text x="207" y="453.6" font-size="5.6" font-weight="bold" fill="#000">48<tspan font-size="3.2" font-weight="normal" fill="#888">±2</tspan></text>
<line x1="224.6" y1="470.6" x2="224.6" y2="477.4" stroke="#000" stroke-width="2"/>
<line x1="207.8" y1="477.4" x2="241.6" y2="477.4" stroke="#000" stroke-width="2"/>
<line x1="208.8" y1="477.4" x2="208.8" y2="484.4" stroke="#000" stroke-width="2"/>
<polygon points="208.8,488.7 206.3,484.1 211.3,484.1" fill="#000"/>
<line x1="240.6" y1="477.4" x2="240.6" y2="484.4" stroke="#000" stroke-width="2"/>
<polygon points="240.6,488.7 238.1,484.1 243.1,484.1" fill="#000"/>
<text x="218.9" y="487.6" font-size="5.6" font-weight="bold" fill="#000">47<tspan font-size="3.2" font-weight="normal" fill="#888">±2</tspan></text>
<text x="205.6" y="497.03" font-size="7.3" text-anchor="middle" font-weight="bold">DHAP</text>
<text x="242.3" y="497.03" font-size="7.3" text-anchor="middle" font-weight="bold">GAP</text>
<line x1="217.9" y1="493.6" x2="227.6" y2="493.6" stroke="#000" stroke-width="2"/>
<polygon points="231.9,493.6 227.3,496.1 227.3,491.1" fill="#000"/>
<line x1="241.4" y1="498" x2="241.4" y2="506.7" stroke="#000" stroke-width="3.6"/>
<polygon points="241.4,514.4 237.75,506.4 245.05,506.4" fill="#000"/>
<text x="247" y="504.7" font-size="5.6" font-weight="bold" fill="#000">95<tspan font-size="3.2" font-weight="normal" fill="#888">±4</tspan></text>
<text x="210.8" y="522.43" font-size="7.3" text-anchor="middle" font-weight="bold">OAC</text>
<text x="242.5" y="522.43" font-size="7.3" text-anchor="middle" font-weight="bold">PEP</text>
<line x1="221" y1="519.8" x2="231.88" y2="519.8" stroke="#000" stroke-width="1.2"/>
<polygon points="234.7,519.8 231.58,521.36 231.58,518.24" fill="#000"/>
<text x="222.5" y="516.8" font-size="5.6" font-weight="bold" fill="#000">12<tspan font-size="3.2" font-weight="normal" fill="#888">±1</tspan></text>
<line x1="241.4" y1="524.2" x2="241.4" y2="533.6" stroke="#000" stroke-width="3.6"/>
<polygon points="241.4,541.3 237.75,533.3 245.05,533.3" fill="#000"/>
<line x1="212.9" y1="539.7" x2="212.9" y2="527.6" stroke="#000" stroke-width="1"/>
<polygon points="212.9,525.3 214.2,527.9 211.6,527.9" fill="#000"/>
<text x="202.1" y="534.6" font-size="5.6" font-weight="bold" fill="#000">9<tspan font-size="3.2" font-weight="normal" fill="#888">±3</tspan></text>
<text x="213" y="549.23" font-size="7.3" text-anchor="middle" font-weight="bold">Mal</text>
<text x="241.6" y="549.23" font-size="7.3" text-anchor="middle" font-weight="bold">Pyr</text>
<line x1="221.4" y1="546.2" x2="232.1" y2="546.2" stroke="#999" stroke-width="0.45"/>
<polygon points="234,546.2 231.8,547.1 231.8,545.3" fill="#999"/>
<text x="223.3" y="542.7" font-size="5.6" font-weight="bold" fill="#000">0<tspan font-size="3.2" font-weight="normal" fill="#888">±0</tspan></text>
<line x1="280" y1="523.4" x2="252.78" y2="537.28" stroke="#000" stroke-width="1.1"/>
<polygon points="250.2,538.6 252.47,536.01 253.63,538.29" fill="#000"/>
<text x="263.2" y="524.9" font-size="5.6" font-weight="bold" fill="#000">10<tspan font-size="3.2" font-weight="normal" fill="#888">±1</tspan></text>
<text x="284.9" y="526.03" font-size="7.3" font-weight="bold">Pyruvate</text>
<text x="284.9" y="549.13" font-size="7.3" font-weight="bold">Lactate</text>
<line x1="250.3" y1="546.3" x2="271.7" y2="546.3" stroke="#000" stroke-width="3.3"/>
<polygon points="280,546.3 271.4,549.95 271.4,542.65" fill="#000"/>
<text x="261.3" y="539.9" font-size="5.6" font-weight="bold" fill="#000">109<tspan font-size="3.2" font-weight="normal" fill="#888">±5</tspan></text>
<rect x="193.7" y="557.1" width="107.6" height="110.3" rx="10" fill="none" stroke="#a8a8a8" stroke-width="1.7"/>
<line x1="240.9" y1="551.6" x2="240.9" y2="576.18" stroke="#000" stroke-width="1.2"/>
<polygon points="240.9,579 239.34,575.88 242.46,575.88" fill="#000"/>
<text x="245.5" y="567.2" font-size="5.6" font-weight="bold" fill="#000">7<tspan font-size="3.2" font-weight="normal" fill="#888">±2</tspan></text>
<line x1="212.4" y1="615" x2="212.4" y2="554.02" stroke="#000" stroke-width="1.2"/>
<polygon points="212.4,551.2 213.96,554.32 210.84,554.32" fill="#000"/>
<text x="202.1" y="569" font-size="5.6" font-weight="bold" fill="#000">9<tspan font-size="3.2" font-weight="normal" fill="#888">±3</tspan></text>
<text x="276.4" y="567.23" font-size="7.3" text-anchor="middle" font-weight="bold">Other</text>
<line x1="277.1" y1="570.6" x2="277.1" y2="577.1" stroke="#777" stroke-width="0.5"/>
<polygon points="277.1,578.8 276.35,576.8 277.85,576.8" fill="#777"/>
<text x="282.3" y="575.8" font-size="5.6" font-weight="bold" fill="#000">2<tspan font-size="3.2" font-weight="normal" fill="#888">±1</tspan></text>
<text x="221" y="580.4" font-size="5.6" font-weight="bold" fill="#000">0<tspan font-size="3.2" font-weight="normal" fill="#888">±0</tspan></text>
<path d="M217.3 614.9V588Q217.3 584.6 220.7 584.6H230" fill="none" stroke="#999" stroke-width="0.5"/>
<polygon points="232,584.6 229.6,583.6 229.6,585.6" fill="#999"/>
<text x="239.7" y="587.23" font-size="7.3" text-anchor="middle" font-weight="bold">Pyr</text>
<text x="280.8" y="587.23" font-size="7.3" text-anchor="middle" font-weight="bold">AcCoA</text>
<line x1="248.2" y1="584.3" x2="264.74" y2="584.3" stroke="#000" stroke-width="1.1"/>
<polygon points="267.3,584.3 264.44,585.73 264.44,582.87" fill="#000"/>
<text x="252" y="579.9" font-size="5.6" font-weight="bold" fill="#000">6<tspan font-size="3.2" font-weight="normal" fill="#888">±2</tspan></text>
<line x1="241.4" y1="589.6" x2="241.4" y2="601.3" stroke="#555" stroke-width="0.5"/>
<polygon points="241.4,603 240.65,601 242.15,601" fill="#555"/>
<text x="245.8" y="598.2" font-size="5.6" font-weight="bold" fill="#000">1<tspan font-size="3.2" font-weight="normal" fill="#888">±1</tspan></text>
<line x1="277.1" y1="591.6" x2="258.2" y2="609.9" stroke="#000" stroke-width="1.3"/>
<line x1="256.6" y1="607.3" x2="258.9" y2="611.4" stroke="#000" stroke-width="1.3"/>
<text x="265.3" y="611.1" font-size="5.6" font-weight="bold" fill="#000">8<tspan font-size="3.2" font-weight="normal" fill="#888">±2</tspan></text>
<text x="242" y="611.03" font-size="7.3" text-anchor="middle" font-weight="bold">OAC</text>
<text x="267" y="625.73" font-size="7.3" text-anchor="middle" font-weight="bold">Cit</text>
<text x="265.6" y="648.23" font-size="7.3" text-anchor="middle" font-weight="bold">AKG</text>
<text x="242.9" y="661.93" font-size="7.3" text-anchor="middle" font-weight="bold">Suc</text>
<text x="218" y="648.23" font-size="7.3" text-anchor="middle" font-weight="bold">Fum</text>
<text x="217.4" y="624.93" font-size="7.3" text-anchor="middle" font-weight="bold">Mal</text>
<path d="M252.3 608.2Q259 610.5 263.6 617" fill="none" stroke="#000" stroke-width="1.5" stroke-linecap="butt"/>
<path d="M267.5 628Q268 635 266.2 641" fill="none" stroke="#000" stroke-width="1.4" stroke-linecap="butt"/>
<path d="M259.6 650Q255 654.5 249.9 656.3" fill="none" stroke="#000" stroke-width="2" stroke-linecap="butt"/>
<path d="M235.2 656.5Q228 655 223.3 650.3" fill="none" stroke="#000" stroke-width="2" stroke-linecap="butt"/>
<path d="M216.8 640.2Q215.2 633 216.5 626.8" fill="none" stroke="#000" stroke-width="2" stroke-linecap="butt"/>
<path d="M221.3 614.9Q226 610 231.1 608.2" fill="none" stroke="#000" stroke-width="1.5" stroke-linecap="butt"/>
<polygon points="0,0 -4.16,-1.92 -4.16,1.92" fill="#000" transform="translate(264.6 618.3) rotate(52)"/>
<polygon points="0,0 -4.16,-1.92 -4.16,1.92" fill="#000" transform="translate(265.9 642.4) rotate(100)"/>
<polygon points="0,0 -5.2,-2.4 -5.2,2.4" fill="#000" transform="translate(248.4 656.8) rotate(165)"/>
<polygon points="0,0 -5.2,-2.4 -5.2,2.4" fill="#000" transform="translate(222.2 649.2) rotate(215)"/>
<polygon points="0,0 -5.2,-2.4 -5.2,2.4" fill="#000" transform="translate(216.8 625) rotate(275)"/>
<polygon points="0,0 -3.9,-1.8 -3.9,1.8" fill="#000" transform="translate(232.6 607.9) rotate(-12)"/>
<text x="229.2" y="620.1" font-size="5.6" font-weight="bold" fill="#000">7<tspan font-size="3.2" font-weight="normal" fill="#888">±2</tspan></text>
<text x="271.2" y="636.4" font-size="5.6" font-weight="bold" fill="#000">8<tspan font-size="3.2" font-weight="normal" fill="#888">±2</tspan></text>
<text x="256.5" y="660" font-size="5.6" font-weight="bold" fill="#000">16<tspan font-size="3.2" font-weight="normal" fill="#888">±4</tspan></text>
<text x="215.7" y="660" font-size="5.6" font-weight="bold" fill="#000">16<tspan font-size="3.2" font-weight="normal" fill="#888">±4</tspan></text>
<text x="202.2" y="635.6" font-size="5.6" font-weight="bold" fill="#000">16<tspan font-size="3.2" font-weight="normal" fill="#888">±4</tspan></text>
<text x="324" y="568.43" font-size="7.3" text-anchor="middle" font-weight="bold">Fatty acids</text>
<text x="317.5" y="593.13" font-size="7.3" text-anchor="middle" font-weight="bold">AcCoA</text>
<text x="337" y="605.83" font-size="7.3" text-anchor="middle" font-weight="bold">OAC</text>
<text x="316.9" y="625.63" font-size="7.3" text-anchor="middle" font-weight="bold">Cit</text>
<text x="318.1" y="647.73" font-size="7.3" text-anchor="middle" font-weight="bold">AKG</text>
<text x="352.6" y="647.73" font-size="7.3" text-anchor="middle" font-weight="bold">Gln</text>
<text x="317.5" y="668.43" font-size="7.3" text-anchor="middle" font-weight="bold">Glu</text>
<line x1="316.7" y1="583.3" x2="316.7" y2="574.5" stroke="#000" stroke-width="0.7"/>
<polygon points="316.7,572.6 317.6,574.8 315.8,574.8" fill="#000"/>
<text x="322.4" y="580.3" font-size="5.6" font-weight="bold" fill="#000">4<tspan font-size="3.2" font-weight="normal" fill="#888">±2</tspan></text>
<line x1="316.7" y1="616.8" x2="316.7" y2="598.1" stroke="#000" stroke-width="0.7"/>
<polygon points="316.7,596.2 317.6,598.4 315.8,598.4" fill="#000"/>
<path d="M316.7 612Q318 603 326.2 602" fill="none" stroke="#000" stroke-width="0.9"/>
<text x="323" y="614.2" font-size="5.6" font-weight="bold" fill="#000">4<tspan font-size="3.2" font-weight="normal" fill="#888">±2</tspan></text>
<line x1="316.7" y1="639" x2="316.7" y2="630.7" stroke="#000" stroke-width="0.7"/>
<polygon points="316.7,628.8 317.6,631 315.8,631" fill="#000"/>
<text x="321.9" y="636.1" font-size="5.6" font-weight="bold" fill="#000">4<tspan font-size="3.2" font-weight="normal" fill="#888">±2</tspan></text>
<text x="334" y="639.3" font-size="5.6" font-weight="bold" fill="#000">14<tspan font-size="3.2" font-weight="normal" fill="#888">±1</tspan></text>
<line x1="343.8" y1="644.3" x2="334.5" y2="644.3" stroke="#000" stroke-width="1.7"/>
<polygon points="330.6,644.3 334.8,642.51 334.8,646.08" fill="#000"/>
<line x1="316.7" y1="650.2" x2="316.7" y2="658.7" stroke="#666" stroke-width="0.5"/>
<polygon points="316.7,660.4 315.95,658.4 317.45,658.4" fill="#666"/>
<text x="321.6" y="658.1" font-size="5.6" font-weight="bold" fill="#000">2<tspan font-size="3.2" font-weight="normal" fill="#888">±1</tspan></text>
<line x1="275.2" y1="623.3" x2="310" y2="623.3" stroke="#222" stroke-width="0.55"/>
<text x="288.2" y="621" font-size="5.6" font-weight="bold" fill="#000">0<tspan font-size="3.2" font-weight="normal" fill="#888">±1</tspan></text>
<line x1="307" y1="645.3" x2="278.6" y2="645.3" stroke="#000" stroke-width="1.3"/>
<polygon points="275.5,645.3 278.9,643.8 278.9,646.8" fill="#000"/>
<text x="289.6" y="652.3" font-size="5.6" font-weight="bold" fill="#000">8<tspan font-size="3.2" font-weight="normal" fill="#888">±2</tspan></text>
</g>
</g>

<g id="pG">
<text x="381.3" y="419.4" font-size="12.5" text-anchor="middle" font-weight="bold">G</text>
<line x1="400.2" y1="425.7" x2="400.2" y2="494.9" stroke="#000" stroke-width="0.9"/>
<line x1="399.8" y1="494.5" x2="503.8" y2="494.5" stroke="#000" stroke-width="0.9"/>
<line x1="398.2" y1="494.5" x2="400.2" y2="494.5" stroke="#000" stroke-width="0.8"/>
<text x="397.6" y="496.52" font-size="5.6" text-anchor="end">0</text>
<line x1="398.2" y1="471.6" x2="400.2" y2="471.6" stroke="#000" stroke-width="0.8"/>
<text x="397.6" y="473.62" font-size="5.6" text-anchor="end">50</text>
<line x1="398.2" y1="448.9" x2="400.2" y2="448.9" stroke="#000" stroke-width="0.8"/>
<text x="397.6" y="450.92" font-size="5.6" text-anchor="end">100</text>
<line x1="398.2" y1="426" x2="400.2" y2="426" stroke="#000" stroke-width="0.8"/>
<text x="397.6" y="428.02" font-size="5.6" text-anchor="end">150</text>
<line x1="400.2" y1="494.5" x2="400.2" y2="496.5" stroke="#000" stroke-width="0.8"/>
<text x="400.2" y="502.92" font-size="5.6" text-anchor="middle">0</text>
<line x1="434.6" y1="494.5" x2="434.6" y2="496.5" stroke="#000" stroke-width="0.8"/>
<text x="434.6" y="502.92" font-size="5.6" text-anchor="middle">20</text>
<line x1="468.9" y1="494.5" x2="468.9" y2="496.5" stroke="#000" stroke-width="0.8"/>
<text x="468.9" y="502.92" font-size="5.6" text-anchor="middle">40</text>
<line x1="503.4" y1="494.5" x2="503.4" y2="496.5" stroke="#000" stroke-width="0.8"/>
<text x="503.4" y="502.92" font-size="5.6" text-anchor="middle">60</text>
<text x="452.1" y="511.61" font-size="6.7" text-anchor="middle">Time (minutes)</text>
<text x="384.4" y="462.41" font-size="6.7" text-anchor="middle" transform="rotate(-90 384.4 460)">ECAR (mpH/min)</text>
<path d="M401.9 444.7 L410 449.4 L418.7 450.1 L426.9 441.2 L435.3 435.8 L443.4 437 L452.1 435.4 L460.3 433.7 L468.4 434.2 L477.1 434.2 L485.3 434.2 L493.7 434.7" fill="none" stroke="#111" stroke-width="0.9"/>
<line x1="401.9" y1="442.5" x2="401.9" y2="446.9" stroke="#111" stroke-width="0.6"/>
<line x1="400.3" y1="442.5" x2="403.5" y2="442.5" stroke="#111" stroke-width="0.6"/>
<line x1="400.3" y1="446.9" x2="403.5" y2="446.9" stroke="#111" stroke-width="0.6"/>
<polygon points="401.9,447.1 399.5,442.78 404.3,442.78" fill="#111"/>
<line x1="410" y1="448.4" x2="410" y2="450.4" stroke="#111" stroke-width="0.6"/>
<line x1="408.4" y1="448.4" x2="411.6" y2="448.4" stroke="#111" stroke-width="0.6"/>
<line x1="408.4" y1="450.4" x2="411.6" y2="450.4" stroke="#111" stroke-width="0.6"/>
<polygon points="410,451.8 407.6,447.48 412.4,447.48" fill="#111"/>
<line x1="418.7" y1="447.5" x2="418.7" y2="452.7" stroke="#111" stroke-width="0.6"/>
<line x1="417.1" y1="447.5" x2="420.3" y2="447.5" stroke="#111" stroke-width="0.6"/>
<line x1="417.1" y1="452.7" x2="420.3" y2="452.7" stroke="#111" stroke-width="0.6"/>
<polygon points="418.7,452.5 416.3,448.18 421.1,448.18" fill="#111"/>
<line x1="426.9" y1="438.6" x2="426.9" y2="443.8" stroke="#111" stroke-width="0.6"/>
<line x1="425.3" y1="438.6" x2="428.5" y2="438.6" stroke="#111" stroke-width="0.6"/>
<line x1="425.3" y1="443.8" x2="428.5" y2="443.8" stroke="#111" stroke-width="0.6"/>
<polygon points="426.9,443.6 424.5,439.28 429.3,439.28" fill="#111"/>
<line x1="435.3" y1="433.4" x2="435.3" y2="438.2" stroke="#111" stroke-width="0.6"/>
<line x1="433.7" y1="433.4" x2="436.9" y2="433.4" stroke="#111" stroke-width="0.6"/>
<line x1="433.7" y1="438.2" x2="436.9" y2="438.2" stroke="#111" stroke-width="0.6"/>
<polygon points="435.3,438.2 432.9,433.88 437.7,433.88" fill="#111"/>
<line x1="443.4" y1="434.2" x2="443.4" y2="439.8" stroke="#111" stroke-width="0.6"/>
<line x1="441.8" y1="434.2" x2="445" y2="434.2" stroke="#111" stroke-width="0.6"/>
<line x1="441.8" y1="439.8" x2="445" y2="439.8" stroke="#111" stroke-width="0.6"/>
<polygon points="443.4,439.4 441,435.08 445.8,435.08" fill="#111"/>
<line x1="452.1" y1="432.4" x2="452.1" y2="438.4" stroke="#111" stroke-width="0.6"/>
<line x1="450.5" y1="432.4" x2="453.7" y2="432.4" stroke="#111" stroke-width="0.6"/>
<line x1="450.5" y1="438.4" x2="453.7" y2="438.4" stroke="#111" stroke-width="0.6"/>
<polygon points="452.1,437.8 449.7,433.48 454.5,433.48" fill="#111"/>
<line x1="460.3" y1="430.7" x2="460.3" y2="436.7" stroke="#111" stroke-width="0.6"/>
<line x1="458.7" y1="430.7" x2="461.9" y2="430.7" stroke="#111" stroke-width="0.6"/>
<line x1="458.7" y1="436.7" x2="461.9" y2="436.7" stroke="#111" stroke-width="0.6"/>
<polygon points="460.3,436.1 457.9,431.78 462.7,431.78" fill="#111"/>
<line x1="468.4" y1="430.6" x2="468.4" y2="437.8" stroke="#111" stroke-width="0.6"/>
<line x1="466.8" y1="430.6" x2="470" y2="430.6" stroke="#111" stroke-width="0.6"/>
<line x1="466.8" y1="437.8" x2="470" y2="437.8" stroke="#111" stroke-width="0.6"/>
<polygon points="468.4,436.6 466,432.28 470.8,432.28" fill="#111"/>
<line x1="477.1" y1="431.2" x2="477.1" y2="437.2" stroke="#111" stroke-width="0.6"/>
<line x1="475.5" y1="431.2" x2="478.7" y2="431.2" stroke="#111" stroke-width="0.6"/>
<line x1="475.5" y1="437.2" x2="478.7" y2="437.2" stroke="#111" stroke-width="0.6"/>
<polygon points="477.1,436.6 474.7,432.28 479.5,432.28" fill="#111"/>
<line x1="485.3" y1="431.2" x2="485.3" y2="437.2" stroke="#111" stroke-width="0.6"/>
<line x1="483.7" y1="431.2" x2="486.9" y2="431.2" stroke="#111" stroke-width="0.6"/>
<line x1="483.7" y1="437.2" x2="486.9" y2="437.2" stroke="#111" stroke-width="0.6"/>
<polygon points="485.3,436.6 482.9,432.28 487.7,432.28" fill="#111"/>
<line x1="493.7" y1="430.7" x2="493.7" y2="438.7" stroke="#111" stroke-width="0.6"/>
<line x1="492.1" y1="430.7" x2="495.3" y2="430.7" stroke="#111" stroke-width="0.6"/>
<line x1="492.1" y1="438.7" x2="495.3" y2="438.7" stroke="#111" stroke-width="0.6"/>
<polygon points="493.7,437.1 491.3,432.78 496.1,432.78" fill="#111"/>
<path d="M401.9 464.6 L410 467.6 L418.7 466.9 L426.9 456.9 L435.3 455.7 L443.4 455.7 L452.1 454.5 L460.3 454.8 L468.4 455.2 L477.1 455.9 L485.3 455.7 L493.7 455.7" fill="none" stroke="#ff1f6b" stroke-width="0.9"/>
<line x1="401.9" y1="463.6" x2="401.9" y2="465.6" stroke="#ff1f6b" stroke-width="0.6"/>
<line x1="400.3" y1="463.6" x2="403.5" y2="463.6" stroke="#ff1f6b" stroke-width="0.6"/>
<line x1="400.3" y1="465.6" x2="403.5" y2="465.6" stroke="#ff1f6b" stroke-width="0.6"/>
<polygon points="401.9,462.2 399.5,466.52 404.3,466.52" fill="#ff1f6b"/>
<line x1="410" y1="465" x2="410" y2="470.2" stroke="#ff1f6b" stroke-width="0.6"/>
<line x1="408.4" y1="465" x2="411.6" y2="465" stroke="#ff1f6b" stroke-width="0.6"/>
<line x1="408.4" y1="470.2" x2="411.6" y2="470.2" stroke="#ff1f6b" stroke-width="0.6"/>
<polygon points="410,465.2 407.6,469.52 412.4,469.52" fill="#ff1f6b"/>
<line x1="418.7" y1="465.9" x2="418.7" y2="467.9" stroke="#ff1f6b" stroke-width="0.6"/>
<line x1="417.1" y1="465.9" x2="420.3" y2="465.9" stroke="#ff1f6b" stroke-width="0.6"/>
<line x1="417.1" y1="467.9" x2="420.3" y2="467.9" stroke="#ff1f6b" stroke-width="0.6"/>
<polygon points="418.7,464.5 416.3,468.82 421.1,468.82" fill="#ff1f6b"/>
<line x1="426.9" y1="454.5" x2="426.9" y2="459.3" stroke="#ff1f6b" stroke-width="0.6"/>
<line x1="425.3" y1="454.5" x2="428.5" y2="454.5" stroke="#ff1f6b" stroke-width="0.6"/>
<line x1="425.3" y1="459.3" x2="428.5" y2="459.3" stroke="#ff1f6b" stroke-width="0.6"/>
<polygon points="426.9,454.5 424.5,458.82 429.3,458.82" fill="#ff1f6b"/>
<line x1="435.3" y1="454.7" x2="435.3" y2="456.7" stroke="#ff1f6b" stroke-width="0.6"/>
<line x1="433.7" y1="454.7" x2="436.9" y2="454.7" stroke="#ff1f6b" stroke-width="0.6"/>
<line x1="433.7" y1="456.7" x2="436.9" y2="456.7" stroke="#ff1f6b" stroke-width="0.6"/>
<polygon points="435.3,453.3 432.9,457.62 437.7,457.62" fill="#ff1f6b"/>
<line x1="443.4" y1="454.7" x2="443.4" y2="456.7" stroke="#ff1f6b" stroke-width="0.6"/>
<line x1="441.8" y1="454.7" x2="445" y2="454.7" stroke="#ff1f6b" stroke-width="0.6"/>
<line x1="441.8" y1="456.7" x2="445" y2="456.7" stroke="#ff1f6b" stroke-width="0.6"/>
<polygon points="443.4,453.3 441,457.62 445.8,457.62" fill="#ff1f6b"/>
<line x1="452.1" y1="452.1" x2="452.1" y2="456.9" stroke="#ff1f6b" stroke-width="0.6"/>
<line x1="450.5" y1="452.1" x2="453.7" y2="452.1" stroke="#ff1f6b" stroke-width="0.6"/>
<line x1="450.5" y1="456.9" x2="453.7" y2="456.9" stroke="#ff1f6b" stroke-width="0.6"/>
<polygon points="452.1,452.1 449.7,456.42 454.5,456.42" fill="#ff1f6b"/>
<line x1="460.3" y1="452.4" x2="460.3" y2="457.2" stroke="#ff1f6b" stroke-width="0.6"/>
<line x1="458.7" y1="452.4" x2="461.9" y2="452.4" stroke="#ff1f6b" stroke-width="0.6"/>
<line x1="458.7" y1="457.2" x2="461.9" y2="457.2" stroke="#ff1f6b" stroke-width="0.6"/>
<polygon points="460.3,452.4 457.9,456.72 462.7,456.72" fill="#ff1f6b"/>
<line x1="468.4" y1="454.2" x2="468.4" y2="456.2" stroke="#ff1f6b" stroke-width="0.6"/>
<line x1="466.8" y1="454.2" x2="470" y2="454.2" stroke="#ff1f6b" stroke-width="0.6"/>
<line x1="466.8" y1="456.2" x2="470" y2="456.2" stroke="#ff1f6b" stroke-width="0.6"/>
<polygon points="468.4,452.8 466,457.12 470.8,457.12" fill="#ff1f6b"/>
<line x1="477.1" y1="453.1" x2="477.1" y2="458.7" stroke="#ff1f6b" stroke-width="0.6"/>
<line x1="475.5" y1="453.1" x2="478.7" y2="453.1" stroke="#ff1f6b" stroke-width="0.6"/>
<line x1="475.5" y1="458.7" x2="478.7" y2="458.7" stroke="#ff1f6b" stroke-width="0.6"/>
<polygon points="477.1,453.5 474.7,457.82 479.5,457.82" fill="#ff1f6b"/>
<line x1="485.3" y1="453.1" x2="485.3" y2="458.3" stroke="#ff1f6b" stroke-width="0.6"/>
<line x1="483.7" y1="453.1" x2="486.9" y2="453.1" stroke="#ff1f6b" stroke-width="0.6"/>
<line x1="483.7" y1="458.3" x2="486.9" y2="458.3" stroke="#ff1f6b" stroke-width="0.6"/>
<polygon points="485.3,453.3 482.9,457.62 487.7,457.62" fill="#ff1f6b"/>
<line x1="493.7" y1="452.9" x2="493.7" y2="458.5" stroke="#ff1f6b" stroke-width="0.6"/>
<line x1="492.1" y1="452.9" x2="495.3" y2="452.9" stroke="#ff1f6b" stroke-width="0.6"/>
<line x1="492.1" y1="458.5" x2="495.3" y2="458.5" stroke="#ff1f6b" stroke-width="0.6"/>
<polygon points="493.7,453.3 491.3,457.62 496.1,457.62" fill="#ff1f6b"/>
<path d="M401.9 468.5 L410 472 L418.7 472.7 L426.9 468.5 L435.3 466.4 L443.4 464.6 L452.1 459.2 L460.3 457.6 L468.4 457.6 L477.1 465.3 L485.3 463.9 L493.7 462.9" fill="none" stroke="#0a1aff" stroke-width="0.9"/>
<rect x="399.71" y="466.31" width="4.37" height="4.37" fill="#0a1aff"/>
<rect x="407.81" y="469.81" width="4.37" height="4.37" fill="#0a1aff"/>
<rect x="416.51" y="470.51" width="4.37" height="4.37" fill="#0a1aff"/>
<rect x="424.71" y="466.31" width="4.37" height="4.37" fill="#0a1aff"/>
<rect x="433.12" y="464.21" width="4.37" height="4.37" fill="#0a1aff"/>
<rect x="441.21" y="462.42" width="4.37" height="4.37" fill="#0a1aff"/>
<rect x="449.92" y="457.01" width="4.37" height="4.37" fill="#0a1aff"/>
<rect x="458.12" y="455.42" width="4.37" height="4.37" fill="#0a1aff"/>
<rect x="466.21" y="455.42" width="4.37" height="4.37" fill="#0a1aff"/>
<rect x="474.92" y="463.12" width="4.37" height="4.37" fill="#0a1aff"/>
<rect x="483.12" y="461.71" width="4.37" height="4.37" fill="#0a1aff"/>
<rect x="491.51" y="460.71" width="4.37" height="4.37" fill="#0a1aff"/>
<line x1="401.9" y1="414.3" x2="410" y2="414.3" stroke="#111" stroke-width="0.8"/>
<polygon points="406,416.5 403.8,412.54 408.2,412.54" fill="#111"/>
<text x="413.6" y="416.71" font-size="6.7">WT</text>
<line x1="401.9" y1="421.4" x2="410" y2="421.4" stroke="#ff1f6b" stroke-width="0.8"/>
<polygon points="406,419.2 403.8,423.16 408.2,423.16" fill="#ff1f6b"/>
<text x="413.6" y="423.81" font-size="6.7">WT 2-DG</text>
<line x1="401.9" y1="428.8" x2="410" y2="428.8" stroke="#0a1aff" stroke-width="0.8"/>
<rect x="403.9" y="426.7" width="4.2" height="4.2" fill="#0a1aff"/>
<text x="413.6" y="431.21" font-size="6.7" font-style="italic">Hif1α<tspan font-size="70%" dy="-0.4em">-/-</tspan></text>
<line x1="418.7" y1="483.6" x2="418.7" y2="479.6" stroke="#000" stroke-width="1.1"/>
<polygon points="418.7,477 416.2,480.8 421.2,480.8" fill="#000"/>
<text x="419.4" y="491.61" font-size="6.7" text-anchor="middle">Oligo</text>
<line x1="443.9" y1="476.6" x2="443.9" y2="472.8" stroke="#000" stroke-width="1.1"/>
<polygon points="443.9,470.2 441.4,474 446.4,474" fill="#000"/>
<text x="445.1" y="485.31" font-size="6.7" text-anchor="middle">FCCP</text>
<line x1="468.4" y1="471.9" x2="468.4" y2="467.8" stroke="#000" stroke-width="1.1"/>
<polygon points="468.4,465.2 465.9,469 470.9,469" fill="#000"/>
<text x="470.3" y="479.91" font-size="6.7" text-anchor="middle">Rot/Anti</text>
<line x1="526.7" y1="425.7" x2="526.7" y2="494.6" stroke="#000" stroke-width="0.9"/>
<line x1="526.3" y1="494.2" x2="629.8" y2="494.2" stroke="#000" stroke-width="0.9"/>
<line x1="524.7" y1="494.2" x2="526.7" y2="494.2" stroke="#000" stroke-width="0.8"/>
<text x="524.1" y="496.22" font-size="5.6" text-anchor="end">0</text>
<line x1="524.7" y1="480.5" x2="526.7" y2="480.5" stroke="#000" stroke-width="0.8"/>
<text x="524.1" y="482.52" font-size="5.6" text-anchor="end">50</text>
<line x1="524.7" y1="466.9" x2="526.7" y2="466.9" stroke="#000" stroke-width="0.8"/>
<text x="524.1" y="468.92" font-size="5.6" text-anchor="end">100</text>
<line x1="524.7" y1="453.4" x2="526.7" y2="453.4" stroke="#000" stroke-width="0.8"/>
<text x="524.1" y="455.42" font-size="5.6" text-anchor="end">150</text>
<line x1="524.7" y1="439.6" x2="526.7" y2="439.6" stroke="#000" stroke-width="0.8"/>
<text x="524.1" y="441.62" font-size="5.6" text-anchor="end">200</text>
<line x1="524.7" y1="426" x2="526.7" y2="426" stroke="#000" stroke-width="0.8"/>
<text x="524.1" y="428.02" font-size="5.6" text-anchor="end">250</text>
<line x1="526.7" y1="494.2" x2="526.7" y2="496.2" stroke="#000" stroke-width="0.8"/>
<text x="526.7" y="502.92" font-size="5.6" text-anchor="middle">0</text>
<line x1="561.1" y1="494.2" x2="561.1" y2="496.2" stroke="#000" stroke-width="0.8"/>
<text x="561.1" y="502.92" font-size="5.6" text-anchor="middle">20</text>
<line x1="595.6" y1="494.2" x2="595.6" y2="496.2" stroke="#000" stroke-width="0.8"/>
<text x="595.6" y="502.92" font-size="5.6" text-anchor="middle">40</text>
<line x1="629.5" y1="494.2" x2="629.5" y2="496.2" stroke="#000" stroke-width="0.8"/>
<text x="629.5" y="502.92" font-size="5.6" text-anchor="middle">60</text>
<text x="578.6" y="511.61" font-size="6.7" text-anchor="middle">Time (minutes)</text>
<text x="509.8" y="462.41" font-size="6.7" text-anchor="middle" transform="rotate(-90 509.8 460)">OCR (pmol/min)</text>
<path d="M527.9 459.2 L536.5 460.6 L544.7 461.5 L553.4 482.8 L561.5 483.3 L569.7 483.7 L578.1 439.6 L586.3 436.5 L594.7 435.8 L603.1 488.4 L611.3 488.4 L619.5 488.6" fill="none" stroke="#0a1aff" stroke-width="0.9" stroke-dasharray="1.8 1.2"/>
<rect x="525.52" y="456.82" width="4.75" height="4.75" fill="#0a1aff"/>
<rect x="534.12" y="458.23" width="4.75" height="4.75" fill="#0a1aff"/>
<rect x="542.33" y="459.12" width="4.75" height="4.75" fill="#0a1aff"/>
<rect x="551.02" y="480.43" width="4.75" height="4.75" fill="#0a1aff"/>
<rect x="559.12" y="480.93" width="4.75" height="4.75" fill="#0a1aff"/>
<rect x="567.33" y="481.32" width="4.75" height="4.75" fill="#0a1aff"/>
<line x1="578.1" y1="435.1" x2="578.1" y2="444.1" stroke="#0a1aff" stroke-width="0.6"/>
<line x1="576.5" y1="435.1" x2="579.7" y2="435.1" stroke="#0a1aff" stroke-width="0.6"/>
<line x1="576.5" y1="444.1" x2="579.7" y2="444.1" stroke="#0a1aff" stroke-width="0.6"/>
<rect x="575.73" y="437.23" width="4.75" height="4.75" fill="#0a1aff"/>
<line x1="586.3" y1="430.5" x2="586.3" y2="442.5" stroke="#0a1aff" stroke-width="0.6"/>
<line x1="584.7" y1="430.5" x2="587.9" y2="430.5" stroke="#0a1aff" stroke-width="0.6"/>
<line x1="584.7" y1="442.5" x2="587.9" y2="442.5" stroke="#0a1aff" stroke-width="0.6"/>
<rect x="583.92" y="434.12" width="4.75" height="4.75" fill="#0a1aff"/>
<line x1="594.7" y1="429.3" x2="594.7" y2="442.3" stroke="#0a1aff" stroke-width="0.6"/>
<line x1="593.1" y1="429.3" x2="596.3" y2="429.3" stroke="#0a1aff" stroke-width="0.6"/>
<line x1="593.1" y1="442.3" x2="596.3" y2="442.3" stroke="#0a1aff" stroke-width="0.6"/>
<rect x="592.33" y="433.43" width="4.75" height="4.75" fill="#0a1aff"/>
<rect x="600.73" y="486.02" width="4.75" height="4.75" fill="#0a1aff"/>
<rect x="608.92" y="486.02" width="4.75" height="4.75" fill="#0a1aff"/>
<rect x="617.12" y="486.23" width="4.75" height="4.75" fill="#0a1aff"/>
<path d="M527.9 473.2 L536.5 474.8 L544.7 475.8 L553.4 487.9 L561.5 488.4 L569.7 488.6 L578.1 472.7 L586.3 474.4 L594.7 474.4 L603.1 491.9 L611.3 490.7 L619.5 491" fill="none" stroke="#ff1f6b" stroke-width="0.9"/>
<polygon points="527.9,470.8 525.5,475.12 530.3,475.12" fill="#ff1f6b"/>
<polygon points="536.5,472.4 534.1,476.72 538.9,476.72" fill="#ff1f6b"/>
<polygon points="544.7,473.4 542.3,477.72 547.1,477.72" fill="#ff1f6b"/>
<polygon points="553.4,485.5 551,489.82 555.8,489.82" fill="#ff1f6b"/>
<polygon points="561.5,486 559.1,490.32 563.9,490.32" fill="#ff1f6b"/>
<polygon points="569.7,486.2 567.3,490.52 572.1,490.52" fill="#ff1f6b"/>
<polygon points="578.1,470.3 575.7,474.62 580.5,474.62" fill="#ff1f6b"/>
<polygon points="586.3,472 583.9,476.32 588.7,476.32" fill="#ff1f6b"/>
<polygon points="594.7,472 592.3,476.32 597.1,476.32" fill="#ff1f6b"/>
<polygon points="603.1,489.5 600.7,493.82 605.5,493.82" fill="#ff1f6b"/>
<polygon points="611.3,488.3 608.9,492.62 613.7,492.62" fill="#ff1f6b"/>
<polygon points="619.5,488.6 617.1,492.92 621.9,492.92" fill="#ff1f6b"/>
<path d="M527.9 466.2 L536.5 468.1 L544.7 469.7 L553.4 482.8 L561.5 483.7 L569.7 484.4 L578.1 472.7 L586.3 473.2 L594.7 473.9 L603.1 488.4 L611.3 489.1 L619.5 489.1" fill="none" stroke="#111" stroke-width="0.9"/>
<polygon points="527.9,468.6 525.5,464.28 530.3,464.28" fill="#111"/>
<polygon points="536.5,470.5 534.1,466.18 538.9,466.18" fill="#111"/>
<polygon points="544.7,472.1 542.3,467.78 547.1,467.78" fill="#111"/>
<polygon points="553.4,485.2 551,480.88 555.8,480.88" fill="#111"/>
<polygon points="561.5,486.1 559.1,481.78 563.9,481.78" fill="#111"/>
<polygon points="569.7,486.8 567.3,482.48 572.1,482.48" fill="#111"/>
<polygon points="578.1,475.1 575.7,470.78 580.5,470.78" fill="#111"/>
<polygon points="586.3,475.6 583.9,471.28 588.7,471.28" fill="#111"/>
<polygon points="594.7,476.3 592.3,471.98 597.1,471.98" fill="#111"/>
<polygon points="603.1,490.8 600.7,486.48 605.5,486.48" fill="#111"/>
<polygon points="611.3,491.5 608.9,487.18 613.7,487.18" fill="#111"/>
<polygon points="619.5,491.5 617.1,487.18 621.9,487.18" fill="#111"/>
<line x1="530.7" y1="421.4" x2="539.1" y2="421.4" stroke="#111" stroke-width="0.8"/>
<polygon points="534.9,423.6 532.7,419.64 537.1,419.64" fill="#111"/>
<text x="542.4" y="423.81" font-size="6.7">WT</text>
<line x1="530.7" y1="428.4" x2="539.1" y2="428.4" stroke="#ff1f6b" stroke-width="0.8"/>
<polygon points="534.9,426.2 532.7,430.16 537.1,430.16" fill="#ff1f6b"/>
<text x="542.4" y="430.81" font-size="6.7">WT 2-DG</text>
<line x1="530.7" y1="436.5" x2="539.1" y2="436.5" stroke="#0a1aff" stroke-width="0.8"/>
<rect x="532.5" y="434.1" width="4.8" height="4.8" fill="#0a1aff"/>
<text x="542.4" y="438.91" font-size="6.7" font-style="italic">Hif1α<tspan font-size="70%" dy="-0.4em">-/-</tspan></text>
<text x="546.6" y="449.01" font-size="6.7" text-anchor="middle">Oligo</text>
<line x1="545.4" y1="450.4" x2="545.4" y2="455.8" stroke="#000" stroke-width="1.1"/>
<polygon points="545.4,458.4 542.9,454.6 547.9,454.6" fill="#000"/>
<text x="565.7" y="465.31" font-size="6.7" text-anchor="middle">FCCP</text>
<line x1="569.7" y1="466.6" x2="569.7" y2="473.7" stroke="#000" stroke-width="1.1"/>
<polygon points="569.7,476.3 567.2,472.5 572.2,472.5" fill="#000"/>
<text x="597.3" y="458.81" font-size="6.7" text-anchor="middle">Rot/Anti</text>
<line x1="594.9" y1="460.8" x2="594.9" y2="466" stroke="#000" stroke-width="1.1"/>
<polygon points="594.9,468.6 592.4,464.8 597.4,464.8" fill="#000"/>
</g>

<g id="pH">
<clipPath id="c1"><rect x="399.4" y="530" width="55" height="55"/></clipPath><clipPath id="c2"><rect x="464.1" y="530" width="55" height="55"/></clipPath>
<clipPath id="c3"><rect x="397" y="635.8" width="55" height="55.6"/></clipPath><clipPath id="c4"><rect x="461.7" y="635.8" width="55.6" height="55.6"/></clipPath>
<text x="385.2" y="521.6" font-size="12.5" text-anchor="middle" font-weight="bold">H</text>
<text x="422.9" y="523.04" font-size="9" text-anchor="middle">Control</text>
<text x="487.8" y="523.04" font-size="9" text-anchor="middle">2-DG</text>
<text x="384.5" y="559.8" font-size="8.6" text-anchor="middle" transform="rotate(-90 384.5 556.7)">IFN-<tspan font-style="italic">γ</tspan>-BV650</text>
<line x1="399.1" y1="529.9" x2="399.1" y2="585.2" stroke="#333" stroke-width="0.5"/>
<line x1="399.1" y1="585.2" x2="454.4" y2="585.2" stroke="#333" stroke-width="0.5"/>
<line x1="396.9" y1="531.9" x2="399.1" y2="531.9" stroke="#666" stroke-width="0.45"/>
<line x1="398.1" y1="534.47" x2="399.1" y2="534.47" stroke="#888" stroke-width="0.3"/>
<line x1="398.1" y1="536.17" x2="399.1" y2="536.17" stroke="#888" stroke-width="0.3"/>
<line x1="398.1" y1="537.46" x2="399.1" y2="537.46" stroke="#888" stroke-width="0.3"/>
<line x1="398.1" y1="538.57" x2="399.1" y2="538.57" stroke="#888" stroke-width="0.3"/>
<line x1="398.1" y1="539.6" x2="399.1" y2="539.6" stroke="#888" stroke-width="0.3"/>
<line x1="396.9" y1="540.45" x2="399.1" y2="540.45" stroke="#666" stroke-width="0.45"/>
<line x1="398.1" y1="543.02" x2="399.1" y2="543.02" stroke="#888" stroke-width="0.3"/>
<line x1="398.1" y1="544.73" x2="399.1" y2="544.73" stroke="#888" stroke-width="0.3"/>
<line x1="398.1" y1="546.01" x2="399.1" y2="546.01" stroke="#888" stroke-width="0.3"/>
<line x1="398.1" y1="547.12" x2="399.1" y2="547.12" stroke="#888" stroke-width="0.3"/>
<line x1="398.1" y1="548.15" x2="399.1" y2="548.15" stroke="#888" stroke-width="0.3"/>
<line x1="396.9" y1="549" x2="399.1" y2="549" stroke="#666" stroke-width="0.45"/>
<line x1="398.1" y1="551.57" x2="399.1" y2="551.57" stroke="#888" stroke-width="0.3"/>
<line x1="398.1" y1="553.27" x2="399.1" y2="553.27" stroke="#888" stroke-width="0.3"/>
<line x1="398.1" y1="554.56" x2="399.1" y2="554.56" stroke="#888" stroke-width="0.3"/>
<line x1="398.1" y1="555.67" x2="399.1" y2="555.67" stroke="#888" stroke-width="0.3"/>
<line x1="398.1" y1="556.7" x2="399.1" y2="556.7" stroke="#888" stroke-width="0.3"/>
<line x1="396.9" y1="557.55" x2="399.1" y2="557.55" stroke="#666" stroke-width="0.45"/>
<line x1="398.1" y1="560.12" x2="399.1" y2="560.12" stroke="#888" stroke-width="0.3"/>
<line x1="398.1" y1="561.82" x2="399.1" y2="561.82" stroke="#888" stroke-width="0.3"/>
<line x1="398.1" y1="563.11" x2="399.1" y2="563.11" stroke="#888" stroke-width="0.3"/>
<line x1="398.1" y1="564.22" x2="399.1" y2="564.22" stroke="#888" stroke-width="0.3"/>
<line x1="398.1" y1="565.25" x2="399.1" y2="565.25" stroke="#888" stroke-width="0.3"/>
<line x1="396.9" y1="566.1" x2="399.1" y2="566.1" stroke="#666" stroke-width="0.45"/>
<line x1="398.1" y1="568.67" x2="399.1" y2="568.67" stroke="#888" stroke-width="0.3"/>
<line x1="398.1" y1="570.38" x2="399.1" y2="570.38" stroke="#888" stroke-width="0.3"/>
<line x1="398.1" y1="571.66" x2="399.1" y2="571.66" stroke="#888" stroke-width="0.3"/>
<line x1="398.1" y1="572.77" x2="399.1" y2="572.77" stroke="#888" stroke-width="0.3"/>
<line x1="398.1" y1="573.8" x2="399.1" y2="573.8" stroke="#888" stroke-width="0.3"/>
<line x1="396.9" y1="574.65" x2="399.1" y2="574.65" stroke="#666" stroke-width="0.45"/>
<line x1="398.1" y1="577.22" x2="399.1" y2="577.22" stroke="#888" stroke-width="0.3"/>
<line x1="398.1" y1="578.93" x2="399.1" y2="578.93" stroke="#888" stroke-width="0.3"/>
<line x1="398.1" y1="580.21" x2="399.1" y2="580.21" stroke="#888" stroke-width="0.3"/>
<line x1="398.1" y1="581.32" x2="399.1" y2="581.32" stroke="#888" stroke-width="0.3"/>
<line x1="398.1" y1="582.35" x2="399.1" y2="582.35" stroke="#888" stroke-width="0.3"/>
<line x1="396.9" y1="583.2" x2="399.1" y2="583.2" stroke="#666" stroke-width="0.45"/>
<line x1="403.1" y1="585.2" x2="403.1" y2="587.4" stroke="#666" stroke-width="0.45"/>
<line x1="407.83" y1="585.2" x2="407.83" y2="586.2" stroke="#888" stroke-width="0.3"/>
<line x1="410.98" y1="585.2" x2="410.98" y2="586.2" stroke="#888" stroke-width="0.3"/>
<line x1="413.35" y1="585.2" x2="413.35" y2="586.2" stroke="#888" stroke-width="0.3"/>
<line x1="415.4" y1="585.2" x2="415.4" y2="586.2" stroke="#888" stroke-width="0.3"/>
<line x1="417.29" y1="585.2" x2="417.29" y2="586.2" stroke="#888" stroke-width="0.3"/>
<text x="401.6" y="589.45" font-size="1.8" text-anchor="middle" fill="#555">10</text>
<line x1="418.87" y1="585.2" x2="418.87" y2="587.4" stroke="#666" stroke-width="0.45"/>
<line x1="423.6" y1="585.2" x2="423.6" y2="586.2" stroke="#888" stroke-width="0.3"/>
<line x1="426.75" y1="585.2" x2="426.75" y2="586.2" stroke="#888" stroke-width="0.3"/>
<line x1="429.12" y1="585.2" x2="429.12" y2="586.2" stroke="#888" stroke-width="0.3"/>
<line x1="431.16" y1="585.2" x2="431.16" y2="586.2" stroke="#888" stroke-width="0.3"/>
<line x1="433.06" y1="585.2" x2="433.06" y2="586.2" stroke="#888" stroke-width="0.3"/>
<text x="417.37" y="589.45" font-size="1.8" text-anchor="middle" fill="#555">10</text>
<line x1="434.63" y1="585.2" x2="434.63" y2="587.4" stroke="#666" stroke-width="0.45"/>
<line x1="439.36" y1="585.2" x2="439.36" y2="586.2" stroke="#888" stroke-width="0.3"/>
<line x1="442.52" y1="585.2" x2="442.52" y2="586.2" stroke="#888" stroke-width="0.3"/>
<line x1="444.88" y1="585.2" x2="444.88" y2="586.2" stroke="#888" stroke-width="0.3"/>
<line x1="446.93" y1="585.2" x2="446.93" y2="586.2" stroke="#888" stroke-width="0.3"/>
<line x1="448.82" y1="585.2" x2="448.82" y2="586.2" stroke="#888" stroke-width="0.3"/>
<text x="433.13" y="589.45" font-size="1.8" text-anchor="middle" fill="#555">10</text>
<line x1="450.4" y1="585.2" x2="450.4" y2="587.4" stroke="#666" stroke-width="0.45"/>
<text x="448.9" y="589.45" font-size="1.8" text-anchor="middle" fill="#555">10</text>
<text x="395.5" y="532.55" font-size="1.8" text-anchor="middle" fill="#555">10</text>
<text x="395.5" y="541.1" font-size="1.8" text-anchor="middle" fill="#555">10</text>
<text x="395.5" y="549.65" font-size="1.8" text-anchor="middle" fill="#555">10</text>
<text x="395.5" y="558.2" font-size="1.8" text-anchor="middle" fill="#555">10</text>
<text x="395.5" y="566.75" font-size="1.8" text-anchor="middle" fill="#555">10</text>
<text x="395.5" y="575.3" font-size="1.8" text-anchor="middle" fill="#555">10</text>
<text x="395.5" y="583.85" font-size="1.8" text-anchor="middle" fill="#555">10</text>
<line x1="463.8" y1="529.9" x2="463.8" y2="585.2" stroke="#333" stroke-width="0.5"/>
<line x1="463.8" y1="585.2" x2="519.1" y2="585.2" stroke="#333" stroke-width="0.5"/>
<line x1="461.6" y1="531.9" x2="463.8" y2="531.9" stroke="#666" stroke-width="0.45"/>
<line x1="462.8" y1="534.47" x2="463.8" y2="534.47" stroke="#888" stroke-width="0.3"/>
<line x1="462.8" y1="536.17" x2="463.8" y2="536.17" stroke="#888" stroke-width="0.3"/>
<line x1="462.8" y1="537.46" x2="463.8" y2="537.46" stroke="#888" stroke-width="0.3"/>
<line x1="462.8" y1="538.57" x2="463.8" y2="538.57" stroke="#888" stroke-width="0.3"/>
<line x1="462.8" y1="539.6" x2="463.8" y2="539.6" stroke="#888" stroke-width="0.3"/>
<line x1="461.6" y1="540.45" x2="463.8" y2="540.45" stroke="#666" stroke-width="0.45"/>
<line x1="462.8" y1="543.02" x2="463.8" y2="543.02" stroke="#888" stroke-width="0.3"/>
<line x1="462.8" y1="544.73" x2="463.8" y2="544.73" stroke="#888" stroke-width="0.3"/>
<line x1="462.8" y1="546.01" x2="463.8" y2="546.01" stroke="#888" stroke-width="0.3"/>
<line x1="462.8" y1="547.12" x2="463.8" y2="547.12" stroke="#888" stroke-width="0.3"/>
<line x1="462.8" y1="548.15" x2="463.8" y2="548.15" stroke="#888" stroke-width="0.3"/>
<line x1="461.6" y1="549" x2="463.8" y2="549" stroke="#666" stroke-width="0.45"/>
<line x1="462.8" y1="551.57" x2="463.8" y2="551.57" stroke="#888" stroke-width="0.3"/>
<line x1="462.8" y1="553.27" x2="463.8" y2="553.27" stroke="#888" stroke-width="0.3"/>
<line x1="462.8" y1="554.56" x2="463.8" y2="554.56" stroke="#888" stroke-width="0.3"/>
<line x1="462.8" y1="555.67" x2="463.8" y2="555.67" stroke="#888" stroke-width="0.3"/>
<line x1="462.8" y1="556.7" x2="463.8" y2="556.7" stroke="#888" stroke-width="0.3"/>
<line x1="461.6" y1="557.55" x2="463.8" y2="557.55" stroke="#666" stroke-width="0.45"/>
<line x1="462.8" y1="560.12" x2="463.8" y2="560.12" stroke="#888" stroke-width="0.3"/>
<line x1="462.8" y1="561.82" x2="463.8" y2="561.82" stroke="#888" stroke-width="0.3"/>
<line x1="462.8" y1="563.11" x2="463.8" y2="563.11" stroke="#888" stroke-width="0.3"/>
<line x1="462.8" y1="564.22" x2="463.8" y2="564.22" stroke="#888" stroke-width="0.3"/>
<line x1="462.8" y1="565.25" x2="463.8" y2="565.25" stroke="#888" stroke-width="0.3"/>
<line x1="461.6" y1="566.1" x2="463.8" y2="566.1" stroke="#666" stroke-width="0.45"/>
<line x1="462.8" y1="568.67" x2="463.8" y2="568.67" stroke="#888" stroke-width="0.3"/>
<line x1="462.8" y1="570.38" x2="463.8" y2="570.38" stroke="#888" stroke-width="0.3"/>
<line x1="462.8" y1="571.66" x2="463.8" y2="571.66" stroke="#888" stroke-width="0.3"/>
<line x1="462.8" y1="572.77" x2="463.8" y2="572.77" stroke="#888" stroke-width="0.3"/>
<line x1="462.8" y1="573.8" x2="463.8" y2="573.8" stroke="#888" stroke-width="0.3"/>
<line x1="461.6" y1="574.65" x2="463.8" y2="574.65" stroke="#666" stroke-width="0.45"/>
<line x1="462.8" y1="577.22" x2="463.8" y2="577.22" stroke="#888" stroke-width="0.3"/>
<line x1="462.8" y1="578.93" x2="463.8" y2="578.93" stroke="#888" stroke-width="0.3"/>
<line x1="462.8" y1="580.21" x2="463.8" y2="580.21" stroke="#888" stroke-width="0.3"/>
<line x1="462.8" y1="581.32" x2="463.8" y2="581.32" stroke="#888" stroke-width="0.3"/>
<line x1="462.8" y1="582.35" x2="463.8" y2="582.35" stroke="#888" stroke-width="0.3"/>
<line x1="461.6" y1="583.2" x2="463.8" y2="583.2" stroke="#666" stroke-width="0.45"/>
<line x1="467.8" y1="585.2" x2="467.8" y2="587.4" stroke="#666" stroke-width="0.45"/>
<line x1="472.53" y1="585.2" x2="472.53" y2="586.2" stroke="#888" stroke-width="0.3"/>
<line x1="475.68" y1="585.2" x2="475.68" y2="586.2" stroke="#888" stroke-width="0.3"/>
<line x1="478.05" y1="585.2" x2="478.05" y2="586.2" stroke="#888" stroke-width="0.3"/>
<line x1="480.1" y1="585.2" x2="480.1" y2="586.2" stroke="#888" stroke-width="0.3"/>
<line x1="481.99" y1="585.2" x2="481.99" y2="586.2" stroke="#888" stroke-width="0.3"/>
<text x="466.3" y="589.45" font-size="1.8" text-anchor="middle" fill="#555">10</text>
<line x1="483.57" y1="585.2" x2="483.57" y2="587.4" stroke="#666" stroke-width="0.45"/>
<line x1="488.3" y1="585.2" x2="488.3" y2="586.2" stroke="#888" stroke-width="0.3"/>
<line x1="491.45" y1="585.2" x2="491.45" y2="586.2" stroke="#888" stroke-width="0.3"/>
<line x1="493.81" y1="585.2" x2="493.81" y2="586.2" stroke="#888" stroke-width="0.3"/>
<line x1="495.86" y1="585.2" x2="495.86" y2="586.2" stroke="#888" stroke-width="0.3"/>
<line x1="497.76" y1="585.2" x2="497.76" y2="586.2" stroke="#888" stroke-width="0.3"/>
<text x="482.07" y="589.45" font-size="1.8" text-anchor="middle" fill="#555">10</text>
<line x1="499.33" y1="585.2" x2="499.33" y2="587.4" stroke="#666" stroke-width="0.45"/>
<line x1="504.06" y1="585.2" x2="504.06" y2="586.2" stroke="#888" stroke-width="0.3"/>
<line x1="507.22" y1="585.2" x2="507.22" y2="586.2" stroke="#888" stroke-width="0.3"/>
<line x1="509.58" y1="585.2" x2="509.58" y2="586.2" stroke="#888" stroke-width="0.3"/>
<line x1="511.63" y1="585.2" x2="511.63" y2="586.2" stroke="#888" stroke-width="0.3"/>
<line x1="513.52" y1="585.2" x2="513.52" y2="586.2" stroke="#888" stroke-width="0.3"/>
<text x="497.83" y="589.45" font-size="1.8" text-anchor="middle" fill="#555">10</text>
<line x1="515.1" y1="585.2" x2="515.1" y2="587.4" stroke="#666" stroke-width="0.45"/>
<text x="513.6" y="589.45" font-size="1.8" text-anchor="middle" fill="#555">10</text>
<text x="460.2" y="532.55" font-size="1.8" text-anchor="middle" fill="#555">10</text>
<text x="460.2" y="541.1" font-size="1.8" text-anchor="middle" fill="#555">10</text>
<text x="460.2" y="549.65" font-size="1.8" text-anchor="middle" fill="#555">10</text>
<text x="460.2" y="558.2" font-size="1.8" text-anchor="middle" fill="#555">10</text>
<text x="460.2" y="566.75" font-size="1.8" text-anchor="middle" fill="#555">10</text>
<text x="460.2" y="575.3" font-size="1.8" text-anchor="middle" fill="#555">10</text>
<text x="460.2" y="583.85" font-size="1.8" text-anchor="middle" fill="#555">10</text>
<path d="M425 560h0M422.9 562.8h0M422.7 556.9h0M418.7 558.9h0M420.7 553.4h0M423.6 553.4h0M422.5 562.5h0M421.5 557.4h0M418.2 556.5h0M417.8 564.9h0M421.1 558.1h0M418 562.6h0M419.6 559.4h0M424.9 552.9h0M423.3 558.2h0M420.8 564.2h0M421.3 557.1h0M418.2 549.5h0M420.8 558.6h0M422.6 556.8h0M419.3 558.2h0M420.8 555.5h0M421.7 562h0M419.6 561.5h0M420.2 557.3h0M417.5 559.6h0M422.8 557h0M421.2 555.5h0M420.3 560.7h0M423.8 561.9h0M419.2 560.5h0M420.2 557.9h0M420 561h0M421.1 566.3h0M425.5 554h0M423.4 561.4h0M421.5 554.3h0M419.7 559h0M423.9 557.1h0M419.8 562.6h0M424.6 560h0M418 563h0M420.5 559.5h0M418.5 560.3h0M422.6 554.6h0M423.1 564h0M419.1 555.6h0M419.8 561.1h0M421 562.4h0M423.7 557.3h0M422.2 561.9h0M422.4 555.9h0M422.3 555.2h0M419.2 561.7h0M421.9 555.4h0M423.3 562.1h0M424.2 556.6h0M423.6 563.3h0M419.6 554.6h0M419 559.2h0M423.5 561.8h0M420.8 564.9h0M424.1 563.3h0M418.6 563.1h0M419.5 559.3h0M421.6 553.1h0M422.2 554.8h0M424.1 559.7h0M423.1 562.5h0M423.4 559.1h0M424.1 562.2h0M420.5 555.4h0M423.9 558.8h0M420 553.1h0M424.3 554.9h0M422 556.9h0M424.4 564.9h0M418.7 560.1h0M424.4 556.4h0M422.9 561.3h0M424 554.9h0M425.2 558.5h0M423.5 558.9h0M419.2 557.6h0M421.7 556.6h0M422.2 563.2h0M421.2 563.7h0M424 560.7h0M423.2 558.6h0M418.6 558.4h0M419.8 555.4h0M424.6 563.7h0M419.6 562.1h0M421.2 557.4h0M419.7 557.6h0M420 558.9h0M424.2 561.5h0M421.4 562.3h0M423.2 555h0M419.5 563.9h0M422.1 555.2h0M422.7 555.6h0M422.8 555.3h0M419 550h0M422.4 554.3h0M422 549.9h0M423.5 542h0M424 549.6h0M419 549.1h0M417.7 541.8h0M421.1 547.5h0M423.6 547h0M418.9 546.7h0M425.8 551.1h0M420.5 546.5h0M419.4 550.3h0M422.9 556.2h0M424.5 552.2h0M420.4 547.1h0M416.6 546.4h0M422.9 549.5h0M422.7 544.9h0M424 552.3h0M422 552.8h0M416.8 548.5h0M419.8 559.2h0M421.5 548.7h0M423.9 546.3h0M425.2 547.8h0M421.8 546.9h0M423.8 541.2h0M423.5 547.3h0M422 545.8h0M422.4 551.8h0M423.3 552.4h0M423.3 555.5h0M421 545.7h0M419 554.1h0M421 555.7h0M422 546.4h0M424 559.7h0M421.5 546.8h0M420 555h0M420.6 549.2h0M423.5 551.1h0M422.2 548.5h0M420.4 551.7h0M422.3 553.7h0M420.8 552.6h0M423 551.4h0M423.2 555.5h0M422.4 551.4h0M419.7 552.5h0M421.7 549.6h0M420 553.6h0M427.8 552.9h0M422.1 553h0M420.5 551.4h0M420.4 548.1h0M422.4 552h0M421.6 547.4h0M422.5 546.1h0M423.7 549.4h0M421.9 554.5h0M423.2 545.2h0M421.3 552.7h0M419.4 540.2h0M421.7 550.8h0M422.9 551.4h0M422.2 552.1h0M425.1 553.2h0M423.1 549.2h0M424.5 550.2h0M422.9 558.4h0M421.8 569.5h0M420.1 577.1h0M422.1 569.2h0M420 580.3h0M422.9 573.6h0M419.4 577.2h0M422.5 568.5h0M421 561.1h0M422.7 564h0M423.1 567.6h0M419.8 572h0M421.7 563.8h0M421 573.3h0M420.6 562.6h0M420.6 564.7h0M419.9 570.3h0M421.1 568.9h0M417.4 571.9h0M420.7 567.8h0M421.6 580.6h0M418.2 561.2h0M422.9 565.7h0M424.2 564.6h0M420.1 574.6h0M423.3 572.4h0M422.2 569.3h0M420.2 568.9h0M424.1 573.9h0M421.2 571.7h0M423.1 576.5h0M420.9 569.6h0M422 584.3h0M421.8 576.9h0M417.7 574.6h0M418 564.1h0M419.8 569.2h0M421.6 572h0M421.7 567.6h0M427.1 572.2h0M422.7 581h0M423.4 573.2h0M421.9 580.2h0M418.7 564.8h0M421.5 558.9h0M419.4 576.2h0M420.1 570.9h0M422.8 563.6h0M421.8 566.6h0M418.7 568.5h0M421.1 567.8h0M419.7 575.2h0M423.8 573h0M421 564.3h0M419.3 564h0M422.3 566.3h0M425.1 559.8h0M420 561.2h0M422 564.1h0M427.3 555.3h0M429.8 545.4h0M414.4 549.5h0M417.4 558.4h0M429.7 555.2h0M425.9 557.5h0M422.1 552.9h0M430.5 559.7h0M419.1 575.8h0M422.2 562.9h0M420.9 554.2h0" stroke="#5d79f0" stroke-width="0.56" stroke-linecap="round" fill="none" clip-path="url(#c1)"/>
<path d="M421.8 563.1h0M423.4 558.9h0M420.8 555.9h0M421.5 560.3h0M422.2 558.7h0M420.5 557.9h0M421.3 557.7h0M421.3 560.5h0M423 558h0M422.1 557.3h0M420.1 558.4h0M420.3 558.2h0M421.1 562.2h0M421.1 561.4h0M423.1 561.1h0M422.2 561.7h0M422.6 561.3h0M422.9 557.8h0M420.1 559.8h0M422 559.2h0M421.5 561h0M422.1 560.3h0M421 561.8h0M423.2 559h0M423.4 560.2h0M423.3 560.9h0M422.3 560.3h0M421.7 561.4h0M420.4 561.7h0M420.6 556.6h0M422.2 561.6h0M420.4 558.5h0M422.4 561.9h0M419.2 560.1h0M420.3 560h0M422.4 557.9h0M421.5 558.4h0M421.1 558.2h0M421.1 558.4h0M419.3 559.4h0M421.2 557.5h0M421.8 557h0M422.5 560.7h0M421 558.1h0" stroke="#5b92ee" stroke-width="0.62" stroke-linecap="round" fill="none" clip-path="url(#c1)"/>
<path d="M421 559.8h0M420.1 558.5h0M421.2 559h0M421.3 560.6h0M421.3 559.2h0M421.9 558.9h0M422.2 559.7h0M421.3 558.4h0M422.3 558.3h0M421.7 561h0M421.4 561.5h0M421.7 560.6h0M420.8 559.9h0M422.6 560.4h0M421.6 559.7h0M421.7 558.9h0M420.5 557.9h0M421.9 560.9h0M422.3 561.2h0M420.2 558.9h0M420.7 559.3h0M421.7 558.8h0M420.6 558.9h0" stroke="#4fb7a8" stroke-width="0.66" stroke-linecap="round" fill="none" clip-path="url(#c1)"/>
<path d="M482.2 562.5h0M483.4 566.5h0M490.8 562.3h0M489.5 562.4h0M489.1 559.9h0M486.1 560.1h0M490.2 561.2h0M483 567h0M481.3 558.1h0M480.7 564.4h0M488.5 558.7h0M488.4 557.7h0M480.4 566.1h0M483.6 565.3h0M481.8 561.9h0M488.8 562.2h0M491.4 561.1h0M485.7 570.3h0M481.6 562.3h0M484.4 569.5h0M492 566.5h0M489.1 570.3h0M490 563.6h0M486.5 557.1h0M486.7 559.5h0M487.1 563.8h0M482.5 564.9h0M482 568.1h0M483.4 566.6h0M482.5 559.9h0M484.2 558h0M490.7 563.5h0M478.3 561.7h0M491.5 562.3h0M482.1 561.4h0M484.4 569.6h0M486.5 557.8h0M488.2 559.3h0M487.5 557.5h0M484.1 558.3h0M488.5 561h0M482.7 558.7h0M480.2 561.6h0M480.5 563.8h0M485.9 554.9h0M489.4 560h0M488 558.3h0M487.6 569h0M482.5 562.5h0M486.6 558h0M484.1 568.3h0M486.3 557.3h0M490.5 564h0M482.7 564.9h0M486.8 558h0M479 558.2h0M488.1 565h0M483.4 558h0M490.7 565.4h0M490.4 562.6h0M483.6 566.9h0M487.7 561.2h0M480.2 561.6h0M488.9 565.4h0M483.9 556.2h0M483.7 566.9h0M488.9 562.6h0M482.2 566.8h0M487.4 566.3h0M489.8 556.6h0M488 559.6h0M486.2 559h0M491.6 562.8h0M488 565.8h0M489.5 563.3h0M486.5 560.1h0M489.1 559.8h0M485.7 556.4h0M488.5 563.2h0M488.1 565.7h0M489.1 569.5h0M489.1 564.6h0M489.6 564.1h0M489.1 565.7h0M489.2 560h0M478.9 565.9h0M482.3 561.6h0M484.9 569.3h0M485.4 567.7h0M484.3 567.7h0M491.1 567.8h0M484.3 569.1h0M491.1 561.6h0M489.9 566.5h0M486.1 558.9h0M490 560.5h0M480.9 562.5h0M485.8 558.9h0M488.5 569.8h0M489 565.1h0M485.5 558.4h0M490.3 565.7h0M489.5 566h0M481.7 559.8h0M483.5 559.2h0M488.3 566.2h0M481 562.6h0M488.4 567.8h0M486.6 559h0M481.4 562.7h0M488.4 558.8h0M487.7 569.2h0M487.1 559.4h0M489.1 560.4h0M489.6 562.4h0M488.7 559.3h0M485 559.4h0M491 565.1h0M480.8 561.9h0M488.1 559.5h0M488.7 560.1h0M485.7 558.2h0M479.4 564.1h0M488.1 567.2h0M479.1 563.2h0M486.7 566.6h0M489.8 558.7h0M483.6 560.6h0M485.5 568.4h0M483.2 559.5h0M485.6 557.3h0M488.3 567.4h0M481.5 567.2h0M485.8 558.2h0M491.6 566.3h0M480.9 561.6h0M488 569.9h0M490.1 563.5h0M486.9 567.4h0M486.6 566.9h0M482.6 567.4h0M484.8 568.3h0M486.7 557.8h0M482 558h0M486.5 568.4h0M485.2 566.3h0M489.1 560h0M482.1 565.1h0M488.7 569.8h0M486.1 567.8h0M480 559h0M484.5 567.7h0M483.8 555.5h0M488.3 564.2h0M480 557.9h0M481.2 558.9h0M488.9 569.3h0M482.5 571.2h0M489 568.5h0M486.3 565.3h0M484.8 563h0M485.5 559.8h0M491.9 574.7h0M484.1 566.8h0M484.5 569.5h0M486.3 577.5h0M484.4 560.2h0M486.4 570.8h0M483.4 572.6h0M485.1 565.3h0M485.4 563.1h0M484.6 576.7h0M488.9 571.7h0M486 570.2h0M482.5 569.7h0M483.7 566.2h0M490 565.6h0M485.8 569.4h0M488.4 567.9h0M487 570.7h0M485.2 566.3h0M482.9 573.8h0M483.3 574.2h0M490.2 566.5h0M483.1 564.5h0M484.3 575h0M483.6 564.2h0M481.2 569.4h0M486.9 575.8h0M486.4 568.8h0M485.6 582.1h0M490 573.1h0M484.8 568.2h0M485.5 568.6h0M487 565.9h0M490.8 564.6h0M487.5 572.5h0M488.3 575.2h0M486.6 570h0M489.7 574.9h0M485.7 573h0M482.5 570.9h0M480.1 574.7h0M484 573.3h0M487 566.4h0M488.1 576.6h0M483.4 577.7h0M486.8 565.1h0M485.1 570.8h0M487.7 565.5h0M484.8 571.3h0M486.5 578.1h0M488 573.2h0M483.4 565.1h0M483 568.9h0M487.5 576.8h0M488.5 565.5h0M485.6 578.9h0M486.2 571.6h0M482.1 563h0M484.5 568h0M487.3 568.7h0M481.2 580.2h0M486.9 561.7h0M490.4 573h0M485.4 569.4h0M487.2 558.9h0M488.5 570.5h0M487.7 566.7h0M484.2 576.4h0M476.8 574.7h0M489 562h0M485.2 566.1h0M484.3 563.5h0M482.2 569.6h0M485.1 571.8h0M487.9 566.7h0M491.5 576.6h0M481.7 568.5h0M484.9 571.2h0M483.2 576.4h0M484.8 578.8h0M483.8 578h0M487 573.4h0M486.8 570.8h0M483.2 568.4h0M483.9 568.3h0M484.8 572.7h0M486.6 567.9h0M481.1 573.4h0M483.8 567.5h0M487 569h0M486 569.6h0M480.7 572.3h0M485.3 572.6h0M486 567.3h0M489.7 569.7h0M490.2 566.2h0M489.3 568.4h0M488.4 558.6h0M484.6 569.9h0M485 561.4h0M485.8 567.9h0M481.9 562.9h0M483.6 559.8h0M489 560.4h0M485.8 565h0M487.7 565.5h0M489 559.5h0M474.8 567.4h0M493 561.2h0M485.7 567.4h0M482 562.9h0M483.7 565.8h0M485.9 571.3h0M481.6 559.7h0M479.4 564.2h0M485.1 562h0M488.3 558.4h0" stroke="#5573f0" stroke-width="0.56" stroke-linecap="round" fill="none" clip-path="url(#c2)"/>
<path d="M486.7 562.6h0M483.6 564.7h0M489.2 560.8h0M486.8 561.9h0M482.6 562.5h0M487.8 565.4h0M485.4 564.7h0M486.6 566.1h0M487.5 564.2h0M488.2 563.8h0M483.8 562.3h0M486.1 559.6h0M488 561.4h0M483.1 564.6h0M483.3 562.2h0M485.3 560.1h0M488 562.7h0M482.7 563.1h0M486.5 561h0M482.5 563.5h0M485.8 561.4h0M488.7 562.2h0M482.8 564.1h0M486.6 561.7h0M484.6 564h0M485 565.1h0M484.4 565.8h0M487.3 560.8h0M485.7 561h0M488.8 562.7h0M486.9 565.5h0M485.1 560.6h0M484.7 562.1h0M488 561.5h0M485.5 560.4h0M484.7 563.5h0M485.2 565.4h0M485.8 560.3h0M486.4 565.5h0M483.7 562.5h0M488 561.2h0M482.5 563.3h0M483.7 563.9h0M486.9 562.5h0M484.4 563.4h0M488.6 563.7h0M488.9 563.4h0M483.7 564.5h0M487.4 562.7h0M488.4 561.2h0M483.2 565h0M483.7 562.2h0M485.9 562.4h0M485 561.3h0M482.9 564h0M483.4 563.3h0M485.9 559.7h0M483.4 562h0M486.9 565.3h0M488.1 561.9h0M488.4 564h0M488.5 563.6h0M483.5 562.2h0M485.3 565.2h0M485.3 565.8h0M483.9 563.8h0M485.3 560.2h0M486.3 564.8h0M482.7 561.9h0M487.2 562.2h0M487.9 561.4h0M483.5 562.7h0M486.6 560.3h0M483.8 563.5h0M486.4 560.7h0M488.3 564.9h0M482.9 561.6h0M483.6 559.4h0M487.8 565.1h0M485.9 565.4h0M485.8 566.8h0M489.3 564.2h0M488.4 562.3h0M482.6 563.4h0M483 563.3h0M483.5 564.8h0M485.3 561.5h0M485.6 565.9h0M488 560.5h0M488.4 562.2h0M487.9 564.8h0M482.7 561.2h0M487.3 564.3h0M483.8 563h0M483.5 561.5h0M483.3 562.7h0M486 564.8h0M488.9 560.4h0M486 560.2h0M486.5 565.5h0M482.6 564.5h0M487.9 561.5h0M484.6 565.6h0M484.7 565.3h0M485.8 564.8h0M484.9 560.5h0M485.7 564.8h0M486.8 565h0M487.1 560.4h0M484.4 563.1h0M487.4 562.7h0M483 562.2h0M484.5 566h0M488.6 564.8h0M484.8 565.1h0M489.3 561.2h0M484.3 565.7h0M484.1 560.7h0M482.8 560.8h0M482.8 562.6h0M484.5 564.6h0M486.6 562.1h0M486.2 560.8h0M487.6 560.6h0M486.5 560.7h0M483.5 562.5h0M487.7 560.2h0M485.7 561.1h0M487.6 562.7h0M486.9 565h0M489.1 565.4h0M488.8 563.2h0M484 561.1h0M487.4 561.6h0M483.4 564.1h0M483.5 566.7h0M484.4 564.7h0M482.4 564.5h0M485.8 560.9h0M489.5 564.7h0M486.6 567h0M485.3 560.6h0M483.9 560.1h0M483.8 561.9h0M484.8 561h0M489.8 561h0M486.4 560.6h0M488.9 563.3h0M484.2 561.4h0M483.5 565.1h0M482.6 561.3h0M487.4 563h0M485.9 561.4h0M485.3 566.9h0M483.7 562.2h0M484.3 562h0M487.6 559.5h0M488.8 564.2h0M484.7 559.9h0M485.9 564.7h0M484.5 563.3h0M487.5 564.4h0M489 562.2h0M487.7 562.2h0M486.5 565.1h0M482.1 564.8h0M484.3 564.3h0M484.3 566.1h0M484.7 564.1h0M482.4 562.6h0M486.5 566.9h0M482.3 563.2h0M488.5 560.8h0" stroke="#4a7cee" stroke-width="0.64" stroke-linecap="round" fill="none" clip-path="url(#c2)"/>
<path d="M484.8 563.6h0M487.5 563.1h0M485.1 563.7h0M485.9 563.4h0M485.7 564.4h0M487.1 559.7h0M487.9 563.9h0M487.1 562.6h0M483.7 563.2h0M487.1 562.2h0M486.6 563.3h0M485 562.8h0M485.4 564.4h0M486.1 562.8h0M485.9 563.8h0M485.4 563.9h0M485.8 561.9h0M485.5 564.3h0M484.5 564.3h0M485 563.5h0M486.8 562.9h0M484.8 565.3h0M484.5 564.8h0M487.3 564.6h0M486.2 563.3h0M485.9 563.8h0M485.3 565.6h0M485.3 561.3h0M485 564.1h0M485.2 561.3h0M484.1 563.2h0M483.5 562.6h0M485.5 560.6h0M486.1 563h0M485.3 562.4h0M486.3 561.1h0M484.8 562.4h0M485.6 561.5h0M484.7 561.8h0M484.8 564.1h0M486.2 560.5h0M485.7 562.8h0M485.5 563.8h0M484.5 563.6h0M484.8 564.5h0M484.9 563.3h0M485.3 562.7h0M484.5 563.5h0M486.1 564h0M485 562.2h0M484.5 562.2h0M486.7 562.2h0M487.1 564.3h0M485 564.9h0M485.1 564.7h0M484 563.4h0M484.5 562.5h0M486.1 564.7h0M487.1 561h0M485.7 564.3h0M485.4 564.6h0M484.7 564.9h0M485.6 564h0M486.5 562.9h0M486.5 563.1h0M485.7 565.3h0M486.3 564h0M485.4 562.5h0M487.3 562.3h0M485.6 562.6h0M484.6 562.3h0M485.9 564.2h0M484.3 563.5h0M486.3 562.2h0M486 562.6h0M485.6 564.4h0M485.7 562.2h0M485.7 563.6h0M485.7 562.6h0M486.1 562.4h0M485.7 563h0M485.2 564h0M486.5 563.2h0M484.5 563.2h0M485.7 563.3h0M485.1 563.8h0M485.1 562.7h0M485 561.3h0M485 562.3h0M486.2 561.7h0" stroke="#45a9f2" stroke-width="0.68" stroke-linecap="round" fill="none" clip-path="url(#c2)"/>
<rect x="407.2" y="532.2" width="24.6" height="23.8" fill="none" stroke="#555" stroke-width="0.55"/>
<rect x="472.4" y="532.2" width="24.1" height="23.8" fill="none" stroke="#555" stroke-width="0.55"/>
<text x="446.6" y="538.92" font-size="7" text-anchor="middle">18.2</text>
<text x="510.3" y="538.92" font-size="7" text-anchor="middle">0.060</text>
<text x="394.9" y="600.07" font-size="8.8">CD4-BV421</text>
<line x1="450.2" y1="596.5" x2="509.4" y2="596.5" stroke="#000" stroke-width="1.1"/>
<polygon points="515.4,596.5 508.2,593.2 508.2,599.8" fill="#000"/>
<circle cx="553.7" cy="520.6" r="1.9" fill="#000"/>
<text x="558.9" y="523.04" font-size="6.5">Control</text>
<rect x="551.9" y="526.6" width="3.6" height="3.6" fill="#ff1f6b"/>
<text x="558.9" y="530.84" font-size="6.5">2-DG</text>
<line x1="548.4" y1="539.7" x2="548.4" y2="582.5" stroke="#000" stroke-width="0.9"/>
<line x1="548" y1="582.1" x2="595.8" y2="582.1" stroke="#000" stroke-width="0.9"/>
<line x1="546.2" y1="582.1" x2="548.4" y2="582.1" stroke="#000" stroke-width="0.8"/>
<text x="545.5" y="584.33" font-size="6.2" text-anchor="end">0</text>
<line x1="546.2" y1="573.9" x2="548.4" y2="573.9" stroke="#000" stroke-width="0.8"/>
<text x="545.5" y="576.13" font-size="6.2" text-anchor="end">5</text>
<line x1="546.2" y1="565.3" x2="548.4" y2="565.3" stroke="#000" stroke-width="0.8"/>
<text x="545.5" y="567.53" font-size="6.2" text-anchor="end">10</text>
<line x1="546.2" y1="557.1" x2="548.4" y2="557.1" stroke="#000" stroke-width="0.8"/>
<text x="545.5" y="559.33" font-size="6.2" text-anchor="end">15</text>
<line x1="546.2" y1="548.7" x2="548.4" y2="548.7" stroke="#000" stroke-width="0.8"/>
<text x="545.5" y="550.93" font-size="6.2" text-anchor="end">20</text>
<line x1="546.2" y1="540" x2="548.4" y2="540" stroke="#000" stroke-width="0.8"/>
<text x="545.5" y="542.23" font-size="6.2" text-anchor="end">25</text>
<line x1="562.4" y1="582.1" x2="562.4" y2="584.3" stroke="#000" stroke-width="0.8"/>
<line x1="582.7" y1="582.1" x2="582.7" y2="584.3" stroke="#000" stroke-width="0.8"/>
<text x="532.8" y="564.5" font-size="6.4" text-anchor="middle" transform="rotate(-90 532.8 562.2)">% of IFN-γ<tspan font-size="70%" dy="-0.4em">+</tspan><tspan dy="0.28em"> cells</tspan></text>
<text x="572.65" y="542.18" font-size="8.8" letter-spacing="0.5" text-anchor="middle">****</text>
<line x1="562.4" y1="540.7" x2="582.7" y2="540.7" stroke="#000" stroke-width="0.8"/>
<line x1="556.5" y1="548.9" x2="569.4" y2="548.9" stroke="#000" stroke-width="0.8"/>
<circle cx="557.7" cy="552.9" r="1.7" fill="#000"/>
<circle cx="560" cy="549.4" r="1.7" fill="#000"/>
<circle cx="562.4" cy="544.2" r="1.7" fill="#000"/>
<circle cx="563.5" cy="549.8" r="1.7" fill="#000"/>
<circle cx="565.9" cy="550.5" r="1.7" fill="#000"/>
<circle cx="568.2" cy="549.4" r="1.7" fill="#000"/>
<rect x="576" y="574.9" width="3.2" height="3.2" fill="#ff1f6b"/>
<rect x="580.6" y="575.3" width="3.2" height="3.2" fill="#ff1f6b"/>
<rect x="585.3" y="574.8" width="3.2" height="3.2" fill="#ff1f6b"/>
<rect x="576" y="578.6" width="3.2" height="3.2" fill="#ff1f6b"/>
<rect x="580.6" y="578.8" width="3.2" height="3.2" fill="#ff1f6b"/>
<rect x="585.3" y="578.4" width="3.2" height="3.2" fill="#ff1f6b"/>
</g><g id="pI">
<text x="383.6" y="623.2" font-size="12.5" text-anchor="middle" font-weight="bold">I</text>
<text x="424.1" y="628.44" font-size="9" text-anchor="middle">Control</text>
<text x="489.9" y="628.44" font-size="9" text-anchor="middle">2-DG</text>
<text x="381.6" y="665.1" font-size="8.6" text-anchor="middle" transform="rotate(-90 381.6 662)">IFN-<tspan font-style="italic">γ</tspan>-BV605</text>
<line x1="396.7" y1="635.7" x2="396.7" y2="691.6" stroke="#333" stroke-width="0.5"/>
<line x1="396.7" y1="691.6" x2="452.1" y2="691.6" stroke="#333" stroke-width="0.5"/>
<line x1="394.5" y1="637.7" x2="396.7" y2="637.7" stroke="#666" stroke-width="0.45"/>
<line x1="395.7" y1="640.3" x2="396.7" y2="640.3" stroke="#888" stroke-width="0.3"/>
<line x1="395.7" y1="642.03" x2="396.7" y2="642.03" stroke="#888" stroke-width="0.3"/>
<line x1="395.7" y1="643.32" x2="396.7" y2="643.32" stroke="#888" stroke-width="0.3"/>
<line x1="395.7" y1="644.45" x2="396.7" y2="644.45" stroke="#888" stroke-width="0.3"/>
<line x1="395.7" y1="645.49" x2="396.7" y2="645.49" stroke="#888" stroke-width="0.3"/>
<line x1="394.5" y1="646.35" x2="396.7" y2="646.35" stroke="#666" stroke-width="0.45"/>
<line x1="395.7" y1="648.95" x2="396.7" y2="648.95" stroke="#888" stroke-width="0.3"/>
<line x1="395.7" y1="650.68" x2="396.7" y2="650.68" stroke="#888" stroke-width="0.3"/>
<line x1="395.7" y1="651.97" x2="396.7" y2="651.97" stroke="#888" stroke-width="0.3"/>
<line x1="395.7" y1="653.1" x2="396.7" y2="653.1" stroke="#888" stroke-width="0.3"/>
<line x1="395.7" y1="654.13" x2="396.7" y2="654.13" stroke="#888" stroke-width="0.3"/>
<line x1="394.5" y1="655" x2="396.7" y2="655" stroke="#666" stroke-width="0.45"/>
<line x1="395.7" y1="657.6" x2="396.7" y2="657.6" stroke="#888" stroke-width="0.3"/>
<line x1="395.7" y1="659.33" x2="396.7" y2="659.33" stroke="#888" stroke-width="0.3"/>
<line x1="395.7" y1="660.62" x2="396.7" y2="660.62" stroke="#888" stroke-width="0.3"/>
<line x1="395.7" y1="661.75" x2="396.7" y2="661.75" stroke="#888" stroke-width="0.3"/>
<line x1="395.7" y1="662.78" x2="396.7" y2="662.78" stroke="#888" stroke-width="0.3"/>
<line x1="394.5" y1="663.65" x2="396.7" y2="663.65" stroke="#666" stroke-width="0.45"/>
<line x1="395.7" y1="666.25" x2="396.7" y2="666.25" stroke="#888" stroke-width="0.3"/>
<line x1="395.7" y1="667.98" x2="396.7" y2="667.98" stroke="#888" stroke-width="0.3"/>
<line x1="395.7" y1="669.27" x2="396.7" y2="669.27" stroke="#888" stroke-width="0.3"/>
<line x1="395.7" y1="670.4" x2="396.7" y2="670.4" stroke="#888" stroke-width="0.3"/>
<line x1="395.7" y1="671.44" x2="396.7" y2="671.44" stroke="#888" stroke-width="0.3"/>
<line x1="394.5" y1="672.3" x2="396.7" y2="672.3" stroke="#666" stroke-width="0.45"/>
<line x1="395.7" y1="674.9" x2="396.7" y2="674.9" stroke="#888" stroke-width="0.3"/>
<line x1="395.7" y1="676.63" x2="396.7" y2="676.63" stroke="#888" stroke-width="0.3"/>
<line x1="395.7" y1="677.92" x2="396.7" y2="677.92" stroke="#888" stroke-width="0.3"/>
<line x1="395.7" y1="679.05" x2="396.7" y2="679.05" stroke="#888" stroke-width="0.3"/>
<line x1="395.7" y1="680.09" x2="396.7" y2="680.09" stroke="#888" stroke-width="0.3"/>
<line x1="394.5" y1="680.95" x2="396.7" y2="680.95" stroke="#666" stroke-width="0.45"/>
<line x1="395.7" y1="683.55" x2="396.7" y2="683.55" stroke="#888" stroke-width="0.3"/>
<line x1="395.7" y1="685.28" x2="396.7" y2="685.28" stroke="#888" stroke-width="0.3"/>
<line x1="395.7" y1="686.57" x2="396.7" y2="686.57" stroke="#888" stroke-width="0.3"/>
<line x1="395.7" y1="687.7" x2="396.7" y2="687.7" stroke="#888" stroke-width="0.3"/>
<line x1="395.7" y1="688.74" x2="396.7" y2="688.74" stroke="#888" stroke-width="0.3"/>
<line x1="394.5" y1="689.6" x2="396.7" y2="689.6" stroke="#666" stroke-width="0.45"/>
<line x1="400.7" y1="691.6" x2="400.7" y2="693.8" stroke="#666" stroke-width="0.45"/>
<line x1="405.44" y1="691.6" x2="405.44" y2="692.6" stroke="#888" stroke-width="0.3"/>
<line x1="408.6" y1="691.6" x2="408.6" y2="692.6" stroke="#888" stroke-width="0.3"/>
<line x1="410.97" y1="691.6" x2="410.97" y2="692.6" stroke="#888" stroke-width="0.3"/>
<line x1="413.02" y1="691.6" x2="413.02" y2="692.6" stroke="#888" stroke-width="0.3"/>
<line x1="414.92" y1="691.6" x2="414.92" y2="692.6" stroke="#888" stroke-width="0.3"/>
<text x="399.2" y="695.85" font-size="1.8" text-anchor="middle" fill="#555">10</text>
<line x1="416.5" y1="691.6" x2="416.5" y2="693.8" stroke="#666" stroke-width="0.45"/>
<line x1="421.24" y1="691.6" x2="421.24" y2="692.6" stroke="#888" stroke-width="0.3"/>
<line x1="424.4" y1="691.6" x2="424.4" y2="692.6" stroke="#888" stroke-width="0.3"/>
<line x1="426.77" y1="691.6" x2="426.77" y2="692.6" stroke="#888" stroke-width="0.3"/>
<line x1="428.82" y1="691.6" x2="428.82" y2="692.6" stroke="#888" stroke-width="0.3"/>
<line x1="430.72" y1="691.6" x2="430.72" y2="692.6" stroke="#888" stroke-width="0.3"/>
<text x="415" y="695.85" font-size="1.8" text-anchor="middle" fill="#555">10</text>
<line x1="432.3" y1="691.6" x2="432.3" y2="693.8" stroke="#666" stroke-width="0.45"/>
<line x1="437.04" y1="691.6" x2="437.04" y2="692.6" stroke="#888" stroke-width="0.3"/>
<line x1="440.2" y1="691.6" x2="440.2" y2="692.6" stroke="#888" stroke-width="0.3"/>
<line x1="442.57" y1="691.6" x2="442.57" y2="692.6" stroke="#888" stroke-width="0.3"/>
<line x1="444.62" y1="691.6" x2="444.62" y2="692.6" stroke="#888" stroke-width="0.3"/>
<line x1="446.52" y1="691.6" x2="446.52" y2="692.6" stroke="#888" stroke-width="0.3"/>
<text x="430.8" y="695.85" font-size="1.8" text-anchor="middle" fill="#555">10</text>
<line x1="448.1" y1="691.6" x2="448.1" y2="693.8" stroke="#666" stroke-width="0.45"/>
<text x="446.6" y="695.85" font-size="1.8" text-anchor="middle" fill="#555">10</text>
<text x="393.1" y="638.35" font-size="1.8" text-anchor="middle" fill="#555">10</text>
<text x="393.1" y="647" font-size="1.8" text-anchor="middle" fill="#555">10</text>
<text x="393.1" y="655.65" font-size="1.8" text-anchor="middle" fill="#555">10</text>
<text x="393.1" y="664.3" font-size="1.8" text-anchor="middle" fill="#555">10</text>
<text x="393.1" y="672.95" font-size="1.8" text-anchor="middle" fill="#555">10</text>
<text x="393.1" y="681.6" font-size="1.8" text-anchor="middle" fill="#555">10</text>
<text x="393.1" y="690.25" font-size="1.8" text-anchor="middle" fill="#555">10</text>
<line x1="461.4" y1="635.7" x2="461.4" y2="691.6" stroke="#333" stroke-width="0.5"/>
<line x1="461.4" y1="691.6" x2="517.5" y2="691.6" stroke="#333" stroke-width="0.5"/>
<line x1="459.2" y1="637.7" x2="461.4" y2="637.7" stroke="#666" stroke-width="0.45"/>
<line x1="460.4" y1="640.3" x2="461.4" y2="640.3" stroke="#888" stroke-width="0.3"/>
<line x1="460.4" y1="642.03" x2="461.4" y2="642.03" stroke="#888" stroke-width="0.3"/>
<line x1="460.4" y1="643.32" x2="461.4" y2="643.32" stroke="#888" stroke-width="0.3"/>
<line x1="460.4" y1="644.45" x2="461.4" y2="644.45" stroke="#888" stroke-width="0.3"/>
<line x1="460.4" y1="645.49" x2="461.4" y2="645.49" stroke="#888" stroke-width="0.3"/>
<line x1="459.2" y1="646.35" x2="461.4" y2="646.35" stroke="#666" stroke-width="0.45"/>
<line x1="460.4" y1="648.95" x2="461.4" y2="648.95" stroke="#888" stroke-width="0.3"/>
<line x1="460.4" y1="650.68" x2="461.4" y2="650.68" stroke="#888" stroke-width="0.3"/>
<line x1="460.4" y1="651.97" x2="461.4" y2="651.97" stroke="#888" stroke-width="0.3"/>
<line x1="460.4" y1="653.1" x2="461.4" y2="653.1" stroke="#888" stroke-width="0.3"/>
<line x1="460.4" y1="654.13" x2="461.4" y2="654.13" stroke="#888" stroke-width="0.3"/>
<line x1="459.2" y1="655" x2="461.4" y2="655" stroke="#666" stroke-width="0.45"/>
<line x1="460.4" y1="657.6" x2="461.4" y2="657.6" stroke="#888" stroke-width="0.3"/>
<line x1="460.4" y1="659.33" x2="461.4" y2="659.33" stroke="#888" stroke-width="0.3"/>
<line x1="460.4" y1="660.62" x2="461.4" y2="660.62" stroke="#888" stroke-width="0.3"/>
<line x1="460.4" y1="661.75" x2="461.4" y2="661.75" stroke="#888" stroke-width="0.3"/>
<line x1="460.4" y1="662.78" x2="461.4" y2="662.78" stroke="#888" stroke-width="0.3"/>
<line x1="459.2" y1="663.65" x2="461.4" y2="663.65" stroke="#666" stroke-width="0.45"/>
<line x1="460.4" y1="666.25" x2="461.4" y2="666.25" stroke="#888" stroke-width="0.3"/>
<line x1="460.4" y1="667.98" x2="461.4" y2="667.98" stroke="#888" stroke-width="0.3"/>
<line x1="460.4" y1="669.27" x2="461.4" y2="669.27" stroke="#888" stroke-width="0.3"/>
<line x1="460.4" y1="670.4" x2="461.4" y2="670.4" stroke="#888" stroke-width="0.3"/>
<line x1="460.4" y1="671.44" x2="461.4" y2="671.44" stroke="#888" stroke-width="0.3"/>
<line x1="459.2" y1="672.3" x2="461.4" y2="672.3" stroke="#666" stroke-width="0.45"/>
<line x1="460.4" y1="674.9" x2="461.4" y2="674.9" stroke="#888" stroke-width="0.3"/>
<line x1="460.4" y1="676.63" x2="461.4" y2="676.63" stroke="#888" stroke-width="0.3"/>
<line x1="460.4" y1="677.92" x2="461.4" y2="677.92" stroke="#888" stroke-width="0.3"/>
<line x1="460.4" y1="679.05" x2="461.4" y2="679.05" stroke="#888" stroke-width="0.3"/>
<line x1="460.4" y1="680.09" x2="461.4" y2="680.09" stroke="#888" stroke-width="0.3"/>
<line x1="459.2" y1="680.95" x2="461.4" y2="680.95" stroke="#666" stroke-width="0.45"/>
<line x1="460.4" y1="683.55" x2="461.4" y2="683.55" stroke="#888" stroke-width="0.3"/>
<line x1="460.4" y1="685.28" x2="461.4" y2="685.28" stroke="#888" stroke-width="0.3"/>
<line x1="460.4" y1="686.57" x2="461.4" y2="686.57" stroke="#888" stroke-width="0.3"/>
<line x1="460.4" y1="687.7" x2="461.4" y2="687.7" stroke="#888" stroke-width="0.3"/>
<line x1="460.4" y1="688.74" x2="461.4" y2="688.74" stroke="#888" stroke-width="0.3"/>
<line x1="459.2" y1="689.6" x2="461.4" y2="689.6" stroke="#666" stroke-width="0.45"/>
<line x1="465.4" y1="691.6" x2="465.4" y2="693.8" stroke="#666" stroke-width="0.45"/>
<line x1="470.21" y1="691.6" x2="470.21" y2="692.6" stroke="#888" stroke-width="0.3"/>
<line x1="473.42" y1="691.6" x2="473.42" y2="692.6" stroke="#888" stroke-width="0.3"/>
<line x1="475.82" y1="691.6" x2="475.82" y2="692.6" stroke="#888" stroke-width="0.3"/>
<line x1="477.91" y1="691.6" x2="477.91" y2="692.6" stroke="#888" stroke-width="0.3"/>
<line x1="479.83" y1="691.6" x2="479.83" y2="692.6" stroke="#888" stroke-width="0.3"/>
<text x="463.9" y="695.85" font-size="1.8" text-anchor="middle" fill="#555">10</text>
<line x1="481.43" y1="691.6" x2="481.43" y2="693.8" stroke="#666" stroke-width="0.45"/>
<line x1="486.24" y1="691.6" x2="486.24" y2="692.6" stroke="#888" stroke-width="0.3"/>
<line x1="489.45" y1="691.6" x2="489.45" y2="692.6" stroke="#888" stroke-width="0.3"/>
<line x1="491.86" y1="691.6" x2="491.86" y2="692.6" stroke="#888" stroke-width="0.3"/>
<line x1="493.94" y1="691.6" x2="493.94" y2="692.6" stroke="#888" stroke-width="0.3"/>
<line x1="495.86" y1="691.6" x2="495.86" y2="692.6" stroke="#888" stroke-width="0.3"/>
<text x="479.93" y="695.85" font-size="1.8" text-anchor="middle" fill="#555">10</text>
<line x1="497.47" y1="691.6" x2="497.47" y2="693.8" stroke="#666" stroke-width="0.45"/>
<line x1="502.28" y1="691.6" x2="502.28" y2="692.6" stroke="#888" stroke-width="0.3"/>
<line x1="505.48" y1="691.6" x2="505.48" y2="692.6" stroke="#888" stroke-width="0.3"/>
<line x1="507.89" y1="691.6" x2="507.89" y2="692.6" stroke="#888" stroke-width="0.3"/>
<line x1="509.97" y1="691.6" x2="509.97" y2="692.6" stroke="#888" stroke-width="0.3"/>
<line x1="511.9" y1="691.6" x2="511.9" y2="692.6" stroke="#888" stroke-width="0.3"/>
<text x="495.97" y="695.85" font-size="1.8" text-anchor="middle" fill="#555">10</text>
<line x1="513.5" y1="691.6" x2="513.5" y2="693.8" stroke="#666" stroke-width="0.45"/>
<text x="512" y="695.85" font-size="1.8" text-anchor="middle" fill="#555">10</text>
<text x="457.8" y="638.35" font-size="1.8" text-anchor="middle" fill="#555">10</text>
<text x="457.8" y="647" font-size="1.8" text-anchor="middle" fill="#555">10</text>
<text x="457.8" y="655.65" font-size="1.8" text-anchor="middle" fill="#555">10</text>
<text x="457.8" y="664.3" font-size="1.8" text-anchor="middle" fill="#555">10</text>
<text x="457.8" y="672.95" font-size="1.8" text-anchor="middle" fill="#555">10</text>
<text x="457.8" y="681.6" font-size="1.8" text-anchor="middle" fill="#555">10</text>
<text x="457.8" y="690.25" font-size="1.8" text-anchor="middle" fill="#555">10</text>
<path d="M414.8 668.3h0M424.9 657.8h0M408 659.1h0M417.1 665.7h0M413.5 655.2h0M421.3 665.4h0M423.6 660.5h0M408.8 666.3h0M409.2 661.2h0M421.7 659.5h0M420.5 653.2h0M410.3 659.1h0M423.5 660.9h0M409.8 661h0M408.6 664.9h0M409.9 666.6h0M408.3 667.5h0M413.4 668h0M420 666.2h0M414.3 656.8h0M409.7 658.2h0M419.4 665.2h0M410.3 667h0M412.4 665.8h0M415.4 653.7h0M410 659.4h0M424.9 658.9h0M424.2 658.9h0M424.6 659.2h0M408.9 661.7h0M422.1 663h0M408.2 662.7h0M410.3 667.8h0M412.5 654.6h0M410 660.5h0M409.7 661.9h0M408.7 667.8h0M419.8 663.8h0M412.3 666.3h0M421 663.7h0M413.6 655.8h0M411.3 655.4h0M407.5 662.9h0M420.4 666.4h0M423.7 657.8h0M410.9 658.8h0M420.9 655.9h0M424.6 663.7h0M423 658.5h0M415.9 668.1h0M414.9 666.4h0M417.6 655.5h0M408.9 660.9h0M422.8 662.9h0M426 659.5h0M420.9 655.7h0M422.7 660.9h0M416.3 654.7h0M418.1 654.9h0M412 656h0M416.3 667.8h0M417.5 664.8h0M417.7 666.2h0M410.3 660.1h0M412.9 658.2h0M419.5 653.5h0M413.5 655.1h0M414 656.5h0M420.3 655.1h0M421.2 664h0M416.4 666.2h0M409.4 661.5h0M425.4 658.1h0M410.6 659.2h0M410.6 659.3h0M422.2 657.2h0M419.1 668.1h0M415.7 668.4h0M411.6 663.6h0M422.4 658.1h0M409.9 665.2h0M418.4 655.4h0M426.7 659.7h0M414.2 666.2h0M420.6 665.8h0M415.7 668.9h0M423.2 659.6h0M410.2 663h0M423.8 654.1h0M411.4 667.4h0M411.4 659.6h0M411.2 657.4h0M414.4 655.5h0M410.3 663.1h0M410.8 662h0M413.3 656h0M422.7 660.4h0M408.2 661.6h0M421 656.6h0M408.5 664.8h0M408.1 661.3h0M421.1 662.1h0M422.4 658h0M415.5 656h0M421.9 659.2h0M412.5 654.2h0M423 660.3h0M423.4 656.9h0M416.5 667.9h0M415.6 668.4h0M420 661.5h0M422.7 661.1h0M413.1 668.3h0M421 663.4h0M410.1 663.7h0M411.5 658.9h0M409.6 662.2h0M410.8 657.7h0M410 666.6h0M405.9 667.9h0M418.7 665.2h0M411.9 666.5h0M422.4 665.7h0M410.6 657.8h0M407.7 657.6h0M405.9 664.8h0M422.5 663.7h0M410.2 664.5h0M423 664.2h0M407.1 664h0M417.3 666.5h0M411 670.5h0M421.3 656.6h0M421.4 652.7h0M425.3 660.3h0M414.8 655.7h0M411.5 658.5h0M410.4 661h0M416.8 667.3h0M420.7 656.7h0M408.6 662h0M409.8 663.6h0M410.4 657h0M423.8 660.2h0M410.1 659.1h0M411.7 658.8h0M419.5 656.6h0M416.3 654.4h0M412.4 658.8h0M424 658.5h0M423.2 661.7h0M415.2 666.7h0M414.9 655.7h0M412.5 657.8h0M409.8 661.1h0M411.9 656.6h0M413.7 667.1h0M414.3 667.4h0M407.6 667h0M407.1 660h0M411.5 665.8h0M424.9 660h0M410.3 657h0M412.3 656.9h0M418.3 648.2h0M419.4 653.5h0M418 660.4h0M419.5 647.6h0M418.1 644.8h0M419.8 647.4h0M419.2 661.9h0M416.5 652h0M417.4 644.3h0M418 647.9h0M421.6 646.5h0M416.3 649.4h0M416.9 646.2h0M418.3 652.7h0M419.1 648.9h0M410.3 651.9h0M415.9 646.3h0M414.7 654.4h0M411.9 648.5h0M415.4 648h0M420.4 644.9h0M414.9 650h0M410.9 652.3h0M416.3 653.5h0M414.8 643.9h0M418.1 646.5h0M416.4 647.1h0M421 651.9h0M417.1 658.2h0M415.4 653.2h0M417 649.2h0M419.2 649.3h0M419.2 650.9h0M418.2 652.1h0M412.8 649.9h0M420.5 663.1h0M417.5 651.5h0M416.6 650h0M417.9 648.4h0M420.8 650.6h0M415.8 651.7h0M414.7 650.5h0M419.7 652.2h0M416.8 653.7h0M407.2 650.5h0M413.6 646.8h0M415.5 654.2h0M416 657.7h0M421.8 646.8h0M412.5 653.4h0M415.1 656.8h0M418.4 649.3h0M424.8 656.4h0M411.9 646.9h0M419.7 644.1h0M418.4 651.8h0M412.4 655.9h0M416.4 647.2h0M420 655.5h0M417.1 649.4h0M415.9 651.7h0M416.1 650.3h0M415.2 651.6h0M424.1 653.6h0M420.6 657.5h0M416.2 646.4h0M414.5 652.7h0M416 655.2h0M419.3 654h0M414.7 650.1h0M419 649.1h0M413.3 645.4h0M416.3 644.8h0M413.5 651.1h0M416.5 648.6h0M411.3 647h0M413.3 651.3h0M414.7 643.5h0M414.7 654.8h0M418.3 644.9h0M419.1 662.9h0M414.2 654.8h0M420.9 652h0M410.4 647.1h0M416.7 650.8h0M415.1 653.7h0M415.6 646.8h0M417.4 642.3h0M425.2 652.4h0M418.7 651.2h0M421.3 653.5h0M418.9 649.1h0M409.5 645.7h0M416.9 646.9h0M410.1 652.1h0M419 646.7h0M415.6 649.3h0M412.3 654.4h0M418.5 650.7h0M416.1 649.7h0M418.7 656h0M418 654.3h0M420 648.1h0M416.2 648.6h0M413 649.2h0M413.2 650.5h0M420.4 652.2h0M413.9 655.1h0M416.4 658.8h0M411.1 651.8h0M414.2 649.6h0M414.4 651.3h0M413.8 649.3h0M415.4 664.2h0M420.1 649.1h0M411.5 647.1h0M414.5 646.9h0M411.2 649.9h0M419.4 651.6h0M420 652.6h0M419.8 650.7h0M418.4 652.7h0M418.8 649.5h0M412.8 655.2h0M417.2 652.8h0M413 652.7h0M417.2 653h0M418.8 651.2h0M413.5 653.4h0M415.6 654.7h0M417.1 646.8h0M415.6 643.4h0M421 647h0M413.8 645.7h0M411.9 655.8h0M417.7 653.5h0M419.1 653.4h0M420.1 646.7h0M422.8 650.8h0M418.5 650.9h0M416 650.1h0M417.8 644.1h0M420.8 648.7h0M414.6 651.2h0M414.9 655.1h0M417.6 647.8h0M412.3 649.1h0M417.2 656.2h0M416.1 653.6h0M418.6 659.4h0M418.3 672.1h0M413.5 667.1h0M416.6 676.9h0M412.5 672.1h0M414.4 672h0M415.2 666.8h0M416.9 666.8h0M417.4 668.2h0M411.5 660.4h0M414.4 679.6h0M415.8 670.9h0M413.7 668.4h0M420.6 674.8h0M413.8 659.9h0M417.8 674.5h0M413.7 668.9h0M417.9 674.4h0M413 673.4h0M413.3 672.9h0M411.7 671h0M416 676.7h0M418.7 663.8h0M417.4 659.8h0M410.7 671.8h0M416.7 666.5h0M416.3 665.3h0M414.5 669.8h0M415.8 666.5h0M412.9 673.6h0M416.5 657.3h0M418.8 665.5h0M415.1 677h0M414.2 667.7h0M418 668.6h0M408.6 668.8h0M416.7 676.1h0M421.7 665.4h0M411.9 673.7h0M414.9 670.1h0M420.9 665.8h0M417.7 669.2h0M411 668.4h0M419.5 663.4h0M420 673.5h0M415.1 673.3h0M414.9 670.9h0M415 676h0M414 673.6h0M412.7 671.6h0M417.2 674h0M415.7 671.9h0M410 669.4h0M416.1 681.4h0M413.9 675h0M416.6 665.7h0M409.7 671.2h0M418.7 673.3h0M415 676.6h0M411.9 668.6h0M414.2 682h0M420.6 668.4h0M412.1 665.5h0M419.7 673.3h0M413.6 672.4h0M414.9 666.6h0M417 669.6h0M415.7 676.6h0M416.9 672.9h0M415 667.5h0M418.9 676.8h0M418.4 665.6h0M414.4 668.1h0M420.2 666.3h0M417.2 665.2h0M416.4 676.6h0M413.1 675.6h0M417.2 673.6h0M414.6 670.1h0M417.8 676.3h0M411.1 674.1h0M419.5 670.3h0M414.2 666.9h0M413.9 668h0M418.3 666.7h0M416.1 676.2h0M416.4 670h0M420.7 670.6h0M413.7 670.9h0M416 675.6h0M415.4 664h0M413.3 671h0M414.6 672.3h0M412.9 676.4h0M422.7 672.3h0M419 671.6h0M415.1 677h0M415.7 677.8h0M421.8 673.8h0M421 666.2h0M415.5 668.4h0M413.4 666.4h0M416.9 665.7h0M416.5 666.8h0M417.6 671.6h0M418.5 670.8h0M417.1 673.3h0M420.9 668.4h0M415.2 671.6h0M416.1 670.6h0M416 665.7h0M415.9 661.8h0M410.6 650.6h0M405.8 664.8h0M418.4 665.9h0M413.3 662.7h0M423.1 660.5h0M424.3 661h0M419.6 665.5h0M418.5 656h0M415.3 672.9h0M415.4 675.6h0M418.5 661.5h0M424.1 660.7h0M407.3 657.4h0M413.3 672.6h0M414.4 672.8h0M404.7 661.2h0M426.1 658.5h0M420.3 666.2h0M421.6 657.6h0M418.1 667.5h0M418 662.8h0M415.8 660.6h0M412.5 663.9h0M418 655.6h0M409.2 664.1h0M419.6 667h0M418.4 666.7h0M421.2 647.6h0M425.9 657.8h0M422.1 662.6h0M412.9 665.4h0M408.4 663.1h0M423.9 661.3h0M425.1 664.4h0M424 657.4h0M418.9 644.4h0M420.4 658.5h0M411.7 656.6h0M410.8 660.2h0M421.4 661.6h0M427.8 663.2h0M417 659h0M409.3 651.4h0M411 654.6h0M411.1 661.6h0M415.3 663.2h0M415.2 664.9h0M411.7 663.5h0M410.4 678.5h0" stroke="#5d79f0" stroke-width="0.56" stroke-linecap="round" fill="none" clip-path="url(#c3)"/>
<path d="M419.8 660.1h0M420.9 662h0M413.1 664.8h0M412.6 664.2h0M418.8 665.4h0M422.2 662.3h0M418.2 655.4h0M412.8 660.7h0M422.3 657.8h0M419.6 657.5h0M421.7 658.4h0M421.6 662h0M419.7 664.2h0M419 656.4h0M421 664.2h0M421.8 657.7h0M412.4 665.9h0M416.6 654.7h0M411 659.6h0M409.9 663.9h0M411.8 658.9h0M416.7 655.6h0M418 665.8h0M410.9 664.3h0M412.1 658.2h0M411.2 665.6h0M410.6 665.2h0M412.2 660.5h0M413 662.7h0M422 662.6h0M409.9 662.7h0M419.9 662.9h0M420 665.7h0M412.3 658.6h0M414 664.1h0M422.6 661.1h0M415.8 666.7h0M414.7 666h0M416.7 656.5h0M412.5 666.2h0M415.9 666.4h0M413.8 665.5h0M418.7 657.2h0M416 665.7h0M419.7 666.3h0M422.2 661.1h0M421.9 661.5h0M412.3 667.2h0M412.6 661h0M411.2 665.9h0M415.3 656.8h0M414.4 665.5h0M418.7 664.8h0M416.7 665.6h0M417 656h0M412.3 666h0M420 660.3h0M421.8 663.2h0M417.6 665.6h0M411.5 665.6h0M419.2 663.8h0M414.2 656.9h0M422.4 660.9h0M420.8 658.4h0M415 665.5h0M419.2 663.8h0M420.9 658h0M419.7 655.3h0M422.4 658.1h0M411.9 663.5h0M419.5 662.8h0M413.1 664.6h0M419.2 656.1h0M412.8 665.1h0M420.8 663.9h0M410.9 663.1h0M417.7 656.6h0M420.3 658h0M420.2 663.9h0M413.3 663.8h0M416.1 658.5h0M411.8 660.4h0M419.5 657.7h0M421.5 658.2h0M420.7 664.4h0M414.3 665.9h0M418.4 657.1h0M410.7 659.2h0M413.3 659.3h0M412 661.5h0M415.7 657h0M418.6 665.5h0M409.1 662.3h0M416.6 664.3h0M422 660.3h0M423 659.9h0M414.4 666.8h0M421.7 661.9h0M411.3 661.8h0M413.8 666.3h0M419.9 656.4h0M420.8 661.7h0M418.8 656.9h0M420.8 662.3h0M417.3 665.5h0M414.1 657.3h0M419.5 665.3h0M421.7 657.7h0M419.2 665.3h0M416.7 665.9h0M415.2 666.7h0M419.6 663.3h0M422.6 660.8h0M422.7 657.7h0M419.8 663.8h0M422.1 661.9h0M420.2 658.4h0M412.3 667.1h0M412.4 657.9h0M421.9 658.9h0M421 664.3h0M422.3 659.1h0M411.8 666.6h0M416.2 664.9h0M410.6 663.9h0M413.8 666.5h0M416.2 656.6h0M421.9 661.8h0M411 663h0M419.6 664h0M421.2 658.6h0M412.9 658.4h0M410.3 663.8h0M415.1 666.4h0M411.7 666.9h0M413.9 657.8h0M420.5 658.2h0M417.2 654.7h0M420.4 659h0M421.6 659.7h0M414.6 665.7h0M417.7 657.6h0M409.7 661.2h0M415.8 655.4h0M422 659.6h0M416.2 664h0M412.4 657.6h0M422 662.4h0M421.8 659.8h0M422.3 662.9h0M416.6 665.1h0M411.5 660.7h0M415.9 655.4h0" stroke="#4a86ec" stroke-width="0.62" stroke-linecap="round" fill="none" clip-path="url(#c3)"/>
<path d="M414.8 665.1h0M414 663.4h0M418.6 659.6h0M414.2 664.3h0M411.9 662.4h0M416.5 656.7h0M414.2 659.5h0M419 657.1h0M412.4 665h0M418.9 660.6h0M418.3 656.9h0M413 657.9h0M417.4 656.8h0M413.7 660.7h0M419.1 659.1h0M415.3 665.4h0M417.5 664h0M417.7 657.4h0M412.8 658.7h0M418.3 657h0M418.8 657.5h0M414.5 656.8h0M412 658.7h0M415.3 663.4h0M420.1 664.5h0M412.7 659.8h0M413.5 661.6h0M415.5 664.2h0M415.9 656.7h0M417.6 657h0M412.7 663.2h0M411.4 662.7h0M416.6 657h0M414.6 659.3h0M413.2 657h0M411.2 663.8h0M413.4 660.8h0M414.8 658.6h0M421.3 661.1h0M415.9 662.7h0M420.6 660.6h0M414.9 658.6h0M418.4 657.7h0M419.8 662.1h0M416.7 657h0M417.3 664.3h0M418.2 658.4h0M412.4 663.5h0M414.9 665.3h0M417.4 658.1h0M412.3 665.2h0M412.2 662.3h0M420.8 659.8h0M419.8 661.3h0M420.1 662.5h0M413.8 658.8h0M415.7 657.9h0M420.3 661h0M415.8 657.7h0M421.5 660h0M415.1 657.3h0M414.6 664.4h0M412.7 662.6h0M420.7 657.8h0M415 663.4h0M421.7 660.3h0M420.1 657.6h0M420.9 659.7h0M413.2 664.9h0M414.5 656.9h0M419.3 662.6h0M414.6 664.5h0M414.5 664.2h0M417.3 656.6h0M413 663.1h0M423.2 660.3h0M414.9 658.6h0M411.9 659.5h0M414.6 664.2h0M414.1 659.4h0M412.2 659.7h0M413.1 662.9h0M418.2 664h0M417.3 664.7h0M415.8 663.8h0M414.4 658.8h0M421.3 658.4h0M413 664.4h0M412.8 660h0M420.2 658.4h0M417.2 665.5h0M413.2 663.4h0M412.2 663h0M413.2 664.1h0M420.2 659h0M420.2 660.7h0M415.1 657.1h0M416.2 665h0M417.1 657.4h0M413.2 659.8h0M419.5 664.6h0M420.6 661.2h0M414.2 658.2h0M420.9 659.7h0M413.3 659.4h0M415.6 664.7h0M418.5 657.4h0M410.6 662.6h0M415.1 658.2h0M413 664.8h0M417 664.9h0M416.1 665.3h0M419.9 660.3h0M415.4 664.2h0M418.7 663.4h0M419.9 656.9h0M412.6 666.3h0M421.5 663.7h0M413.9 662.4h0M415.5 664.3h0M421.4 660.6h0M420.5 657.6h0M415 658.7h0M419.1 657.8h0M419.6 659.1h0M415 663.9h0M416 664.9h0M415.4 663.7h0M414.9 657.6h0M416.6 663h0M420.7 660h0M412.7 664.2h0M413.9 663.6h0M415.4 666.3h0M411.7 662.3h0M411.7 662.6h0M419 661.5h0M414.9 658.4h0M411.4 662.6h0M418.6 657.7h0M415.2 663.1h0M419.8 661.5h0M419.3 658.5h0M416.8 657.7h0M413 658.3h0M419.2 657.5h0M413.6 664.6h0" stroke="#3fc1c4" stroke-width="0.68" stroke-linecap="round" fill="none" clip-path="url(#c3)"/>
<path d="M413.6 662h0M412.7 661h0M416.7 658.8h0M417.6 659.5h0M414.7 663.6h0M420.7 660.8h0M413.2 659.2h0M417 658.5h0M412.5 662.4h0M416.2 659.5h0M413.7 662.1h0M412.7 661h0M413.9 661.4h0M418.8 660.1h0M414.8 664.5h0M414.6 664.9h0M415.6 657.8h0M419.1 660h0M415.1 659h0M417.6 658.1h0M415.3 662.9h0M419.2 660.4h0M413.2 661.8h0M415.1 662.7h0M413.4 659.2h0M414.8 659.1h0M419 662.1h0M418.5 660.7h0M419 658.3h0M418.6 658.7h0M414.7 663.6h0M415.6 659.5h0M418 663.8h0M418.4 659.2h0M413.8 663.2h0M417.8 659.6h0M415.9 661.9h0M419.3 662.6h0M414.3 660.8h0M412.9 664h0M420.2 660.3h0M416.3 664.6h0M420.2 661.4h0M417.7 662.7h0M418.2 659.4h0M413.2 662.1h0M413.7 660h0M417.9 662.1h0M417.3 660.2h0M414 660.5h0M419.7 659.2h0M416.6 662.5h0M416.2 664.6h0M412.6 661.9h0M412.9 660.5h0M419 663h0M415.8 658h0M417.5 663h0M417.6 658.6h0M413.6 663.1h0M419.7 659.3h0M414.4 663.9h0M417.6 662.8h0M415.6 659.2h0M417.9 659.1h0M416.3 663.2h0M416.6 659.2h0M412.5 662.1h0M415.9 663.7h0M416.5 664.2h0M417.3 660.3h0M412.8 661.7h0M416.5 663.3h0M413.1 663.7h0M414.2 661.7h0M415 664.2h0M419.3 662.2h0M419.1 659.3h0M418.3 658.7h0M412.4 659.7h0M418.6 658.9h0M418 658.4h0M420.5 661.8h0M413.7 661.7h0M416.3 662.1h0M418.8 660h0M412.5 663.8h0M413.9 660.9h0M417.1 658.6h0M417.9 657.7h0M415.5 663.7h0M419 660.8h0M416.9 664h0M415.3 659.9h0M413.2 661.5h0M415.2 658.6h0M418.5 659.6h0M415.4 660.2h0M413.8 662.9h0M414.5 663.4h0M416.2 663.2h0M416.7 658.5h0M418.8 658.7h0M419.5 658h0M414.6 657.8h0M416.5 662.2h0M419.5 659.5h0M414 659.5h0M415 664.2h0M420 660.6h0M413.5 661.6h0M418.2 659.3h0M417.2 658.8h0M416.4 659.6h0M417.3 659.1h0M418.7 662.1h0M416.9 661.4h0M417.1 663.5h0M418.8 658.1h0M413.2 661.3h0M414.1 661.2h0M412.8 661.2h0M417.1 662.4h0M417.8 658.1h0M413.4 660.7h0M414.5 662.7h0M412.9 663.3h0M414.3 664.9h0M412.5 662.4h0M417.4 663.2h0M414.9 656.2h0M419.8 657.7h0M411.5 662.5h0M418.7 661.3h0M414.7 658.2h0M417.9 660.1h0M419.6 663.4h0M420.2 658.7h0M418.6 659.9h0M418.7 663.4h0M413.7 660.3h0M417.9 659.9h0M416 658.9h0M418.5 658.8h0M419.7 660.9h0M417.4 663.2h0M418.3 657.9h0M418.8 658h0M419.8 660h0M417.6 663.1h0M415.4 663.4h0M420.1 660.5h0M419 661.1h0M414.2 662.5h0M416.2 663h0M418.4 659.4h0M419.9 659.8h0M419.8 659.8h0M414 664.1h0M418.3 660.4h0M420.3 660.3h0M421.3 661.3h0M419.3 660.8h0M418.7 658.2h0M412.6 662.4h0M418.8 661.7h0M415.4 662.2h0M418.1 659.2h0M420.4 658.5h0M419.7 658.7h0M414.6 661.1h0M418.4 662.8h0M419.4 658.3h0M416.4 663.7h0M416.4 663.3h0M418.8 659.8h0M415.3 658.3h0M419.2 660h0M416.2 664.6h0M414.7 658.5h0M413.4 660.8h0M418.6 659.8h0M418.7 661h0M417.6 662.9h0M415.1 658.9h0M417.5 662.8h0M416.4 663.5h0M414 662h0M420.3 661.3h0M413.2 662.8h0M413.8 659.8h0M419.7 660.4h0M416.1 663.3h0M416.8 664.2h0M420.1 659.4h0M416.6 659.9h0M413.2 661.4h0M414.9 661.6h0M411.8 661.4h0M417 662.6h0M415 664.2h0M417.2 663.5h0M419 663h0M414 662.4h0M413.1 661.7h0M414.5 661.1h0M417.3 664.4h0M411.9 660.3h0M419.1 661.5h0M419.5 659.5h0M419.9 658.5h0M413.1 662.7h0M417.6 658.6h0M419.9 659.6h0M415.6 657.7h0M416.9 658.8h0M419.8 661.5h0M415.1 658.1h0M419.8 661.2h0M414 664h0M414.7 658.5h0M422.3 659.5h0M417.8 662.1h0M413.8 663.2h0M418.7 662.3h0M414.7 659.5h0M419.4 657h0" stroke="#5ccf58" stroke-width="0.72" stroke-linecap="round" fill="none" clip-path="url(#c3)"/>
<path d="M416 663.5h0M415.4 658.7h0M416.4 661.8h0M415.6 659.3h0M413.8 660.2h0M418.4 659.3h0M418.9 662h0M417.7 660.4h0M418.5 660.9h0M418.3 660h0M416.9 662.5h0M416.1 659.4h0M417.3 664.1h0M416.6 661.9h0M415.4 664.2h0M417.7 659.2h0M414.5 659.7h0M417.7 662.6h0M419 658.4h0M412.9 662.7h0M415 662.1h0M416.6 662.9h0M414.5 660h0M415.7 659.5h0M417.8 661.1h0M414.4 660.8h0M417 663h0M414.4 660.4h0M418 659.4h0M415.1 662h0M413.8 661.5h0M419 659.2h0M413.6 660.4h0M416.1 659.1h0M419.8 659.8h0M418.3 660.8h0M417.7 661.2h0M416.6 660.2h0M417.7 662.5h0M415.5 660.5h0M418.9 659.2h0M417.7 659.9h0M416.3 659.5h0M415 659.7h0M417.9 662.5h0M417.4 661.1h0M414.8 659.9h0M414.2 659.1h0M415 659.9h0M413.5 661.7h0M417.1 661.9h0M418.3 661.7h0M417.2 658.6h0M413.4 662.5h0M417.8 662.9h0M414.7 661.5h0M418.8 660h0M416.5 659.3h0M417.4 662.9h0M415 662.9h0M413.8 660.8h0M418 659.2h0M416.9 661h0M417.1 662.6h0M415.2 663.6h0M417.4 662.9h0M415.9 660.2h0M413.6 662.7h0M413.6 661.7h0M415 659.7h0M413.2 663h0M413.2 661.2h0M414.5 661.8h0M415.4 662.5h0M414.9 660h0M417.4 659.1h0M415.2 663.3h0M413.9 662.5h0M414.4 662.9h0M414.3 662.9h0M414.1 662.4h0M413.8 661.2h0M417.3 659h0M418.6 659.9h0M420.1 660.2h0M415.9 662.6h0M416.9 659.3h0M413.7 659.3h0M414.4 662.6h0M418.5 661.1h0M414.6 663.3h0M418.4 661.6h0M413.6 661.6h0M414 660.9h0M414.8 658.5h0M416.9 659.5h0M418.5 662.1h0M418.2 660.9h0M417.3 661.1h0M413.5 662.7h0M414.8 661.4h0M415.4 660.2h0M417.1 661.1h0M418.2 662.3h0M417.5 661.7h0M415.1 661.4h0M414.6 659.6h0M413.6 660.9h0M417.1 661.2h0M417.7 660.1h0M418.2 660.9h0M415.4 663.3h0" stroke="#d9d838" stroke-width="0.76" stroke-linecap="round" fill="none" clip-path="url(#c3)"/>
<path d="M417.3 662.5h0M415.5 661.9h0M416.9 662h0M416.3 660.8h0M414.7 661.5h0M417.8 659.4h0M416.3 661h0M416.1 660.8h0M415 660h0M414.9 660.7h0M414 660.5h0M417.6 659.2h0M415.9 662.6h0M417.7 660h0M416 662.8h0M416 662.8h0M415 661.4h0M414.7 662.6h0M415.3 660.5h0M418 660h0M414.7 660.4h0M415.8 661.1h0M416.5 661.1h0M416.5 662h0M416.7 660.9h0M416.1 661.4h0M416.4 660.6h0M415.1 662.2h0M416.1 659.9h0M416.6 661.3h0M417.1 660.5h0M417.7 661h0M416.6 660.5h0M416.4 661.9h0M418.6 658.5h0M417.6 661.3h0M415.8 661h0M414.5 661.3h0M416.6 662.9h0M418 659h0M417.4 660.5h0M416.7 660.7h0M418.5 660.3h0M415.1 661.2h0M417.4 660.8h0M415.7 659.6h0M414.4 660.8h0M416 660.4h0M416.7 660.4h0M416.7 661.2h0M417 660.7h0M415.6 661.6h0M415.9 660.8h0M415.8 661.6h0M417.7 659.4h0M417.2 661.4h0M417.5 660.5h0M414.4 662.6h0M417.9 661.3h0M415.1 660.4h0M417.6 661.1h0M416.3 660.5h0M418.1 659.4h0M417.5 659.1h0M417.9 659.7h0M418.3 661.8h0M415.4 661.4h0M417.3 661h0M415.9 661.5h0M415.6 661.6h0M418.2 662.4h0M416.7 661.6h0M417.7 661.3h0M416.6 659.9h0M414.9 661h0M417 660.7h0M417.9 662.2h0M416.8 659.1h0M417.4 660.2h0M415.6 660.9h0M417.2 660h0M415.6 661.1h0M416.6 660.3h0M416.5 659.5h0M416.5 661h0M417.4 661.8h0M416.7 659.9h0M416.9 659.2h0M415 659.6h0M416.4 660.4h0M414.4 661.3h0M416.6 662.4h0M415.2 660.1h0M417.3 659.5h0M416.2 660.5h0M417.5 660.8h0M416.5 660.3h0" stroke="#f77a2a" stroke-width="0.8" stroke-linecap="round" fill="none" clip-path="url(#c3)"/>
<path d="M480.6 670.3h0M474.8 670.6h0M474.7 657.4h0M487.1 660.4h0M474.5 668.7h0M487.2 665.6h0M489.1 660.4h0M487.1 663.8h0M472.7 664.7h0M474.5 659.2h0M470.7 664.1h0M481.6 656.7h0M489.8 657h0M474.1 664.3h0M483.2 668.5h0M480.8 672.5h0M488.5 665.3h0M480.7 656.6h0M485.2 669.1h0M471.5 661.7h0M472.3 660.7h0M482.7 670.1h0M484.7 659.4h0M488.5 660.3h0M478.1 672.5h0M475.5 659.2h0M475.6 657.5h0M489.6 661.3h0M481.5 655.7h0M481.3 670.7h0M473.9 664.7h0M470.5 666h0M483.5 667.6h0M489.6 662.2h0M486 656.2h0M477.7 656.9h0M485.1 666.9h0M486.5 667.8h0M470.9 664.4h0M488.7 663.1h0M489.6 657.4h0M484.7 657h0M476.2 669.6h0M488.8 661h0M480.4 653h0M476.5 659.7h0M474.9 667.5h0M492.8 660.3h0M482.4 656.4h0M489.7 661.4h0M485.9 662.1h0M472.3 663.9h0M473.4 673.1h0M471.4 659.9h0M476.6 656.8h0M481.5 657.3h0M488 660.8h0M472.7 664.6h0M482.3 668.2h0M488.2 657.3h0M481.2 669.9h0M489.2 657.5h0M482.8 655.4h0M471 666.6h0M484 658.7h0M480.3 668.2h0M474.4 658h0M487.7 664h0M473.7 658.6h0M490.1 661.8h0M474.5 669.8h0M486.9 655.6h0M486.8 661h0M475.8 659.9h0M475 666.8h0M479.7 657.3h0M474 659.7h0M486.9 663h0M488.5 663.7h0M485.9 668.2h0M473 669h0M472.9 659.7h0M485.8 655.2h0M480.8 669.5h0M473.7 669.6h0M476.9 669.6h0M478.6 654.6h0M470.1 667.3h0M485.5 670.3h0M472.1 661.9h0M476.3 668.6h0M487.6 664h0M484.9 658h0M474.3 671.8h0M488.1 661.1h0M474.6 660.2h0M487 660.9h0M473 664.9h0M473.8 665.5h0M480.5 657.7h0M484.7 667.7h0M473.2 661.7h0M484.5 666.8h0M477.6 671h0M481.6 654.8h0M483.2 668.5h0M483.7 668h0M473.6 662.8h0M482.9 656.1h0M487 667h0M489.4 665.5h0M470.5 659.6h0M481.2 668.4h0M474 666.5h0M473.9 668.2h0M488.8 659.6h0M473.3 664.1h0M480.7 656.8h0M476.9 671.5h0M482.7 655.4h0M478.4 673.1h0M473.3 663.9h0M488.2 660.5h0M484 670.1h0M480.8 656.9h0M487.3 660.4h0M474.9 671.3h0M484.2 666.2h0M479 653.6h0M472.2 665.4h0M486.7 656h0M485.1 653.4h0M471.8 665.9h0M470.1 664.2h0M472.9 658.1h0M487.9 659.5h0M486.4 666.1h0M478.1 671.4h0M473.1 668.9h0M485.1 658.5h0M475.3 668.8h0M475.1 657.2h0M476 662.9h0M490.1 668.8h0M488.3 659.2h0M478.5 670.4h0M476.4 672.3h0M476 671.7h0M475 658.1h0M484.9 669.3h0M471.8 671.6h0M490 661.8h0M474.2 659.3h0M475.6 668.5h0M489 662.8h0M479.4 655.4h0M484.6 658.4h0M482.7 668.3h0M491 657.4h0M491.4 665.6h0M472.8 666.7h0M471.7 662.9h0M478.2 668.1h0M478.4 658.2h0M476.8 671.1h0M483.9 656.6h0M481.4 670.4h0M474.3 667.3h0M471.8 667.3h0M471.9 668h0M486.4 658.7h0M484.3 667.7h0M473.3 661.8h0M484.4 667.4h0M471.9 666.5h0M475.5 670.3h0M476.5 668.2h0M491.9 661.2h0M474.3 662h0M481.4 655.8h0M472.7 665.2h0M487.3 659h0M485 655.7h0M482.2 657.6h0M472 664.8h0M476.1 654.7h0M485.7 657.9h0M469.6 659.6h0M484.4 668.5h0M490 664.9h0M473.9 662.9h0M475.1 658.3h0M486.9 671.2h0M477.9 651.3h0M482.1 670.1h0M469.5 666.3h0M470.8 663.8h0M487.2 663.7h0M482.5 657.8h0M479.5 655h0M486.5 667.1h0M470.6 668h0M470.7 665.5h0M470.8 668.3h0M473.6 663.7h0M480.2 657.4h0M481.3 655.5h0M475.5 667.6h0M484.7 649.7h0M482.8 653.9h0M478.4 657h0M487.9 647.7h0M482.4 653.3h0M484.8 650.3h0M481.9 650.1h0M484.3 653.6h0M482.4 652.6h0M480.7 654.7h0M478.8 657.6h0M477.9 657.6h0M478.3 653.8h0M477.4 654.3h0M482.2 651.2h0M480.6 658.3h0M486.8 652.3h0M482.9 655.2h0M482.8 653.4h0M481 655.1h0M482.2 653.8h0M484.5 652.2h0M479.9 650h0M478.2 658.5h0M483.2 650.6h0M483.1 654.8h0M478.6 647.3h0M483.2 643.5h0M485 657.9h0M477.3 653.3h0M477.3 650.9h0M476.1 655h0M479.4 654.5h0M480.6 655.5h0M476.6 661.1h0M478.4 653.1h0M477.4 654.5h0M479.2 655.1h0M478.8 647.8h0M479.3 646.9h0M479.1 654.1h0M479.5 651.7h0M479 645.7h0M480.5 650.9h0M480 649.3h0M486 657.1h0M479.7 653.3h0M477.3 654.6h0M481.7 652h0M481.2 650.8h0M481.5 653.7h0M479 647h0M480.8 650.1h0M478.7 649.3h0M478.5 655.2h0M482.1 651.2h0M480.7 654.3h0M480.1 652h0M476.8 651.2h0M479.8 652.9h0M477.8 656.5h0M478.4 647.5h0M475.4 658.6h0M484 652.5h0M480.1 654h0M476.9 652h0M482.4 659.1h0M478.9 651.1h0M478.7 656.7h0M480.7 651.6h0M480.4 656.2h0M483.1 649.7h0M477.7 654.6h0M479.1 654.2h0M481 654.2h0M482.4 652.2h0M477.2 651h0M481.5 654.4h0M483.3 654.7h0M483 656.9h0M481.1 652.2h0M483.7 648.7h0M482.5 656.4h0M479.2 654.7h0M476.9 659.7h0M478.3 654.8h0M484.1 657.9h0M479.7 655h0M480.2 659.3h0M482.2 655.1h0M479 650.5h0M477.1 645.4h0M483.7 658.3h0M475.3 651.3h0M481.1 653.9h0M482.1 651.2h0M481.9 651h0M484 647.4h0M483 659.2h0M476.2 650.7h0M480.8 680.5h0M477.8 674.4h0M474.7 688.1h0M479.4 686.3h0M477.4 676.3h0M477.3 667.8h0M477.5 676.2h0M479.1 671.6h0M478.9 685.5h0M478.3 679.6h0M482.4 673h0M484.5 676.5h0M476.8 666.9h0M484.4 673.3h0M478 666.5h0M488.2 676.6h0M481.6 676.7h0M483.9 681.4h0M484.1 671.8h0M481.3 674.9h0M481.6 676.9h0M482.7 685.4h0M478.1 674h0M483.1 673.8h0M480.9 674.8h0M477 679.5h0M480.7 667.7h0M485.1 672h0M483.2 670.9h0M478.7 676.6h0M480 671.6h0M477.4 677.3h0M477.9 680.1h0M478.8 675.5h0M479.1 675.6h0M478.5 673.3h0M479.7 679.5h0M482 675.2h0M477.6 676.7h0M476.4 672.1h0M478.6 671.6h0M478.7 673.2h0M481.9 672.7h0M485.7 683.7h0M478.6 674.1h0M481 676.5h0M477.6 672.6h0M472.9 669.9h0M481.4 670.3h0M475.7 669.6h0M484.5 669.2h0M487.7 673.9h0M478.1 669.5h0M483.3 665.9h0M476 679.8h0M483.5 669.9h0M478.9 676h0M479 670.3h0M480.3 676.2h0M483.3 666.2h0M480.8 677.8h0M477.4 679.1h0M481.7 675.3h0M478.9 662.6h0M483.8 675.2h0M478.1 670.3h0M480.5 672.7h0M478.8 670.4h0M477.6 667.6h0M485.4 673.8h0M479.3 676.3h0M481.4 664.5h0M476.8 673h0M477.4 672.2h0M484.7 669.2h0M480.2 675.4h0M481.4 679.6h0M476.1 667.6h0M477.2 670h0M477.6 681.8h0M480.2 672.2h0M483.5 672.9h0M479.9 677.4h0M478.2 667.6h0M481.9 672.4h0M474.3 675.9h0M478.5 680.9h0M482.1 673.7h0M478.7 663h0M475 671h0M479.4 683.4h0M479.8 674.7h0M485 670.7h0M482 673.8h0M471.9 672h0M475.6 677.4h0M479 663.1h0M481.5 673.7h0M479.3 681.2h0M478.9 666.6h0M484.3 668.8h0M479.1 669.4h0M477.1 679.5h0M475.7 678.2h0M482.6 678.5h0M478.8 682.1h0M479.9 672.9h0M476.4 666.9h0M483.8 674h0M479.1 670.3h0M481.5 676.7h0M485.3 669.5h0M480.7 679.7h0M479.4 677.2h0M477 669.6h0M480.3 673.5h0M484.6 674.6h0M477.9 670.6h0M479.9 664h0M481.1 673.8h0M481.5 675.7h0M480.9 680.4h0M488.1 672.5h0M481.2 673.4h0M483.6 677.2h0M485.1 667.4h0M484 668.4h0M471.8 674.4h0M476.7 669.3h0M477.1 670.9h0M487.7 681.3h0M478.3 671h0M478.8 674.2h0M472.6 680.1h0M482.3 677.9h0M481.9 681.5h0M483.5 677.4h0M478.8 670h0M479.3 663.7h0M484 678.3h0M478.8 664.8h0M483.1 664.8h0M481.3 682.8h0M477.5 676.5h0M478.7 670.8h0M481.3 667.3h0M480.3 673.1h0M485.4 671.5h0M483.6 675h0M478.5 676.7h0M491.1 677.5h0M480.1 663.8h0M491.2 664.4h0M483.9 658.1h0M480.4 659.5h0M486.5 682.6h0M470.5 673.1h0M482.4 651.2h0M473.8 664.4h0M485.6 665.6h0M481.3 657.9h0M473.9 663.4h0M474 679h0M482.6 663.2h0M489.6 662.8h0M474.4 661.1h0M474.9 667.6h0M473.7 665.4h0M478.6 653.2h0M485.4 661.6h0M487.6 670.6h0M478.3 660.8h0M468.1 661.9h0M480.7 664.9h0M479.8 656.4h0M488.8 662.4h0M484.8 678h0M498.8 661.3h0M470 658.6h0M482.9 667.6h0M476.3 663.5h0M482.8 657.7h0M465.9 666.6h0M474.4 666.4h0M476.6 659.2h0M481.6 661.2h0M477 662.7h0M480.3 663.2h0M475 670.5h0M476.4 663.6h0M493.9 654.2h0M488.7 665.4h0M471.4 675h0M470.5 674.9h0M479.4 660.7h0M484.2 663.1h0M471.7 654.5h0M483.2 663.9h0M474.7 669.1h0M485.6 680.6h0" stroke="#5d79f0" stroke-width="0.56" stroke-linecap="round" fill="none" clip-path="url(#c4)"/>
<path d="M479.1 668.1h0M479 669.1h0M481.4 657.9h0M480 669.2h0M478.7 660.8h0M483.6 659.9h0M477.7 669.6h0M487 657.9h0M484 667.1h0M487.5 659.4h0M475.2 666.1h0M485.8 665.8h0M484.1 663.4h0M486.3 659.5h0M476.7 661h0M481.6 667.1h0M484.7 663.1h0M481.5 658.1h0M475 662.3h0M476.9 666.4h0M480.3 656.5h0M473.7 665.3h0M483.8 659.6h0M478.3 659.2h0M485.4 658.8h0M484.8 664.7h0M475.2 666h0M486.2 662.7h0M484.9 660.2h0M484.4 657h0M474.8 665.6h0M477.3 667.8h0M484.5 662.7h0M482.3 669h0M475.2 665.8h0M482.6 667.5h0M480.8 667.3h0M475.3 662h0M473.3 666h0M474.5 663.2h0M486.6 664.7h0M486.9 661.4h0M480.1 658.7h0M483.3 663.6h0M479 667.6h0M476.8 668h0M479 668.1h0M484.8 665.7h0M475.9 661.3h0M477.9 668.7h0M482.5 657.2h0M481.6 670.3h0M486.1 663.4h0M479.9 666.6h0M476.2 667h0M483 659.6h0M472.9 663.1h0M485.5 661.5h0M485.1 668.2h0M486.6 660.9h0M481.2 657.3h0M475.4 662.6h0M477.7 668.8h0M482.6 659.4h0M484.8 666.8h0M477.5 659.2h0M475.1 659.6h0M474.9 662.2h0M482.2 658.4h0M481.6 667.4h0M485.5 661.4h0M477.5 659.4h0M477.9 657h0M484 658h0M481.4 657.8h0M483 657.8h0M484.9 662.3h0M476.2 661.8h0M478.6 668.2h0M484.5 663.6h0M487.9 659.1h0M485.8 658.8h0M475 662.9h0M487.5 660.8h0M485.3 668.1h0M477.3 665.7h0M472 668.7h0M479.9 657.5h0M484.6 665.9h0M481.6 667.8h0M484 666.5h0M485.4 664h0M484.3 660h0M481.2 667.2h0M480.5 656.7h0M474.2 664.4h0M476.4 662.7h0M480.4 667.6h0M488.1 661.9h0M476.3 667.2h0M484.7 668.2h0M480.3 657.8h0M481.5 669.2h0M483.5 658.7h0M482.8 667h0M480.5 658.4h0M474.7 663.9h0M473.4 663.7h0M477.4 668.6h0M475.5 660.6h0M476 659.6h0M476.6 663.4h0M481.4 668h0M484.1 666.8h0M474.8 666.6h0M479.4 658.9h0M478.1 668.3h0M475.1 664.9h0M476 670.2h0M473.5 664.6h0M475.2 662.6h0M474.1 664h0M477.7 668.6h0M479.6 668.9h0M474.2 664.4h0M486.9 664.6h0M486.7 659.7h0M475.8 662.7h0M475.6 665.1h0M485.7 664.4h0M475.4 661h0M485.7 663.2h0M484.9 661.8h0M482.2 658.7h0M485.2 663.2h0M485.1 664.6h0M480.9 667h0M479.6 659.4h0M476.6 669.2h0M484.2 666h0M476.3 661.1h0M474.3 661.2h0M474 666.8h0M477.5 666.2h0M487.2 662.7h0M486.9 659.8h0M484.3 666.6h0M475.4 663.2h0M474 664.5h0M481 659.6h0M481.4 658h0M482.8 659.9h0M477.3 667.6h0M487.3 662.4h0M477.3 667.2h0M479 666.2h0M474.4 664.1h0M486.2 658.4h0M475.8 663.6h0M484.5 664h0M479.3 655.9h0M479.9 668h0M484.6 661.5h0M481.9 658.5h0M482.1 666h0M474.5 666h0M484.2 667.6h0M486.7 661.6h0M486.2 662.7h0M484 662h0M477 659.2h0M483.2 660.5h0M486.8 666.6h0M472.4 667.9h0M475.7 665.8h0M474.7 663.1h0M485.2 664.1h0M475.9 665.2h0M478.8 659.6h0M474.8 668.8h0M482.5 667.4h0M481.3 668.2h0M474.2 662.9h0M473 668.1h0M476.8 667.3h0M480 659.1h0M482.1 668.3h0M474.2 663h0M484.1 666.1h0M478.8 657.1h0M481.9 658.2h0M485.4 660h0M476.6 668.7h0M478.8 658.8h0M479.8 658.7h0M486.4 661.5h0M477.2 667.4h0M477.4 668.3h0M477.6 660.9h0M477.5 660.7h0M481.4 659.3h0M483.5 658.6h0M481.9 658.3h0M474.6 668.1h0" stroke="#4a86ec" stroke-width="0.62" stroke-linecap="round" fill="none" clip-path="url(#c4)"/>
<path d="M482.3 665.7h0M481.7 665.4h0M477 662h0M483.1 664.8h0M484.8 659.4h0M476.7 663.2h0M483.2 659.2h0M476.7 663.8h0M484.7 662h0M483.4 659.8h0M477.8 658.2h0M479.1 666.5h0M482.7 666.2h0M479 661.3h0M474.2 664.5h0M476.8 665.5h0M476.7 662h0M473.9 664.8h0M484.4 660.5h0M481.1 668h0M474 664.2h0M486 661.2h0M480.3 659.6h0M476.6 664.6h0M481.8 661.1h0M479.8 659.5h0M486.2 663.1h0M482.8 660.1h0M478 659.8h0M481.1 658.5h0M480.3 668.3h0M481.6 665.1h0M479.9 666.7h0M482 659.3h0M477.6 660.9h0M479.6 658.8h0M483.3 658.8h0M482.2 665h0M477.9 665h0M477.5 665.5h0M483.9 660.5h0M484.4 664h0M481.9 660.6h0M480.8 659.6h0M482.1 667h0M479.5 667h0M477.8 662h0M479.9 659.5h0M483.5 659.3h0M480 666.2h0M484.2 662.4h0M479.2 660.8h0M477.2 667h0M477.4 660.8h0M482.2 659h0M479.3 659h0M476.1 665h0M482.4 657.6h0M482 666.7h0M482.4 667.2h0M479 661.4h0M479.3 660.6h0M484.2 662.4h0M484.4 665.7h0M483 663h0M481 667.2h0M479.2 668h0M476.9 666.9h0M483.8 662.6h0M481.6 659.3h0M476.7 666.4h0M483.7 664.6h0M481.3 666.5h0M477.5 666h0M478.2 663.1h0M480.1 659.3h0M484.1 659.6h0M478.7 667.3h0M481.6 659.7h0M480.6 659.7h0M481.9 657.2h0M480.7 665.4h0M476 665h0M484.2 661.5h0M484 664.8h0M475.2 662.5h0M477.6 660.8h0M479.4 660.5h0M482.3 659.5h0M485.4 663h0M478.5 663.6h0M478.5 662.6h0M479.4 659.3h0M483.1 658.5h0M478.2 666.8h0M484.3 666.7h0M478.3 662.1h0M479.5 670.1h0M478.5 659.1h0M477.1 664.7h0M480.9 660.3h0M477.9 661.7h0M480.8 661.1h0M478.4 663.9h0M477.9 663.7h0M482.1 667.2h0M476 662.3h0M477.7 663.4h0M475.6 663.8h0M481.6 666.8h0M482.7 666.6h0M478.6 668h0M487.1 661.2h0M476.3 662.9h0M485.1 661.2h0M481.4 668.3h0M475.2 662.8h0M482.4 665.8h0M478.9 666.7h0M483.5 663.2h0M475.8 664.4h0M477.5 667.4h0M479.6 665.9h0M481.6 659.5h0M482.7 658h0M476.2 661.2h0M479.3 666.5h0M481.4 666.4h0M479.1 667.3h0M477.2 664.8h0M478.8 660.1h0M478.3 667h0M483.1 664.5h0M481 666.3h0M479.3 666.5h0M481.6 666.2h0M482.8 661.6h0M477.8 664.7h0M484 658.8h0M479.4 668h0M484.5 659.8h0M482.1 661h0M475.5 662.9h0M485.8 664.6h0M484.5 664h0M483 665.1h0M484.2 664.7h0M481.7 666.9h0M483.6 664h0M481.4 661h0M476.3 663.7h0M477.1 662.6h0M475.9 664.9h0M480.1 659.8h0M481.2 659h0M481.5 666.9h0M483.7 667h0M484.1 663.9h0M475.9 661.3h0M476.9 659.7h0M483.8 662.6h0M483.1 665.9h0M474.4 664.7h0M483.8 663.4h0M483.8 659.3h0M485 659.2h0M477.1 662.3h0M481.5 666.5h0M481.5 665.3h0M477.8 666h0M481 665h0M477.5 661.6h0M485.1 663.9h0M475.4 664.8h0M475.7 664.1h0M478.1 662.1h0M480 660.4h0M478 661.2h0M480.6 666.4h0M479.8 665.3h0M479 666.4h0M478.1 666.6h0M480 665.6h0M483.8 663h0M479.2 659.4h0M483.7 663.9h0M485.7 663.5h0M482.3 658.1h0M483 664.7h0M480.4 666h0M478.8 666.6h0M485.3 660.6h0M478.2 660.4h0M484.4 663h0M478 668.3h0M483.3 665.5h0M483.3 661.3h0M477.5 659.6h0M477.9 661.9h0M478.5 666.4h0M479.3 667.7h0M482.1 665.5h0M479.4 660.3h0M482.9 657.5h0M480.3 666.7h0M475.6 667.5h0M476.3 662.2h0M482 661.4h0M478.2 667.4h0M483.6 659.9h0M483.9 659.9h0M482.5 658.2h0M477.5 665.9h0M481.3 659.3h0M483.1 658.5h0" stroke="#3fc1c4" stroke-width="0.7" stroke-linecap="round" fill="none" clip-path="url(#c4)"/>
<path d="M479 663.7h0M479.7 659.8h0M475.8 663.9h0M479.5 666.1h0M483.7 660.8h0M483.6 662.1h0M482.3 666h0M483.3 662.2h0M481.2 659.4h0M481.7 661.5h0M480.8 659.8h0M477.2 663.2h0M481.4 664.9h0M483.3 662.9h0M478.9 662.5h0M478.7 663.5h0M478.3 667.3h0M483.2 662.1h0M477.1 666.3h0M479.2 661.5h0M481.2 661.3h0M480.8 664.8h0M479.8 660.8h0M478.5 666h0M483.2 660.4h0M483.3 664.7h0M483.4 660.4h0M478.3 664.5h0M482.6 662.8h0M478.5 664.2h0M477.1 666.3h0M476.9 662.9h0M482.5 664.3h0M482.6 662.4h0M476.2 663.1h0M481.2 665.6h0M478.5 665.6h0M480.5 666.9h0M482.7 662.2h0M479.3 663.6h0M482.4 663.1h0M479.2 661.3h0M482.9 660.8h0M482.3 664.3h0M482 664.8h0M481.2 661h0M483.4 661.1h0M481.6 661.3h0M482.4 664.1h0M484.5 661h0M480.7 661h0M480.7 660.2h0M477.4 663.6h0M481.3 659h0M480.3 660.3h0M478.6 661.9h0M477 664.4h0M480.7 665.2h0M479.1 661.4h0M480.9 661.7h0M480.1 663.2h0M480.4 664.6h0M479.1 660.9h0M478.1 665.6h0M482.7 664.6h0M481.3 660.2h0M480.5 660.8h0M480.3 660h0M480.5 661h0M477.9 666.8h0M480.3 664.2h0M482 659.9h0M482.7 660.1h0M481.9 666.3h0M482.4 663h0M483.5 659.7h0M478.7 661.7h0M484.2 665h0M476.2 663.9h0M481.8 664.8h0M478.7 661.5h0M482.8 661.9h0M482.5 664.9h0M485 664.4h0M476.3 663.7h0M477.7 661.8h0M476.7 665.1h0M477.8 661.7h0M479.4 666.5h0M479.1 660.7h0M483.7 660.4h0M479.3 663.7h0M478.4 665.7h0M479.9 661h0M480.2 662.5h0M477.9 663.2h0M483.5 662.8h0M484.1 665h0M479.4 661.9h0M476.6 663.4h0M478.9 663h0M483 663.5h0M479.4 661.8h0M477.4 662.5h0M481.4 662.4h0M482.5 664.6h0M482.2 661.5h0M481.1 662h0M480.4 665.5h0M482.8 664.1h0M479.7 664.8h0M477 664.1h0M480.4 666.6h0M479 663.3h0M479.1 665.7h0M479.8 661.7h0M481.9 664.5h0M480.6 665.9h0M484.4 662.3h0M478.1 664.6h0M482 660.6h0M483.2 664.6h0M480.9 666.7h0M480 665.1h0M476.8 666.6h0M483.8 663.4h0M484 664.9h0M480.5 662.6h0M479.3 660.9h0M484.5 659.3h0M480.3 663.1h0M481.3 661.9h0M479.8 664.5h0M483 663.4h0M481.9 660.3h0M484.7 662.4h0M477.5 664.7h0M475.8 663h0M479.9 666.2h0M481.4 660.3h0M478.8 666.1h0M482.9 664.3h0M484.9 660.6h0M483.8 660.8h0M478.2 665.5h0M477.4 665.5h0M483 663.8h0M478.6 665h0M479.7 661.1h0M480.8 665.8h0M479.6 665.6h0M482.4 664.5h0M481.2 665.4h0M480.8 665.5h0M480.4 666.1h0M477.1 661.7h0M481.5 664.8h0M482.2 661.9h0M477.5 663.6h0M482.4 662.8h0M476.9 662.4h0M482.4 661.6h0M482.1 661.4h0M478.4 664.7h0M483.8 663.1h0M477.7 664.5h0M483.8 662.9h0M481.7 661.5h0M481.8 660.4h0M479.2 665.3h0M482.3 665.3h0M483.5 661.5h0M482.6 663.9h0M480.4 666.3h0M477.7 664.4h0M482.4 664.2h0M479.6 661.5h0M479.6 660.6h0M480.1 665.6h0M483.5 660.2h0M477.3 664.9h0M481.7 662.5h0M481.5 661.9h0M481.8 661.7h0M479.3 664.1h0M482.5 660.7h0M479.6 665.4h0M478.9 661.9h0M480.4 665.6h0M477.7 664.4h0M480.9 665.8h0M477 661.6h0M483.5 659.4h0M480.6 662.2h0M482.6 664.6h0M478.1 663h0M482.5 661h0M479.4 660.7h0M484 665.3h0M482.1 666.2h0M482.8 662.4h0M481.8 664.5h0M481.2 665.4h0M478.8 662.8h0M481 660.3h0M477.9 663.5h0M482.3 661.1h0M480.8 662h0M480.4 661h0M478.8 665.3h0M479.4 664h0M479.4 661.2h0M482.1 663.5h0M480.1 661.4h0M478.6 661h0M482.6 659.7h0M478.1 664.3h0M484.7 663.8h0M484 663.1h0M479.1 665.1h0M477.9 662h0M481.7 663.3h0M483.8 663.4h0M479.4 663.2h0M480.1 665.5h0M480.5 661h0M479.3 661.3h0M484 664.6h0M480.6 665.2h0M478.1 665h0M480.9 664.7h0M476.5 664.5h0M484.5 662.2h0M480.4 666.6h0M482.8 664.3h0M481.7 660.5h0M478.3 662.7h0M477.9 660.6h0M477.9 663h0M478.3 664.4h0M483.1 661.2h0M477.9 663.2h0M478.1 661h0M480.6 664.7h0M480.8 665.9h0M478 662.2h0M478.9 661.6h0M478.5 664.1h0M482.9 664.8h0M478.8 662h0M479.4 660.2h0M480.6 665.3h0M483.8 663.7h0M482.2 664.9h0M484.5 659.3h0M481.3 664.8h0M481.8 661.5h0M477.3 662.8h0M483.8 659.8h0M481 660h0M482.9 662.5h0M478.8 664h0M483.3 662.6h0M479.1 660.9h0M481.3 662.2h0" stroke="#5ccf58" stroke-width="0.76" stroke-linecap="round" fill="none" clip-path="url(#c4)"/>
<path d="M481.8 663.5h0M479.7 664.3h0M480.7 662.9h0M482.8 662.9h0M480 665.5h0M480.2 665h0M481.8 662.2h0M482.3 662.3h0M481.3 662.4h0M482.3 662h0M480.7 663.1h0M480 661.9h0M479.8 663h0M479.3 663.7h0M479.4 662.1h0M481.6 661.4h0M479.3 661h0M480.3 661.4h0M478.5 662.1h0M480.7 662.5h0M481.1 663.4h0M481.6 662.1h0M480.4 663.5h0M480.9 664h0M478.9 662.9h0M479.8 662.7h0M481.3 661.9h0M480.6 663.5h0M480.1 664.1h0M480.6 663.6h0M480.6 662.8h0M480.2 663.7h0M479.4 664.1h0M481.1 662.8h0M480.2 666h0M480.2 661.3h0M479.8 662.5h0M480.7 660.8h0M482.4 663.9h0M480.2 664.8h0M479.5 663.2h0M482.1 662.6h0M479.9 662.6h0M482.9 661.6h0M481.9 664.4h0M480.7 662.1h0M480.9 660.8h0M479.6 660.4h0M477.4 665.8h0M480.3 662.6h0M482.1 663.2h0M483.2 662.1h0M479.2 662.8h0M482.9 663.1h0M480.4 662.6h0M478.3 664h0M482.6 662.9h0M480.7 666h0M480.4 663.1h0M481.2 664.3h0M480.6 661.3h0M479.8 664.9h0M483.3 662.2h0M481.5 664.4h0M480 662.1h0M482.3 661.5h0M480.5 663.5h0M481 660.4h0M478.8 661.5h0M480.1 663.6h0M480.4 662.3h0M480.6 662h0M481.1 661.3h0M480.8 662.2h0M482.8 665.4h0M480.7 662.5h0M479.7 662.4h0M481.5 663h0M483.1 663.6h0M480.7 663.9h0M481.7 663.4h0M479.2 664.1h0M481.5 662h0M477.1 661.1h0M479.1 664h0M480 664h0M480 662.3h0M481.7 662.6h0" stroke="#c4df48" stroke-width="0.8" stroke-linecap="round" fill="none" clip-path="url(#c4)"/>
<rect x="404.8" y="637.2" width="27.1" height="19.9" fill="none" stroke="#444" stroke-width="0.55"/>
<rect x="469.9" y="637.2" width="27.5" height="19.9" fill="none" stroke="#444" stroke-width="0.55"/>
<text x="443.9" y="645.02" font-size="7" text-anchor="middle">17.2</text>
<text x="509" y="645.02" font-size="7" text-anchor="middle">4.61</text>
<text x="393.7" y="705.27" font-size="8.8">CD3-SB702</text>
<line x1="448.1" y1="701.7" x2="507" y2="701.7" stroke="#000" stroke-width="1.1"/>
<polygon points="513,701.7 505.8,698.4 505.8,705" fill="#000"/>
<circle cx="553.7" cy="626.9" r="2.1" fill="#000"/>
<text x="559.6" y="629.7" font-size="7.5">UnTx</text>
<rect x="551.7" y="634.7" width="4" height="4" fill="#ff1f6b"/>
<text x="559.6" y="639.5" font-size="7.5">2-DG</text>
<line x1="548.4" y1="647.1" x2="548.4" y2="690.8" stroke="#000" stroke-width="0.9"/>
<line x1="548" y1="690.4" x2="595.8" y2="690.4" stroke="#000" stroke-width="0.9"/>
<line x1="546.2" y1="690.4" x2="548.4" y2="690.4" stroke="#000" stroke-width="0.8"/>
<text x="545.5" y="692.78" font-size="6.6" text-anchor="end">0</text>
<line x1="546.2" y1="679.4" x2="548.4" y2="679.4" stroke="#000" stroke-width="0.8"/>
<text x="545.5" y="681.78" font-size="6.6" text-anchor="end">5</text>
<line x1="546.2" y1="668.9" x2="548.4" y2="668.9" stroke="#000" stroke-width="0.8"/>
<text x="545.5" y="671.28" font-size="6.6" text-anchor="end">10</text>
<line x1="546.2" y1="657.9" x2="548.4" y2="657.9" stroke="#000" stroke-width="0.8"/>
<text x="545.5" y="660.28" font-size="6.6" text-anchor="end">15</text>
<line x1="546.2" y1="647.4" x2="548.4" y2="647.4" stroke="#000" stroke-width="0.8"/>
<text x="545.5" y="649.78" font-size="6.6" text-anchor="end">20</text>
<line x1="562.4" y1="690.4" x2="562.4" y2="692.6" stroke="#000" stroke-width="0.8"/>
<line x1="582.7" y1="690.4" x2="582.7" y2="692.6" stroke="#000" stroke-width="0.8"/>
<text x="531.4" y="672.23" font-size="6.2" text-anchor="middle" transform="rotate(-90 531.4 670)">% of IFN-γ<tspan font-size="70%" dy="-0.4em">+</tspan><tspan dy="0.28em"> cells</tspan></text>
<text x="572.65" y="648.08" font-size="8.8" letter-spacing="0.5" text-anchor="middle">****</text>
<line x1="562.4" y1="646.3" x2="582.7" y2="646.3" stroke="#000" stroke-width="0.8"/>
<line x1="558.2" y1="652.6" x2="567" y2="652.6" stroke="#000" stroke-width="0.8"/>
<circle cx="558.2" cy="653.3" r="1.9" fill="#000"/>
<circle cx="562.8" cy="651.4" r="1.9" fill="#000"/>
<circle cx="567" cy="652.8" r="1.9" fill="#000"/>
<rect x="576.1" y="681.7" width="3.8" height="3.8" fill="#ff1f6b"/>
<rect x="580.8" y="679.4" width="3.8" height="3.8" fill="#ff1f6b"/>
<rect x="585" y="681" width="3.8" height="3.8" fill="#ff1f6b"/>
</g>

</svg>
</body></html>
